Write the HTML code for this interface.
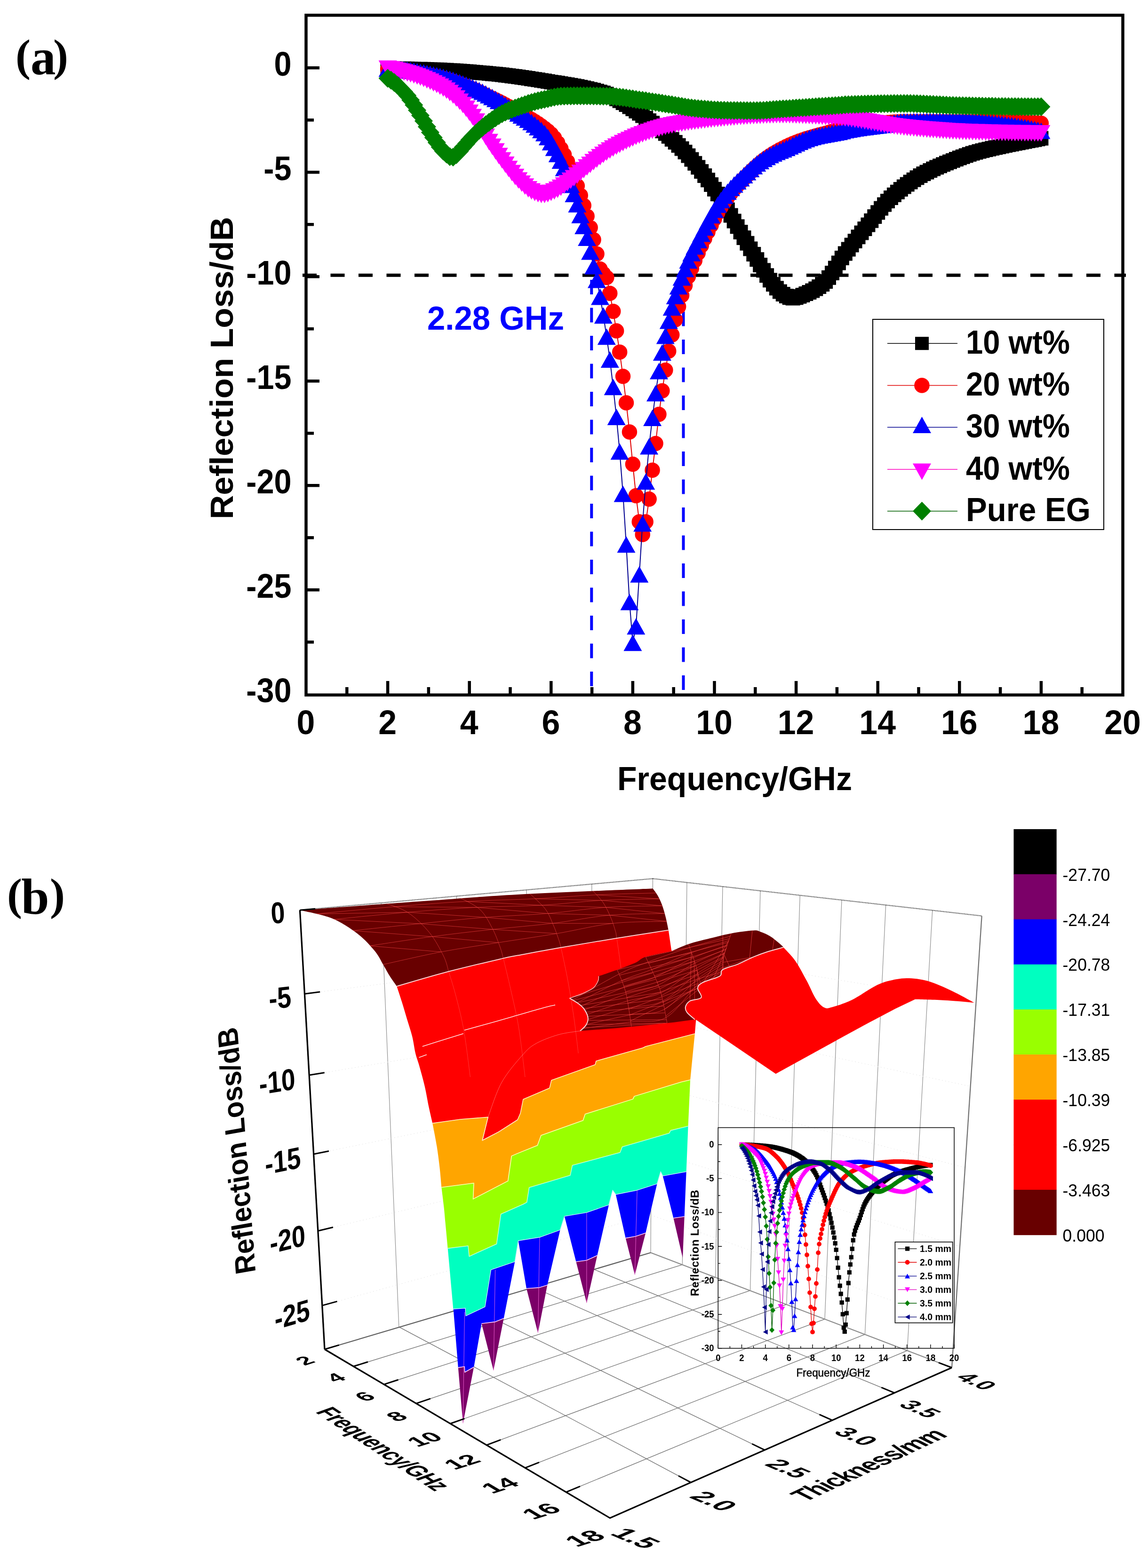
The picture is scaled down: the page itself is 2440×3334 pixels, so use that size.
<!DOCTYPE html>
<html lang="en">
<head>
<meta charset="utf-8">
<title>Reflection loss figure</title>
<style>
html,body{margin:0;padding:0;background:#fff;}
body{width:2440px;height:3334px;overflow:hidden;}
svg{display:block;}
text{font-family:"Liberation Sans",Arial,sans-serif;}
.serif{font-family:"Liberation Serif","Times New Roman",serif;}
</style>
</head>
<body>
<svg width="2440" height="3334" viewBox="0 0 2440 3334">
<rect width="2440" height="3334" fill="#ffffff"/>
<text class="serif" font-weight="bold" y="158"><tspan x="33" y="149.5" font-size="96">(</tspan><tspan x="65" y="158" font-size="107">a</tspan><tspan x="113" y="149.5" font-size="96">)</tspan></text>
<text class="serif" font-weight="bold" y="1943"><tspan x="15" y="1934" font-size="96">(</tspan><tspan x="45" y="1943" font-size="107">b</tspan><tspan x="106" y="1934" font-size="96">)</tspan></text>
<g id="panel-a" font-family="'Liberation Sans', Arial, sans-serif">
<path d="M643 585.3H2393" stroke="#000" stroke-width="7" stroke-dasharray="30 29.5" fill="none"/>
<path d="M1257.3 595V1476" stroke="#0000ff" stroke-width="6" stroke-dasharray="31 28.5" fill="none"/>
<path d="M1452.5 603V1476" stroke="#0000ff" stroke-width="6" stroke-dasharray="31 28.5" fill="none"/>
<path d="M824.1 145.7 L831 145.7 L838 145.8 L844.9 145.9 L851.9 146 L858.8 146.1 L865.8 146.3 L872.7 146.5 L879.7 146.7 L886.6 146.9 L893.5 147.1 L900.5 147.3 L907.4 147.5 L914.4 147.8 L921.3 148 L928.3 148.3 L935.2 148.6 L942.1 148.9 L949.1 149.3 L956 149.7 L963 150.1 L969.9 150.6 L976.9 151 L983.8 151.5 L990.8 152.1 L997.7 152.6 L1004.6 153.2 L1011.6 153.8 L1018.5 154.4 L1025.5 155 L1032.4 155.6 L1039.4 156.3 L1046.3 156.9 L1053.3 157.6 L1060.2 158.3 L1067.1 159.1 L1074.1 159.9 L1081 160.8 L1088 161.7 L1094.9 162.6 L1101.9 163.6 L1108.8 164.6 L1115.7 165.6 L1122.7 166.6 L1129.6 167.7 L1136.6 168.7 L1143.5 169.8 L1150.5 171 L1157.4 172.1 L1164.4 173.2 L1171.3 174.4 L1178.2 175.5 L1185.2 176.6 L1192.1 177.7 L1199.1 178.9 L1206 180 L1213 181.3 L1219.9 182.5 L1226.9 183.8 L1233.8 185.2 L1240.7 186.7 L1247.7 188.2 L1254.6 189.9 L1261.6 191.6 L1268.5 193.4 L1275.5 195.4 L1282.4 197.5 L1289.3 199.9 L1296.3 202.9 L1303.2 206.4 L1310.2 210.2 L1317.1 214.3 L1324.1 218.4 L1331 222.6 L1338 226.9 L1344.9 231.4 L1351.8 236.2 L1358.8 241.1 L1365.7 246.1 L1372.7 251.3 L1379.6 256.5 L1386.6 261.8 L1393.5 267.2 L1400.5 272.7 L1407.4 278.4 L1414.3 284.1 L1421.3 290.1 L1428.2 296.3 L1435.2 302.6 L1442.1 309.2 L1449.1 316.1 L1456 323.3 L1462.9 331 L1469.9 339 L1476.8 347.2 L1483.8 355.7 L1490.7 364.4 L1497.7 373.4 L1504.6 382.8 L1511.6 392.4 L1518.5 402.3 L1525.4 412.6 L1532.4 423.1 L1539.3 434.3 L1546.3 445.9 L1553.2 457.9 L1560.2 469.9 L1567.1 481.8 L1574.1 493.6 L1581 505.4 L1587.9 517.3 L1594.9 529 L1601.8 540.4 L1608.8 551.8 L1615.7 563.4 L1622.7 574.8 L1629.6 585.7 L1636.5 595.7 L1643.5 604.5 L1650.4 612.7 L1657.4 620.1 L1664.3 625.6 L1671.3 629.6 L1678.2 632.8 L1685.2 634 L1692.1 632.8 L1699 630.3 L1706 627.4 L1712.9 624.6 L1719.9 621.5 L1726.8 618 L1733.8 614 L1740.7 609.6 L1747.7 604.5 L1754.6 598.5 L1761.5 590.3 L1768.5 580.5 L1775.4 569.9 L1782.4 559 L1789.3 548.5 L1796.3 539 L1803.2 530 L1810.1 521.1 L1817.1 512.4 L1824 503.7 L1831 495.1 L1837.9 486.6 L1844.9 478.1 L1851.8 469.3 L1858.8 460.5 L1865.7 451.7 L1872.6 443.1 L1879.6 434.9 L1886.5 427.4 L1893.5 420.6 L1900.4 414.3 L1907.4 408.3 L1914.3 402.5 L1921.3 397.1 L1928.2 391.9 L1935.1 386.9 L1942.1 382.2 L1949 377.8 L1956 373.6 L1962.9 369.6 L1969.9 365.9 L1976.8 362.4 L1983.7 359 L1990.7 355.8 L1997.6 352.7 L2004.6 349.7 L2011.5 346.8 L2018.5 344 L2025.4 341.2 L2032.4 338.4 L2039.3 335.7 L2046.2 333.2 L2053.2 330.7 L2060.1 328.3 L2067.1 326.1 L2074 324 L2081 322.1 L2087.9 320.2 L2094.9 318.5 L2101.8 316.9 L2108.7 315.3 L2115.7 313.7 L2122.6 312.2 L2129.6 310.7 L2136.5 309.2 L2143.5 307.8 L2150.4 306.4 L2157.3 305 L2164.3 303.7 L2171.2 302.3 L2178.2 301 L2185.1 299.6 L2192.1 298.3 L2199 296.9 L2206 295.5 L2212.9 294.1" fill="none" stroke="#000000" stroke-width="2"/>
<path d="M808.6 130.2h31v31h-31zM815.5 130.2h31v31h-31zM822.5 130.3h31v31h-31zM829.4 130.4h31v31h-31zM836.4 130.5h31v31h-31zM843.3 130.6h31v31h-31zM850.3 130.8h31v31h-31zM857.2 131h31v31h-31zM864.2 131.2h31v31h-31zM871.1 131.4h31v31h-31zM878 131.6h31v31h-31zM885 131.8h31v31h-31zM891.9 132h31v31h-31zM898.9 132.3h31v31h-31zM905.8 132.5h31v31h-31zM912.8 132.8h31v31h-31zM919.7 133.1h31v31h-31zM926.6 133.4h31v31h-31zM933.6 133.8h31v31h-31zM940.5 134.2h31v31h-31zM947.5 134.6h31v31h-31zM954.4 135.1h31v31h-31zM961.4 135.5h31v31h-31zM968.3 136h31v31h-31zM975.3 136.6h31v31h-31zM982.2 137.1h31v31h-31zM989.1 137.7h31v31h-31zM996.1 138.3h31v31h-31zM1003 138.9h31v31h-31zM1010 139.5h31v31h-31zM1016.9 140.1h31v31h-31zM1023.9 140.8h31v31h-31zM1030.8 141.4h31v31h-31zM1037.8 142.1h31v31h-31zM1044.7 142.8h31v31h-31zM1051.6 143.6h31v31h-31zM1058.6 144.4h31v31h-31zM1065.5 145.3h31v31h-31zM1072.5 146.2h31v31h-31zM1079.4 147.1h31v31h-31zM1086.4 148.1h31v31h-31zM1093.3 149.1h31v31h-31zM1100.2 150.1h31v31h-31zM1107.2 151.1h31v31h-31zM1114.1 152.2h31v31h-31zM1121.1 153.2h31v31h-31zM1128 154.3h31v31h-31zM1135 155.5h31v31h-31zM1141.9 156.6h31v31h-31zM1148.9 157.7h31v31h-31zM1155.8 158.9h31v31h-31zM1162.7 160h31v31h-31zM1169.7 161.1h31v31h-31zM1176.6 162.2h31v31h-31zM1183.6 163.4h31v31h-31zM1190.5 164.5h31v31h-31zM1197.5 165.8h31v31h-31zM1204.4 167h31v31h-31zM1211.4 168.3h31v31h-31zM1218.3 169.7h31v31h-31zM1225.2 171.2h31v31h-31zM1232.2 172.7h31v31h-31zM1239.1 174.4h31v31h-31zM1246.1 176.1h31v31h-31zM1253 177.9h31v31h-31zM1260 179.9h31v31h-31zM1266.9 182h31v31h-31zM1273.8 184.4h31v31h-31zM1280.8 187.4h31v31h-31zM1287.7 190.9h31v31h-31zM1294.7 194.7h31v31h-31zM1301.6 198.8h31v31h-31zM1308.6 202.9h31v31h-31zM1315.5 207.1h31v31h-31zM1322.5 211.4h31v31h-31zM1329.4 215.9h31v31h-31zM1336.3 220.7h31v31h-31zM1343.3 225.6h31v31h-31zM1350.2 230.6h31v31h-31zM1357.2 235.8h31v31h-31zM1364.1 241h31v31h-31zM1371.1 246.3h31v31h-31zM1378 251.7h31v31h-31zM1385 257.2h31v31h-31zM1391.9 262.9h31v31h-31zM1398.8 268.6h31v31h-31zM1405.8 274.6h31v31h-31zM1412.7 280.8h31v31h-31zM1419.7 287.1h31v31h-31zM1426.6 293.7h31v31h-31zM1433.6 300.6h31v31h-31zM1440.5 307.8h31v31h-31zM1447.4 315.5h31v31h-31zM1454.4 323.5h31v31h-31zM1461.3 331.7h31v31h-31zM1468.3 340.2h31v31h-31zM1475.2 348.9h31v31h-31zM1482.2 357.9h31v31h-31zM1489.1 367.3h31v31h-31zM1496.1 376.9h31v31h-31zM1503 386.8h31v31h-31zM1509.9 397.1h31v31h-31zM1516.9 407.6h31v31h-31zM1523.8 418.8h31v31h-31zM1530.8 430.4h31v31h-31zM1537.7 442.4h31v31h-31zM1544.7 454.4h31v31h-31zM1551.6 466.3h31v31h-31zM1558.6 478.1h31v31h-31zM1565.5 489.9h31v31h-31zM1572.4 501.8h31v31h-31zM1579.4 513.5h31v31h-31zM1586.3 524.9h31v31h-31zM1593.3 536.3h31v31h-31zM1600.2 547.9h31v31h-31zM1607.2 559.3h31v31h-31zM1614.1 570.2h31v31h-31zM1621 580.2h31v31h-31zM1628 589h31v31h-31zM1634.9 597.2h31v31h-31zM1641.9 604.6h31v31h-31zM1648.8 610.1h31v31h-31zM1655.8 614.1h31v31h-31zM1662.7 617.3h31v31h-31zM1669.7 618.5h31v31h-31zM1676.6 617.3h31v31h-31zM1683.5 614.8h31v31h-31zM1690.5 611.9h31v31h-31zM1697.4 609.1h31v31h-31zM1704.4 606h31v31h-31zM1711.3 602.5h31v31h-31zM1718.3 598.5h31v31h-31zM1725.2 594.1h31v31h-31zM1732.2 589h31v31h-31zM1739.1 583h31v31h-31zM1746 574.8h31v31h-31zM1753 565h31v31h-31zM1759.9 554.4h31v31h-31zM1766.9 543.5h31v31h-31zM1773.8 533h31v31h-31zM1780.8 523.5h31v31h-31zM1787.7 514.5h31v31h-31zM1794.6 505.6h31v31h-31zM1801.6 496.9h31v31h-31zM1808.5 488.2h31v31h-31zM1815.5 479.6h31v31h-31zM1822.4 471.1h31v31h-31zM1829.4 462.6h31v31h-31zM1836.3 453.8h31v31h-31zM1843.3 445h31v31h-31zM1850.2 436.2h31v31h-31zM1857.1 427.6h31v31h-31zM1864.1 419.4h31v31h-31zM1871 411.9h31v31h-31zM1878 405.1h31v31h-31zM1884.9 398.8h31v31h-31zM1891.9 392.8h31v31h-31zM1898.8 387h31v31h-31zM1905.8 381.6h31v31h-31zM1912.7 376.4h31v31h-31zM1919.6 371.4h31v31h-31zM1926.6 366.7h31v31h-31zM1933.5 362.3h31v31h-31zM1940.5 358.1h31v31h-31zM1947.4 354.1h31v31h-31zM1954.4 350.4h31v31h-31zM1961.3 346.9h31v31h-31zM1968.2 343.5h31v31h-31zM1975.2 340.3h31v31h-31zM1982.1 337.2h31v31h-31zM1989.1 334.2h31v31h-31zM1996 331.3h31v31h-31zM2003 328.5h31v31h-31zM2009.9 325.7h31v31h-31zM2016.9 322.9h31v31h-31zM2023.8 320.2h31v31h-31zM2030.7 317.7h31v31h-31zM2037.7 315.2h31v31h-31zM2044.6 312.8h31v31h-31zM2051.6 310.6h31v31h-31zM2058.5 308.5h31v31h-31zM2065.5 306.6h31v31h-31zM2072.4 304.7h31v31h-31zM2079.4 303h31v31h-31zM2086.3 301.4h31v31h-31zM2093.2 299.8h31v31h-31zM2100.2 298.2h31v31h-31zM2107.1 296.7h31v31h-31zM2114.1 295.2h31v31h-31zM2121 293.7h31v31h-31zM2128 292.3h31v31h-31zM2134.9 290.9h31v31h-31zM2141.8 289.5h31v31h-31zM2148.8 288.2h31v31h-31zM2155.7 286.8h31v31h-31zM2162.7 285.5h31v31h-31zM2169.6 284.1h31v31h-31zM2176.6 282.8h31v31h-31zM2183.5 281.4h31v31h-31zM2190.5 280h31v31h-31zM2197.4 278.6h31v31h-31z" fill="#000000"/>
<path d="M824.1 147 L831 148.4 L838 149.5 L844.9 150.4 L851.9 150.9 L858.8 151.4 L865.8 152.1 L872.7 153 L879.7 154 L886.6 155.2 L893.5 156.4 L900.5 157.6 L907.4 159 L914.4 160.4 L921.3 162 L928.3 163.6 L935.2 165.2 L942.1 167 L949.1 168.9 L956 171 L963 173.3 L969.9 175.8 L976.9 178.3 L983.8 180.9 L990.8 183.5 L997.7 186.2 L1004.6 189 L1011.6 192 L1018.5 195.2 L1025.5 198.6 L1032.4 202.2 L1039.4 205.7 L1046.3 209 L1053.3 212.3 L1060.2 215.6 L1067.1 219.1 L1074.1 222.8 L1081 226.5 L1088 230.3 L1094.9 234.2 L1101.9 238.2 L1108.8 242.2 L1115.7 246 L1122.7 249.9 L1129.6 253.9 L1136.6 258.2 L1143.5 262.8 L1150.5 267.8 L1157.4 273.1 L1164.4 278.5 L1171.3 285 L1178.2 293.2 L1185.2 303.5 L1192.1 316 L1199.1 329.1 L1206 343.4 L1213 359.5 L1219.9 376.8 L1226.9 395.3 L1233.8 415.4 L1240.7 437.1 L1247.7 459.8 L1254.6 483.9 L1261.6 509.7 L1268.5 540 L1275.5 572.1 L1282.4 582.1 L1289.3 590 L1296.3 623.8 L1303.2 662.1 L1310.2 703.4 L1317.1 748.8 L1324.1 800.2 L1331 856.5 L1338 918.4 L1344.9 987 L1351.8 1054 L1358.8 1109.5 L1365.7 1136.4 L1372.7 1109.5 L1379.6 1061.2 L1386.6 999.8 L1393.5 943 L1400.5 881 L1407.4 831 L1414.3 787 L1421.3 746.5 L1428.2 712 L1435.2 680 L1442.1 652 L1449.1 628 L1456 607 L1462.9 588 L1469.9 570.6 L1476.8 554 L1483.8 537.9 L1490.7 522.2 L1497.7 507.2 L1504.6 493 L1511.6 479 L1518.5 465.5 L1525.4 452.6 L1532.4 440.5 L1539.3 429.7 L1546.3 419.9 L1553.2 410.9 L1560.2 402.4 L1567.1 394.5 L1574.1 387 L1581 379.9 L1587.9 372.9 L1594.9 366 L1601.8 359.3 L1608.8 352.9 L1615.7 346.8 L1622.7 341.1 L1629.6 335.7 L1636.5 330.9 L1643.5 326.5 L1650.4 322.4 L1657.4 318.6 L1664.3 314.9 L1671.3 311.5 L1678.2 308.3 L1685.2 305.3 L1692.1 302.5 L1699 299.8 L1706 297.4 L1712.9 295.1 L1719.9 292.9 L1726.8 290.9 L1733.8 288.9 L1740.7 287 L1747.7 285.2 L1754.6 283.4 L1761.5 281.5 L1768.5 279.6 L1775.4 277.7 L1782.4 275.8 L1789.3 274.1 L1796.3 272.7 L1803.2 271.5 L1810.1 270.4 L1817.1 269.3 L1824 268.2 L1831 267.1 L1837.9 266.1 L1844.9 265.1 L1851.8 264.2 L1858.8 263.3 L1865.7 262.5 L1872.6 261.7 L1879.6 261 L1886.5 260.4 L1893.5 259.9 L1900.4 259.5 L1907.4 259.2 L1914.3 259.1 L1921.3 259 L1928.2 259 L1935.1 259 L1942.1 259 L1949 259 L1956 259 L1962.9 259 L1969.9 259 L1976.8 259 L1983.7 259 L1990.7 259 L1997.6 259 L2004.6 259 L2011.5 259 L2018.5 259 L2025.4 259 L2032.4 259 L2039.3 259 L2046.2 259 L2053.2 259 L2060.1 259 L2067.1 259 L2074 259 L2081 259 L2087.9 259 L2094.9 259 L2101.8 259 L2108.7 259 L2115.7 259.1 L2122.6 259.2 L2129.6 259.3 L2136.5 259.4 L2143.5 259.6 L2150.4 259.7 L2157.3 259.9 L2164.3 260 L2171.2 260.2 L2178.2 260.4 L2185.1 260.7 L2192.1 261 L2199 261.3 L2206 261.6 L2212.9 262" fill="none" stroke="#e00000" stroke-width="2"/>
<path d="M807.9 147a16.2 16.2 0 1 0 32.5 0a16.2 16.2 0 1 0 -32.5 0zM814.8 148.4a16.2 16.2 0 1 0 32.5 0a16.2 16.2 0 1 0 -32.5 0zM821.7 149.5a16.2 16.2 0 1 0 32.5 0a16.2 16.2 0 1 0 -32.5 0zM828.7 150.4a16.2 16.2 0 1 0 32.5 0a16.2 16.2 0 1 0 -32.5 0zM835.6 150.9a16.2 16.2 0 1 0 32.5 0a16.2 16.2 0 1 0 -32.5 0zM842.6 151.4a16.2 16.2 0 1 0 32.5 0a16.2 16.2 0 1 0 -32.5 0zM849.5 152.1a16.2 16.2 0 1 0 32.5 0a16.2 16.2 0 1 0 -32.5 0zM856.5 153a16.2 16.2 0 1 0 32.5 0a16.2 16.2 0 1 0 -32.5 0zM863.4 154a16.2 16.2 0 1 0 32.5 0a16.2 16.2 0 1 0 -32.5 0zM870.3 155.2a16.2 16.2 0 1 0 32.5 0a16.2 16.2 0 1 0 -32.5 0zM877.3 156.4a16.2 16.2 0 1 0 32.5 0a16.2 16.2 0 1 0 -32.5 0zM884.2 157.6a16.2 16.2 0 1 0 32.5 0a16.2 16.2 0 1 0 -32.5 0zM891.2 159a16.2 16.2 0 1 0 32.5 0a16.2 16.2 0 1 0 -32.5 0zM898.1 160.4a16.2 16.2 0 1 0 32.5 0a16.2 16.2 0 1 0 -32.5 0zM905.1 162a16.2 16.2 0 1 0 32.5 0a16.2 16.2 0 1 0 -32.5 0zM912 163.6a16.2 16.2 0 1 0 32.5 0a16.2 16.2 0 1 0 -32.5 0zM919 165.2a16.2 16.2 0 1 0 32.5 0a16.2 16.2 0 1 0 -32.5 0zM925.9 167a16.2 16.2 0 1 0 32.5 0a16.2 16.2 0 1 0 -32.5 0zM932.8 168.9a16.2 16.2 0 1 0 32.5 0a16.2 16.2 0 1 0 -32.5 0zM939.8 171a16.2 16.2 0 1 0 32.5 0a16.2 16.2 0 1 0 -32.5 0zM946.7 173.3a16.2 16.2 0 1 0 32.5 0a16.2 16.2 0 1 0 -32.5 0zM953.7 175.8a16.2 16.2 0 1 0 32.5 0a16.2 16.2 0 1 0 -32.5 0zM960.6 178.3a16.2 16.2 0 1 0 32.5 0a16.2 16.2 0 1 0 -32.5 0zM967.6 180.9a16.2 16.2 0 1 0 32.5 0a16.2 16.2 0 1 0 -32.5 0zM974.5 183.5a16.2 16.2 0 1 0 32.5 0a16.2 16.2 0 1 0 -32.5 0zM981.5 186.2a16.2 16.2 0 1 0 32.5 0a16.2 16.2 0 1 0 -32.5 0zM988.4 189a16.2 16.2 0 1 0 32.5 0a16.2 16.2 0 1 0 -32.5 0zM995.3 192a16.2 16.2 0 1 0 32.5 0a16.2 16.2 0 1 0 -32.5 0zM1002.3 195.2a16.2 16.2 0 1 0 32.5 0a16.2 16.2 0 1 0 -32.5 0zM1009.2 198.6a16.2 16.2 0 1 0 32.5 0a16.2 16.2 0 1 0 -32.5 0zM1016.2 202.2a16.2 16.2 0 1 0 32.5 0a16.2 16.2 0 1 0 -32.5 0zM1023.1 205.7a16.2 16.2 0 1 0 32.5 0a16.2 16.2 0 1 0 -32.5 0zM1030.1 209a16.2 16.2 0 1 0 32.5 0a16.2 16.2 0 1 0 -32.5 0zM1037 212.3a16.2 16.2 0 1 0 32.5 0a16.2 16.2 0 1 0 -32.5 0zM1043.9 215.6a16.2 16.2 0 1 0 32.5 0a16.2 16.2 0 1 0 -32.5 0zM1050.9 219.1a16.2 16.2 0 1 0 32.5 0a16.2 16.2 0 1 0 -32.5 0zM1057.8 222.8a16.2 16.2 0 1 0 32.5 0a16.2 16.2 0 1 0 -32.5 0zM1064.8 226.5a16.2 16.2 0 1 0 32.5 0a16.2 16.2 0 1 0 -32.5 0zM1071.7 230.3a16.2 16.2 0 1 0 32.5 0a16.2 16.2 0 1 0 -32.5 0zM1078.7 234.2a16.2 16.2 0 1 0 32.5 0a16.2 16.2 0 1 0 -32.5 0zM1085.6 238.2a16.2 16.2 0 1 0 32.5 0a16.2 16.2 0 1 0 -32.5 0zM1092.6 242.2a16.2 16.2 0 1 0 32.5 0a16.2 16.2 0 1 0 -32.5 0zM1099.5 246a16.2 16.2 0 1 0 32.5 0a16.2 16.2 0 1 0 -32.5 0zM1106.4 249.9a16.2 16.2 0 1 0 32.5 0a16.2 16.2 0 1 0 -32.5 0zM1113.4 253.9a16.2 16.2 0 1 0 32.5 0a16.2 16.2 0 1 0 -32.5 0zM1120.3 258.2a16.2 16.2 0 1 0 32.5 0a16.2 16.2 0 1 0 -32.5 0zM1127.3 262.8a16.2 16.2 0 1 0 32.5 0a16.2 16.2 0 1 0 -32.5 0zM1134.2 267.8a16.2 16.2 0 1 0 32.5 0a16.2 16.2 0 1 0 -32.5 0zM1141.2 273.1a16.2 16.2 0 1 0 32.5 0a16.2 16.2 0 1 0 -32.5 0zM1148.1 278.5a16.2 16.2 0 1 0 32.5 0a16.2 16.2 0 1 0 -32.5 0zM1155 285a16.2 16.2 0 1 0 32.5 0a16.2 16.2 0 1 0 -32.5 0zM1162 293.2a16.2 16.2 0 1 0 32.5 0a16.2 16.2 0 1 0 -32.5 0zM1168.9 303.5a16.2 16.2 0 1 0 32.5 0a16.2 16.2 0 1 0 -32.5 0zM1175.9 316a16.2 16.2 0 1 0 32.5 0a16.2 16.2 0 1 0 -32.5 0zM1182.8 329.1a16.2 16.2 0 1 0 32.5 0a16.2 16.2 0 1 0 -32.5 0zM1189.8 343.4a16.2 16.2 0 1 0 32.5 0a16.2 16.2 0 1 0 -32.5 0zM1196.7 359.5a16.2 16.2 0 1 0 32.5 0a16.2 16.2 0 1 0 -32.5 0zM1203.7 376.8a16.2 16.2 0 1 0 32.5 0a16.2 16.2 0 1 0 -32.5 0zM1210.6 395.3a16.2 16.2 0 1 0 32.5 0a16.2 16.2 0 1 0 -32.5 0zM1217.5 415.4a16.2 16.2 0 1 0 32.5 0a16.2 16.2 0 1 0 -32.5 0zM1224.5 437.1a16.2 16.2 0 1 0 32.5 0a16.2 16.2 0 1 0 -32.5 0zM1231.4 459.8a16.2 16.2 0 1 0 32.5 0a16.2 16.2 0 1 0 -32.5 0zM1238.4 483.9a16.2 16.2 0 1 0 32.5 0a16.2 16.2 0 1 0 -32.5 0zM1245.3 509.7a16.2 16.2 0 1 0 32.5 0a16.2 16.2 0 1 0 -32.5 0zM1252.3 540a16.2 16.2 0 1 0 32.5 0a16.2 16.2 0 1 0 -32.5 0zM1259.2 572.1a16.2 16.2 0 1 0 32.5 0a16.2 16.2 0 1 0 -32.5 0zM1266.2 582.1a16.2 16.2 0 1 0 32.5 0a16.2 16.2 0 1 0 -32.5 0zM1273.1 590a16.2 16.2 0 1 0 32.5 0a16.2 16.2 0 1 0 -32.5 0zM1280 623.8a16.2 16.2 0 1 0 32.5 0a16.2 16.2 0 1 0 -32.5 0zM1287 662.1a16.2 16.2 0 1 0 32.5 0a16.2 16.2 0 1 0 -32.5 0zM1293.9 703.4a16.2 16.2 0 1 0 32.5 0a16.2 16.2 0 1 0 -32.5 0zM1300.9 748.8a16.2 16.2 0 1 0 32.5 0a16.2 16.2 0 1 0 -32.5 0zM1307.8 800.2a16.2 16.2 0 1 0 32.5 0a16.2 16.2 0 1 0 -32.5 0zM1314.8 856.5a16.2 16.2 0 1 0 32.5 0a16.2 16.2 0 1 0 -32.5 0zM1321.7 918.4a16.2 16.2 0 1 0 32.5 0a16.2 16.2 0 1 0 -32.5 0zM1328.7 987a16.2 16.2 0 1 0 32.5 0a16.2 16.2 0 1 0 -32.5 0zM1335.6 1054a16.2 16.2 0 1 0 32.5 0a16.2 16.2 0 1 0 -32.5 0zM1342.5 1109.5a16.2 16.2 0 1 0 32.5 0a16.2 16.2 0 1 0 -32.5 0zM1349.5 1136.4a16.2 16.2 0 1 0 32.5 0a16.2 16.2 0 1 0 -32.5 0zM1356.4 1109.5a16.2 16.2 0 1 0 32.5 0a16.2 16.2 0 1 0 -32.5 0zM1363.4 1061.2a16.2 16.2 0 1 0 32.5 0a16.2 16.2 0 1 0 -32.5 0zM1370.3 999.8a16.2 16.2 0 1 0 32.5 0a16.2 16.2 0 1 0 -32.5 0zM1377.3 943a16.2 16.2 0 1 0 32.5 0a16.2 16.2 0 1 0 -32.5 0zM1384.2 881a16.2 16.2 0 1 0 32.5 0a16.2 16.2 0 1 0 -32.5 0zM1391.1 831a16.2 16.2 0 1 0 32.5 0a16.2 16.2 0 1 0 -32.5 0zM1398.1 787a16.2 16.2 0 1 0 32.5 0a16.2 16.2 0 1 0 -32.5 0zM1405 746.5a16.2 16.2 0 1 0 32.5 0a16.2 16.2 0 1 0 -32.5 0zM1412 712a16.2 16.2 0 1 0 32.5 0a16.2 16.2 0 1 0 -32.5 0zM1418.9 680a16.2 16.2 0 1 0 32.5 0a16.2 16.2 0 1 0 -32.5 0zM1425.9 652a16.2 16.2 0 1 0 32.5 0a16.2 16.2 0 1 0 -32.5 0zM1432.8 628a16.2 16.2 0 1 0 32.5 0a16.2 16.2 0 1 0 -32.5 0zM1439.8 607a16.2 16.2 0 1 0 32.5 0a16.2 16.2 0 1 0 -32.5 0zM1446.7 588a16.2 16.2 0 1 0 32.5 0a16.2 16.2 0 1 0 -32.5 0zM1453.6 570.6a16.2 16.2 0 1 0 32.5 0a16.2 16.2 0 1 0 -32.5 0zM1460.6 554a16.2 16.2 0 1 0 32.5 0a16.2 16.2 0 1 0 -32.5 0zM1467.5 537.9a16.2 16.2 0 1 0 32.5 0a16.2 16.2 0 1 0 -32.5 0zM1474.5 522.2a16.2 16.2 0 1 0 32.5 0a16.2 16.2 0 1 0 -32.5 0zM1481.4 507.2a16.2 16.2 0 1 0 32.5 0a16.2 16.2 0 1 0 -32.5 0zM1488.4 493a16.2 16.2 0 1 0 32.5 0a16.2 16.2 0 1 0 -32.5 0zM1495.3 479a16.2 16.2 0 1 0 32.5 0a16.2 16.2 0 1 0 -32.5 0zM1502.2 465.5a16.2 16.2 0 1 0 32.5 0a16.2 16.2 0 1 0 -32.5 0zM1509.2 452.6a16.2 16.2 0 1 0 32.5 0a16.2 16.2 0 1 0 -32.5 0zM1516.1 440.5a16.2 16.2 0 1 0 32.5 0a16.2 16.2 0 1 0 -32.5 0zM1523.1 429.7a16.2 16.2 0 1 0 32.5 0a16.2 16.2 0 1 0 -32.5 0zM1530 419.9a16.2 16.2 0 1 0 32.5 0a16.2 16.2 0 1 0 -32.5 0zM1537 410.9a16.2 16.2 0 1 0 32.5 0a16.2 16.2 0 1 0 -32.5 0zM1543.9 402.4a16.2 16.2 0 1 0 32.5 0a16.2 16.2 0 1 0 -32.5 0zM1550.9 394.5a16.2 16.2 0 1 0 32.5 0a16.2 16.2 0 1 0 -32.5 0zM1557.8 387a16.2 16.2 0 1 0 32.5 0a16.2 16.2 0 1 0 -32.5 0zM1564.7 379.9a16.2 16.2 0 1 0 32.5 0a16.2 16.2 0 1 0 -32.5 0zM1571.7 372.9a16.2 16.2 0 1 0 32.5 0a16.2 16.2 0 1 0 -32.5 0zM1578.6 366a16.2 16.2 0 1 0 32.5 0a16.2 16.2 0 1 0 -32.5 0zM1585.6 359.3a16.2 16.2 0 1 0 32.5 0a16.2 16.2 0 1 0 -32.5 0zM1592.5 352.9a16.2 16.2 0 1 0 32.5 0a16.2 16.2 0 1 0 -32.5 0zM1599.5 346.8a16.2 16.2 0 1 0 32.5 0a16.2 16.2 0 1 0 -32.5 0zM1606.4 341.1a16.2 16.2 0 1 0 32.5 0a16.2 16.2 0 1 0 -32.5 0zM1613.4 335.7a16.2 16.2 0 1 0 32.5 0a16.2 16.2 0 1 0 -32.5 0zM1620.3 330.9a16.2 16.2 0 1 0 32.5 0a16.2 16.2 0 1 0 -32.5 0zM1627.2 326.5a16.2 16.2 0 1 0 32.5 0a16.2 16.2 0 1 0 -32.5 0zM1634.2 322.4a16.2 16.2 0 1 0 32.5 0a16.2 16.2 0 1 0 -32.5 0zM1641.1 318.6a16.2 16.2 0 1 0 32.5 0a16.2 16.2 0 1 0 -32.5 0zM1648.1 314.9a16.2 16.2 0 1 0 32.5 0a16.2 16.2 0 1 0 -32.5 0zM1655 311.5a16.2 16.2 0 1 0 32.5 0a16.2 16.2 0 1 0 -32.5 0zM1662 308.3a16.2 16.2 0 1 0 32.5 0a16.2 16.2 0 1 0 -32.5 0zM1668.9 305.3a16.2 16.2 0 1 0 32.5 0a16.2 16.2 0 1 0 -32.5 0zM1675.8 302.5a16.2 16.2 0 1 0 32.5 0a16.2 16.2 0 1 0 -32.5 0zM1682.8 299.8a16.2 16.2 0 1 0 32.5 0a16.2 16.2 0 1 0 -32.5 0zM1689.7 297.4a16.2 16.2 0 1 0 32.5 0a16.2 16.2 0 1 0 -32.5 0zM1696.7 295.1a16.2 16.2 0 1 0 32.5 0a16.2 16.2 0 1 0 -32.5 0zM1703.6 292.9a16.2 16.2 0 1 0 32.5 0a16.2 16.2 0 1 0 -32.5 0zM1710.6 290.9a16.2 16.2 0 1 0 32.5 0a16.2 16.2 0 1 0 -32.5 0zM1717.5 288.9a16.2 16.2 0 1 0 32.5 0a16.2 16.2 0 1 0 -32.5 0zM1724.5 287a16.2 16.2 0 1 0 32.5 0a16.2 16.2 0 1 0 -32.5 0zM1731.4 285.2a16.2 16.2 0 1 0 32.5 0a16.2 16.2 0 1 0 -32.5 0zM1738.3 283.4a16.2 16.2 0 1 0 32.5 0a16.2 16.2 0 1 0 -32.5 0zM1745.3 281.5a16.2 16.2 0 1 0 32.5 0a16.2 16.2 0 1 0 -32.5 0zM1752.2 279.6a16.2 16.2 0 1 0 32.5 0a16.2 16.2 0 1 0 -32.5 0zM1759.2 277.7a16.2 16.2 0 1 0 32.5 0a16.2 16.2 0 1 0 -32.5 0zM1766.1 275.8a16.2 16.2 0 1 0 32.5 0a16.2 16.2 0 1 0 -32.5 0zM1773.1 274.1a16.2 16.2 0 1 0 32.5 0a16.2 16.2 0 1 0 -32.5 0zM1780 272.7a16.2 16.2 0 1 0 32.5 0a16.2 16.2 0 1 0 -32.5 0zM1787 271.5a16.2 16.2 0 1 0 32.5 0a16.2 16.2 0 1 0 -32.5 0zM1793.9 270.4a16.2 16.2 0 1 0 32.5 0a16.2 16.2 0 1 0 -32.5 0zM1800.8 269.3a16.2 16.2 0 1 0 32.5 0a16.2 16.2 0 1 0 -32.5 0zM1807.8 268.2a16.2 16.2 0 1 0 32.5 0a16.2 16.2 0 1 0 -32.5 0zM1814.7 267.1a16.2 16.2 0 1 0 32.5 0a16.2 16.2 0 1 0 -32.5 0zM1821.7 266.1a16.2 16.2 0 1 0 32.5 0a16.2 16.2 0 1 0 -32.5 0zM1828.6 265.1a16.2 16.2 0 1 0 32.5 0a16.2 16.2 0 1 0 -32.5 0zM1835.6 264.2a16.2 16.2 0 1 0 32.5 0a16.2 16.2 0 1 0 -32.5 0zM1842.5 263.3a16.2 16.2 0 1 0 32.5 0a16.2 16.2 0 1 0 -32.5 0zM1849.5 262.5a16.2 16.2 0 1 0 32.5 0a16.2 16.2 0 1 0 -32.5 0zM1856.4 261.7a16.2 16.2 0 1 0 32.5 0a16.2 16.2 0 1 0 -32.5 0zM1863.3 261a16.2 16.2 0 1 0 32.5 0a16.2 16.2 0 1 0 -32.5 0zM1870.3 260.4a16.2 16.2 0 1 0 32.5 0a16.2 16.2 0 1 0 -32.5 0zM1877.2 259.9a16.2 16.2 0 1 0 32.5 0a16.2 16.2 0 1 0 -32.5 0zM1884.2 259.5a16.2 16.2 0 1 0 32.5 0a16.2 16.2 0 1 0 -32.5 0zM1891.1 259.2a16.2 16.2 0 1 0 32.5 0a16.2 16.2 0 1 0 -32.5 0zM1898.1 259.1a16.2 16.2 0 1 0 32.5 0a16.2 16.2 0 1 0 -32.5 0zM1905 259a16.2 16.2 0 1 0 32.5 0a16.2 16.2 0 1 0 -32.5 0zM1911.9 259a16.2 16.2 0 1 0 32.5 0a16.2 16.2 0 1 0 -32.5 0zM1918.9 259a16.2 16.2 0 1 0 32.5 0a16.2 16.2 0 1 0 -32.5 0zM1925.8 259a16.2 16.2 0 1 0 32.5 0a16.2 16.2 0 1 0 -32.5 0zM1932.8 259a16.2 16.2 0 1 0 32.5 0a16.2 16.2 0 1 0 -32.5 0zM1939.7 259a16.2 16.2 0 1 0 32.5 0a16.2 16.2 0 1 0 -32.5 0zM1946.7 259a16.2 16.2 0 1 0 32.5 0a16.2 16.2 0 1 0 -32.5 0zM1953.6 259a16.2 16.2 0 1 0 32.5 0a16.2 16.2 0 1 0 -32.5 0zM1960.6 259a16.2 16.2 0 1 0 32.5 0a16.2 16.2 0 1 0 -32.5 0zM1967.5 259a16.2 16.2 0 1 0 32.5 0a16.2 16.2 0 1 0 -32.5 0zM1974.4 259a16.2 16.2 0 1 0 32.5 0a16.2 16.2 0 1 0 -32.5 0zM1981.4 259a16.2 16.2 0 1 0 32.5 0a16.2 16.2 0 1 0 -32.5 0zM1988.3 259a16.2 16.2 0 1 0 32.5 0a16.2 16.2 0 1 0 -32.5 0zM1995.3 259a16.2 16.2 0 1 0 32.5 0a16.2 16.2 0 1 0 -32.5 0zM2002.2 259a16.2 16.2 0 1 0 32.5 0a16.2 16.2 0 1 0 -32.5 0zM2009.2 259a16.2 16.2 0 1 0 32.5 0a16.2 16.2 0 1 0 -32.5 0zM2016.1 259a16.2 16.2 0 1 0 32.5 0a16.2 16.2 0 1 0 -32.5 0zM2023 259a16.2 16.2 0 1 0 32.5 0a16.2 16.2 0 1 0 -32.5 0zM2030 259a16.2 16.2 0 1 0 32.5 0a16.2 16.2 0 1 0 -32.5 0zM2036.9 259a16.2 16.2 0 1 0 32.5 0a16.2 16.2 0 1 0 -32.5 0zM2043.9 259a16.2 16.2 0 1 0 32.5 0a16.2 16.2 0 1 0 -32.5 0zM2050.8 259a16.2 16.2 0 1 0 32.5 0a16.2 16.2 0 1 0 -32.5 0zM2057.8 259a16.2 16.2 0 1 0 32.5 0a16.2 16.2 0 1 0 -32.5 0zM2064.7 259a16.2 16.2 0 1 0 32.5 0a16.2 16.2 0 1 0 -32.5 0zM2071.7 259a16.2 16.2 0 1 0 32.5 0a16.2 16.2 0 1 0 -32.5 0zM2078.6 259a16.2 16.2 0 1 0 32.5 0a16.2 16.2 0 1 0 -32.5 0zM2085.5 259a16.2 16.2 0 1 0 32.5 0a16.2 16.2 0 1 0 -32.5 0zM2092.5 259a16.2 16.2 0 1 0 32.5 0a16.2 16.2 0 1 0 -32.5 0zM2099.4 259.1a16.2 16.2 0 1 0 32.5 0a16.2 16.2 0 1 0 -32.5 0zM2106.4 259.2a16.2 16.2 0 1 0 32.5 0a16.2 16.2 0 1 0 -32.5 0zM2113.3 259.3a16.2 16.2 0 1 0 32.5 0a16.2 16.2 0 1 0 -32.5 0zM2120.3 259.4a16.2 16.2 0 1 0 32.5 0a16.2 16.2 0 1 0 -32.5 0zM2127.2 259.6a16.2 16.2 0 1 0 32.5 0a16.2 16.2 0 1 0 -32.5 0zM2134.2 259.7a16.2 16.2 0 1 0 32.5 0a16.2 16.2 0 1 0 -32.5 0zM2141.1 259.9a16.2 16.2 0 1 0 32.5 0a16.2 16.2 0 1 0 -32.5 0zM2148 260a16.2 16.2 0 1 0 32.5 0a16.2 16.2 0 1 0 -32.5 0zM2155 260.2a16.2 16.2 0 1 0 32.5 0a16.2 16.2 0 1 0 -32.5 0zM2161.9 260.4a16.2 16.2 0 1 0 32.5 0a16.2 16.2 0 1 0 -32.5 0zM2168.9 260.7a16.2 16.2 0 1 0 32.5 0a16.2 16.2 0 1 0 -32.5 0zM2175.8 261a16.2 16.2 0 1 0 32.5 0a16.2 16.2 0 1 0 -32.5 0zM2182.8 261.3a16.2 16.2 0 1 0 32.5 0a16.2 16.2 0 1 0 -32.5 0zM2189.7 261.6a16.2 16.2 0 1 0 32.5 0a16.2 16.2 0 1 0 -32.5 0zM2196.6 262a16.2 16.2 0 1 0 32.5 0a16.2 16.2 0 1 0 -32.5 0z" fill="#ff0000"/>
<path d="M824.1 146 L831 146.1 L838 146.4 L844.9 146.9 L851.9 147.4 L858.8 147.9 L865.8 148.6 L872.7 149.5 L879.7 150.5 L886.6 151.7 L893.5 152.9 L900.5 154.1 L907.4 155.5 L914.4 156.9 L921.3 158.5 L928.3 160.1 L935.2 161.7 L942.1 163.5 L949.1 165.4 L956 167.5 L963 169.8 L969.9 172.3 L976.9 174.8 L983.8 177.4 L990.8 180 L997.7 182.7 L1004.6 185.5 L1011.6 188.5 L1018.5 191.7 L1025.5 195.1 L1032.4 198.7 L1039.4 202.4 L1046.3 206.2 L1053.3 210.2 L1060.2 214.4 L1067.1 218.7 L1074.1 223.1 L1081 227.5 L1088 232.1 L1094.9 236.7 L1101.9 241.2 L1108.8 245.5 L1115.7 249.8 L1122.7 254.4 L1129.6 259.4 L1136.6 264.7 L1143.5 270.4 L1150.5 276.4 L1157.4 283.1 L1164.4 291.6 L1171.3 302.2 L1178.2 314.3 L1185.2 327.6 L1192.1 341.5 L1199.1 357.3 L1206 374.6 L1213 392.9 L1219.9 412.6 L1226.9 434.2 L1233.8 457.3 L1240.7 480.6 L1247.7 505.6 L1254.6 534.9 L1261.6 565.9 L1268.5 595.1 L1275.5 631 L1282.4 670.7 L1289.3 715.8 L1296.3 764.5 L1303.2 822.7 L1310.2 886.5 L1317.1 960 L1324.1 1050 L1331 1157.7 L1338 1280 L1344.9 1366.8 L1351.8 1331.7 L1358.8 1221.3 L1365.7 1112.9 L1372.7 1023.8 L1379.6 949 L1386.6 888.4 L1393.5 835.9 L1400.5 789 L1407.4 749.5 L1414.3 713.9 L1421.3 682 L1428.2 653.8 L1435.2 629.4 L1442.1 608.8 L1449.1 590 L1456 572 L1462.9 553.8 L1469.9 538.2 L1476.8 524 L1483.8 510.5 L1490.7 497.1 L1497.7 483.7 L1504.6 470.4 L1511.6 457.7 L1518.5 445.9 L1525.4 435.3 L1532.4 425.4 L1539.3 416.1 L1546.3 407.5 L1553.2 399.5 L1560.2 392.2 L1567.1 385.5 L1574.1 379 L1581 372.6 L1587.9 366 L1594.9 359.5 L1601.8 353.2 L1608.8 347.4 L1615.7 342.4 L1622.7 337.8 L1629.6 333.7 L1636.5 329.8 L1643.5 326.3 L1650.4 323.1 L1657.4 320.2 L1664.3 317.4 L1671.3 314.5 L1678.2 311.3 L1685.2 308 L1692.1 304.7 L1699 301.6 L1706 298.6 L1712.9 295.7 L1719.9 293.2 L1726.8 291.2 L1733.8 289.5 L1740.7 288 L1747.7 286.7 L1754.6 285.5 L1761.5 284.3 L1768.5 283.1 L1775.4 281.8 L1782.4 280.4 L1789.3 278.7 L1796.3 276.8 L1803.2 275.4 L1810.1 274.2 L1817.1 273.1 L1824 272 L1831 271.1 L1837.9 270.2 L1844.9 269.3 L1851.8 268.4 L1858.8 267.6 L1865.7 266.7 L1872.6 265.8 L1879.6 264.8 L1886.5 263.8 L1893.5 262.4 L1900.4 260.9 L1907.4 259.5 L1914.3 258.5 L1921.3 258 L1928.2 257.9 L1935.1 257.8 L1942.1 257.6 L1949 257.6 L1956 257.5 L1962.9 257.4 L1969.9 257.3 L1976.8 257.3 L1983.7 257.2 L1990.7 257.2 L1997.6 257.1 L2004.6 257.1 L2011.5 257.1 L2018.5 257 L2025.4 257 L2032.4 257 L2039.3 257 L2046.2 257 L2053.2 257.1 L2060.1 257.4 L2067.1 257.7 L2074 258.1 L2081 258.6 L2087.9 259.1 L2094.9 259.8 L2101.8 260.4 L2108.7 261.2 L2115.7 262 L2122.6 262.8 L2129.6 263.6 L2136.5 264.5 L2143.5 265.4 L2150.4 266.3 L2157.3 267.3 L2164.3 268.2 L2171.2 269.2 L2178.2 270.4 L2185.1 271.7 L2192.1 273.2 L2199 274.7 L2206 276.3 L2212.9 277.9" fill="none" stroke="#000090" stroke-width="2"/>
<path d="M824.1 128.5L843.6 163.5L804.6 163.5zM831 128.6L850.5 163.6L811.5 163.6zM838 128.9L857.5 163.9L818.5 163.9zM844.9 129.4L864.4 164.4L825.4 164.4zM851.9 129.9L871.4 164.9L832.4 164.9zM858.8 130.4L878.3 165.4L839.3 165.4zM865.8 131.1L885.3 166.1L846.3 166.1zM872.7 132L892.2 167L853.2 167zM879.7 133L899.2 168L860.2 168zM886.6 134.2L906.1 169.2L867.1 169.2zM893.5 135.4L913 170.4L874 170.4zM900.5 136.6L920 171.6L881 171.6zM907.4 138L926.9 173L887.9 173zM914.4 139.4L933.9 174.4L894.9 174.4zM921.3 141L940.8 176L901.8 176zM928.3 142.6L947.8 177.6L908.8 177.6zM935.2 144.2L954.7 179.2L915.7 179.2zM942.1 146L961.6 181L922.6 181zM949.1 147.9L968.6 182.9L929.6 182.9zM956 150L975.5 185L936.5 185zM963 152.3L982.5 187.3L943.5 187.3zM969.9 154.8L989.4 189.8L950.4 189.8zM976.9 157.3L996.4 192.3L957.4 192.3zM983.8 159.9L1003.3 194.9L964.3 194.9zM990.8 162.5L1010.3 197.5L971.3 197.5zM997.7 165.2L1017.2 200.2L978.2 200.2zM1004.6 168L1024.1 203L985.1 203zM1011.6 171L1031.1 206L992.1 206zM1018.5 174.2L1038 209.2L999 209.2zM1025.5 177.6L1045 212.6L1006 212.6zM1032.4 181.2L1051.9 216.2L1012.9 216.2zM1039.4 184.9L1058.9 219.9L1019.9 219.9zM1046.3 188.7L1065.8 223.7L1026.8 223.7zM1053.3 192.7L1072.8 227.7L1033.8 227.7zM1060.2 196.9L1079.7 231.9L1040.7 231.9zM1067.1 201.2L1086.6 236.2L1047.6 236.2zM1074.1 205.6L1093.6 240.6L1054.6 240.6zM1081 210L1100.5 245L1061.5 245zM1088 214.6L1107.5 249.6L1068.5 249.6zM1094.9 219.2L1114.4 254.2L1075.4 254.2zM1101.9 223.7L1121.4 258.7L1082.4 258.7zM1108.8 228L1128.3 263L1089.3 263zM1115.7 232.3L1135.2 267.3L1096.2 267.3zM1122.7 236.9L1142.2 271.9L1103.2 271.9zM1129.6 241.9L1149.1 276.9L1110.1 276.9zM1136.6 247.2L1156.1 282.2L1117.1 282.2zM1143.5 252.9L1163 287.9L1124 287.9zM1150.5 258.9L1170 293.9L1131 293.9zM1157.4 265.6L1176.9 300.6L1137.9 300.6zM1164.4 274.1L1183.9 309.1L1144.9 309.1zM1171.3 284.7L1190.8 319.7L1151.8 319.7zM1178.2 296.8L1197.7 331.8L1158.7 331.8zM1185.2 310.1L1204.7 345.1L1165.7 345.1zM1192.1 324L1211.6 359L1172.6 359zM1199.1 339.8L1218.6 374.8L1179.6 374.8zM1206 357.1L1225.5 392.1L1186.5 392.1zM1213 375.4L1232.5 410.4L1193.5 410.4zM1219.9 395.1L1239.4 430.1L1200.4 430.1zM1226.9 416.7L1246.4 451.7L1207.4 451.7zM1233.8 439.8L1253.3 474.8L1214.3 474.8zM1240.7 463.1L1260.2 498.1L1221.2 498.1zM1247.7 488.1L1267.2 523.1L1228.2 523.1zM1254.6 517.4L1274.1 552.4L1235.1 552.4zM1261.6 548.4L1281.1 583.4L1242.1 583.4zM1268.5 577.6L1288 612.6L1249 612.6zM1275.5 613.5L1295 648.5L1256 648.5zM1282.4 653.2L1301.9 688.2L1262.9 688.2zM1289.3 698.3L1308.8 733.3L1269.8 733.3zM1296.3 747L1315.8 782L1276.8 782zM1303.2 805.2L1322.7 840.2L1283.7 840.2zM1310.2 869L1329.7 904L1290.7 904zM1317.1 942.5L1336.6 977.5L1297.6 977.5zM1324.1 1032.5L1343.6 1067.5L1304.6 1067.5zM1331 1140.2L1350.5 1175.2L1311.5 1175.2zM1338 1262.5L1357.5 1297.5L1318.5 1297.5zM1344.9 1349.3L1364.4 1384.3L1325.4 1384.3zM1351.8 1314.2L1371.3 1349.2L1332.3 1349.2zM1358.8 1203.8L1378.3 1238.8L1339.3 1238.8zM1365.7 1095.4L1385.2 1130.4L1346.2 1130.4zM1372.7 1006.3L1392.2 1041.3L1353.2 1041.3zM1379.6 931.5L1399.1 966.5L1360.1 966.5zM1386.6 870.9L1406.1 905.9L1367.1 905.9zM1393.5 818.4L1413 853.4L1374 853.4zM1400.5 771.5L1420 806.5L1381 806.5zM1407.4 732L1426.9 767L1387.9 767zM1414.3 696.4L1433.8 731.4L1394.8 731.4zM1421.3 664.5L1440.8 699.5L1401.8 699.5zM1428.2 636.3L1447.7 671.3L1408.7 671.3zM1435.2 611.9L1454.7 646.9L1415.7 646.9zM1442.1 591.3L1461.6 626.3L1422.6 626.3zM1449.1 572.5L1468.6 607.5L1429.6 607.5zM1456 554.5L1475.5 589.5L1436.5 589.5zM1462.9 536.3L1482.4 571.3L1443.4 571.3zM1469.9 520.7L1489.4 555.7L1450.4 555.7zM1476.8 506.5L1496.3 541.5L1457.3 541.5zM1483.8 493L1503.3 528L1464.3 528zM1490.7 479.6L1510.2 514.6L1471.2 514.6zM1497.7 466.2L1517.2 501.2L1478.2 501.2zM1504.6 452.9L1524.1 487.9L1485.1 487.9zM1511.6 440.2L1531.1 475.2L1492.1 475.2zM1518.5 428.4L1538 463.4L1499 463.4zM1525.4 417.8L1544.9 452.8L1505.9 452.8zM1532.4 407.9L1551.9 442.9L1512.9 442.9zM1539.3 398.6L1558.8 433.6L1519.8 433.6zM1546.3 390L1565.8 425L1526.8 425zM1553.2 382L1572.7 417L1533.7 417zM1560.2 374.7L1579.7 409.7L1540.7 409.7zM1567.1 368L1586.6 403L1547.6 403zM1574.1 361.5L1593.6 396.5L1554.6 396.5zM1581 355.1L1600.5 390.1L1561.5 390.1zM1587.9 348.5L1607.4 383.5L1568.4 383.5zM1594.9 342L1614.4 377L1575.4 377zM1601.8 335.7L1621.3 370.7L1582.3 370.7zM1608.8 329.9L1628.3 364.9L1589.3 364.9zM1615.7 324.9L1635.2 359.9L1596.2 359.9zM1622.7 320.3L1642.2 355.3L1603.2 355.3zM1629.6 316.2L1649.1 351.2L1610.1 351.2zM1636.5 312.3L1656 347.3L1617 347.3zM1643.5 308.8L1663 343.8L1624 343.8zM1650.4 305.6L1669.9 340.6L1630.9 340.6zM1657.4 302.7L1676.9 337.7L1637.9 337.7zM1664.3 299.9L1683.8 334.9L1644.8 334.9zM1671.3 297L1690.8 332L1651.8 332zM1678.2 293.8L1697.7 328.8L1658.7 328.8zM1685.2 290.5L1704.7 325.5L1665.7 325.5zM1692.1 287.2L1711.6 322.2L1672.6 322.2zM1699 284.1L1718.5 319.1L1679.5 319.1zM1706 281.1L1725.5 316.1L1686.5 316.1zM1712.9 278.2L1732.4 313.2L1693.4 313.2zM1719.9 275.7L1739.4 310.7L1700.4 310.7zM1726.8 273.7L1746.3 308.7L1707.3 308.7zM1733.8 272L1753.3 307L1714.3 307zM1740.7 270.5L1760.2 305.5L1721.2 305.5zM1747.7 269.2L1767.2 304.2L1728.2 304.2zM1754.6 268L1774.1 303L1735.1 303zM1761.5 266.8L1781 301.8L1742 301.8zM1768.5 265.6L1788 300.6L1749 300.6zM1775.4 264.3L1794.9 299.3L1755.9 299.3zM1782.4 262.9L1801.9 297.9L1762.9 297.9zM1789.3 261.2L1808.8 296.2L1769.8 296.2zM1796.3 259.3L1815.8 294.3L1776.8 294.3zM1803.2 257.9L1822.7 292.9L1783.7 292.9zM1810.1 256.7L1829.6 291.7L1790.6 291.7zM1817.1 255.6L1836.6 290.6L1797.6 290.6zM1824 254.5L1843.5 289.5L1804.5 289.5zM1831 253.6L1850.5 288.6L1811.5 288.6zM1837.9 252.7L1857.4 287.7L1818.4 287.7zM1844.9 251.8L1864.4 286.8L1825.4 286.8zM1851.8 250.9L1871.3 285.9L1832.3 285.9zM1858.8 250.1L1878.3 285.1L1839.3 285.1zM1865.7 249.2L1885.2 284.2L1846.2 284.2zM1872.6 248.3L1892.1 283.3L1853.1 283.3zM1879.6 247.3L1899.1 282.3L1860.1 282.3zM1886.5 246.3L1906 281.3L1867 281.3zM1893.5 244.9L1913 279.9L1874 279.9zM1900.4 243.4L1919.9 278.4L1880.9 278.4zM1907.4 242L1926.9 277L1887.9 277zM1914.3 241L1933.8 276L1894.8 276zM1921.3 240.5L1940.8 275.5L1901.8 275.5zM1928.2 240.4L1947.7 275.4L1908.7 275.4zM1935.1 240.3L1954.6 275.3L1915.6 275.3zM1942.1 240.1L1961.6 275.1L1922.6 275.1zM1949 240.1L1968.5 275.1L1929.5 275.1zM1956 240L1975.5 275L1936.5 275zM1962.9 239.9L1982.4 274.9L1943.4 274.9zM1969.9 239.8L1989.4 274.8L1950.4 274.8zM1976.8 239.8L1996.3 274.8L1957.3 274.8zM1983.7 239.7L2003.2 274.7L1964.2 274.7zM1990.7 239.7L2010.2 274.7L1971.2 274.7zM1997.6 239.6L2017.1 274.6L1978.1 274.6zM2004.6 239.6L2024.1 274.6L1985.1 274.6zM2011.5 239.6L2031 274.6L1992 274.6zM2018.5 239.5L2038 274.5L1999 274.5zM2025.4 239.5L2044.9 274.5L2005.9 274.5zM2032.4 239.5L2051.9 274.5L2012.9 274.5zM2039.3 239.5L2058.8 274.5L2019.8 274.5zM2046.2 239.5L2065.7 274.5L2026.7 274.5zM2053.2 239.6L2072.7 274.6L2033.7 274.6zM2060.1 239.9L2079.6 274.9L2040.6 274.9zM2067.1 240.2L2086.6 275.2L2047.6 275.2zM2074 240.6L2093.5 275.6L2054.5 275.6zM2081 241.1L2100.5 276.1L2061.5 276.1zM2087.9 241.6L2107.4 276.6L2068.4 276.6zM2094.9 242.3L2114.4 277.3L2075.4 277.3zM2101.8 242.9L2121.3 277.9L2082.3 277.9zM2108.7 243.7L2128.2 278.7L2089.2 278.7zM2115.7 244.5L2135.2 279.5L2096.2 279.5zM2122.6 245.3L2142.1 280.3L2103.1 280.3zM2129.6 246.1L2149.1 281.1L2110.1 281.1zM2136.5 247L2156 282L2117 282zM2143.5 247.9L2163 282.9L2124 282.9zM2150.4 248.8L2169.9 283.8L2130.9 283.8zM2157.3 249.8L2176.8 284.8L2137.8 284.8zM2164.3 250.7L2183.8 285.7L2144.8 285.7zM2171.2 251.7L2190.7 286.7L2151.7 286.7zM2178.2 252.9L2197.7 287.9L2158.7 287.9zM2185.1 254.2L2204.6 289.2L2165.6 289.2zM2192.1 255.7L2211.6 290.7L2172.6 290.7zM2199 257.2L2218.5 292.2L2179.5 292.2zM2206 258.8L2225.5 293.8L2186.5 293.8zM2212.9 260.4L2232.4 295.4L2193.4 295.4z" fill="#0000ff"/>
<path d="M824.1 146 L831 147.2 L838 148.7 L844.9 150.4 L851.9 152.2 L858.8 154 L865.8 156 L872.7 158 L879.7 160.2 L886.6 162.5 L893.5 165 L900.5 167.7 L907.4 170.7 L914.4 173.8 L921.3 177.2 L928.3 180.6 L935.2 184.3 L942.1 188.3 L949.1 192.7 L956 197.7 L963 203.3 L969.9 209.5 L976.9 216.2 L983.8 223.3 L990.8 231.2 L997.7 239.8 L1004.6 248.9 L1011.6 258.4 L1018.5 268.6 L1025.5 279.6 L1032.4 290.9 L1039.4 301.9 L1046.3 312.1 L1053.3 322 L1060.2 331.7 L1067.1 341.1 L1074.1 350.2 L1081 359.2 L1088 368 L1094.9 376.3 L1101.9 383.7 L1108.8 390.4 L1115.7 396.8 L1122.7 402.6 L1129.6 407.1 L1136.6 410.2 L1143.5 412.8 L1150.5 414.5 L1157.4 414.6 L1164.4 412.8 L1171.3 410.1 L1178.2 407 L1185.2 403.6 L1192.1 399.2 L1199.1 394.4 L1206 389.4 L1213 384.3 L1219.9 378.9 L1226.9 373.2 L1233.8 367.5 L1240.7 361.8 L1247.7 356.1 L1254.6 350.4 L1261.6 344.7 L1268.5 339.4 L1275.5 334.2 L1282.4 329.2 L1289.3 324.4 L1296.3 319.9 L1303.2 315.8 L1310.2 311.8 L1317.1 308 L1324.1 304.3 L1331 300.8 L1338 297.4 L1344.9 294.2 L1351.8 291.1 L1358.8 288.3 L1365.7 285.6 L1372.7 282.9 L1379.6 280.4 L1386.6 277.9 L1393.5 275.6 L1400.5 273.4 L1407.4 271.4 L1414.3 269.6 L1421.3 267.9 L1428.2 266.5 L1435.2 265.1 L1442.1 263.9 L1449.1 262.7 L1456 261.6 L1462.9 260.6 L1469.9 259.6 L1476.8 258.6 L1483.8 257.7 L1490.7 256.8 L1497.7 256 L1504.6 255.1 L1511.6 254.3 L1518.5 253.6 L1525.4 252.9 L1532.4 252.2 L1539.3 251.5 L1546.3 250.9 L1553.2 250.3 L1560.2 249.7 L1567.1 249.1 L1574.1 248.6 L1581 248.1 L1587.9 247.6 L1594.9 247.2 L1601.8 246.8 L1608.8 246.5 L1615.7 246.2 L1622.7 245.8 L1629.6 245.5 L1636.5 245.2 L1643.5 245 L1650.4 244.8 L1657.4 244.7 L1664.3 244.7 L1671.3 244.8 L1678.2 244.9 L1685.2 245.1 L1692.1 245.4 L1699 245.7 L1706 246 L1712.9 246.3 L1719.9 246.6 L1726.8 246.9 L1733.8 247.3 L1740.7 247.6 L1747.7 248 L1754.6 248.4 L1761.5 248.8 L1768.5 249.3 L1775.4 249.8 L1782.4 250.4 L1789.3 251 L1796.3 251.7 L1803.2 252.5 L1810.1 253.5 L1817.1 254.5 L1824 255.6 L1831 256.7 L1837.9 257.9 L1844.9 259.1 L1851.8 260.4 L1858.8 261.6 L1865.7 262.8 L1872.6 264.1 L1879.6 265.2 L1886.5 266.4 L1893.5 267.5 L1900.4 268.5 L1907.4 269.4 L1914.3 270.3 L1921.3 271 L1928.2 271.7 L1935.1 272.4 L1942.1 273 L1949 273.7 L1956 274.3 L1962.9 274.9 L1969.9 275.5 L1976.8 276.1 L1983.7 276.6 L1990.7 277.1 L1997.6 277.6 L2004.6 278.1 L2011.5 278.5 L2018.5 278.9 L2025.4 279.3 L2032.4 279.6 L2039.3 279.9 L2046.2 280.2 L2053.2 280.4 L2060.1 280.6 L2067.1 280.9 L2074 281.1 L2081 281.3 L2087.9 281.5 L2094.9 281.7 L2101.8 281.8 L2108.7 282 L2115.7 282.2 L2122.6 282.3 L2129.6 282.5 L2136.5 282.6 L2143.5 282.7 L2150.4 282.8 L2157.3 282.9 L2164.3 283 L2171.2 283.1 L2178.2 283.2 L2185.1 283.3 L2192.1 283.3 L2199 283.4 L2206 283.5 L2212.9 283.5" fill="none" stroke="#ff00c0" stroke-width="2"/>
<path d="M824.1 163.5L843.6 128.5L804.6 128.5zM831 164.7L850.5 129.7L811.5 129.7zM838 166.2L857.5 131.2L818.5 131.2zM844.9 167.9L864.4 132.9L825.4 132.9zM851.9 169.7L871.4 134.7L832.4 134.7zM858.8 171.5L878.3 136.5L839.3 136.5zM865.8 173.5L885.3 138.5L846.3 138.5zM872.7 175.5L892.2 140.5L853.2 140.5zM879.7 177.7L899.2 142.7L860.2 142.7zM886.6 180L906.1 145L867.1 145zM893.5 182.5L913 147.5L874 147.5zM900.5 185.2L920 150.2L881 150.2zM907.4 188.2L926.9 153.2L887.9 153.2zM914.4 191.3L933.9 156.3L894.9 156.3zM921.3 194.7L940.8 159.7L901.8 159.7zM928.3 198.1L947.8 163.1L908.8 163.1zM935.2 201.8L954.7 166.8L915.7 166.8zM942.1 205.8L961.6 170.8L922.6 170.8zM949.1 210.2L968.6 175.2L929.6 175.2zM956 215.2L975.5 180.2L936.5 180.2zM963 220.8L982.5 185.8L943.5 185.8zM969.9 227L989.4 192L950.4 192zM976.9 233.7L996.4 198.7L957.4 198.7zM983.8 240.8L1003.3 205.8L964.3 205.8zM990.8 248.7L1010.3 213.7L971.3 213.7zM997.7 257.3L1017.2 222.3L978.2 222.3zM1004.6 266.4L1024.1 231.4L985.1 231.4zM1011.6 275.9L1031.1 240.9L992.1 240.9zM1018.5 286.1L1038 251.1L999 251.1zM1025.5 297.1L1045 262.1L1006 262.1zM1032.4 308.4L1051.9 273.4L1012.9 273.4zM1039.4 319.4L1058.9 284.4L1019.9 284.4zM1046.3 329.6L1065.8 294.6L1026.8 294.6zM1053.3 339.5L1072.8 304.5L1033.8 304.5zM1060.2 349.2L1079.7 314.2L1040.7 314.2zM1067.1 358.6L1086.6 323.6L1047.6 323.6zM1074.1 367.7L1093.6 332.7L1054.6 332.7zM1081 376.7L1100.5 341.7L1061.5 341.7zM1088 385.5L1107.5 350.5L1068.5 350.5zM1094.9 393.8L1114.4 358.8L1075.4 358.8zM1101.9 401.2L1121.4 366.2L1082.4 366.2zM1108.8 407.9L1128.3 372.9L1089.3 372.9zM1115.7 414.3L1135.2 379.3L1096.2 379.3zM1122.7 420.1L1142.2 385.1L1103.2 385.1zM1129.6 424.6L1149.1 389.6L1110.1 389.6zM1136.6 427.7L1156.1 392.7L1117.1 392.7zM1143.5 430.3L1163 395.3L1124 395.3zM1150.5 432L1170 397L1131 397zM1157.4 432.1L1176.9 397.1L1137.9 397.1zM1164.4 430.3L1183.9 395.3L1144.9 395.3zM1171.3 427.6L1190.8 392.6L1151.8 392.6zM1178.2 424.5L1197.7 389.5L1158.7 389.5zM1185.2 421.1L1204.7 386.1L1165.7 386.1zM1192.1 416.7L1211.6 381.7L1172.6 381.7zM1199.1 411.9L1218.6 376.9L1179.6 376.9zM1206 406.9L1225.5 371.9L1186.5 371.9zM1213 401.8L1232.5 366.8L1193.5 366.8zM1219.9 396.4L1239.4 361.4L1200.4 361.4zM1226.9 390.7L1246.4 355.7L1207.4 355.7zM1233.8 385L1253.3 350L1214.3 350zM1240.7 379.3L1260.2 344.3L1221.2 344.3zM1247.7 373.6L1267.2 338.6L1228.2 338.6zM1254.6 367.9L1274.1 332.9L1235.1 332.9zM1261.6 362.2L1281.1 327.2L1242.1 327.2zM1268.5 356.9L1288 321.9L1249 321.9zM1275.5 351.7L1295 316.7L1256 316.7zM1282.4 346.7L1301.9 311.7L1262.9 311.7zM1289.3 341.9L1308.8 306.9L1269.8 306.9zM1296.3 337.4L1315.8 302.4L1276.8 302.4zM1303.2 333.3L1322.7 298.3L1283.7 298.3zM1310.2 329.3L1329.7 294.3L1290.7 294.3zM1317.1 325.5L1336.6 290.5L1297.6 290.5zM1324.1 321.8L1343.6 286.8L1304.6 286.8zM1331 318.3L1350.5 283.3L1311.5 283.3zM1338 314.9L1357.5 279.9L1318.5 279.9zM1344.9 311.7L1364.4 276.7L1325.4 276.7zM1351.8 308.6L1371.3 273.6L1332.3 273.6zM1358.8 305.8L1378.3 270.8L1339.3 270.8zM1365.7 303.1L1385.2 268.1L1346.2 268.1zM1372.7 300.4L1392.2 265.4L1353.2 265.4zM1379.6 297.9L1399.1 262.9L1360.1 262.9zM1386.6 295.4L1406.1 260.4L1367.1 260.4zM1393.5 293.1L1413 258.1L1374 258.1zM1400.5 290.9L1420 255.9L1381 255.9zM1407.4 288.9L1426.9 253.9L1387.9 253.9zM1414.3 287.1L1433.8 252.1L1394.8 252.1zM1421.3 285.4L1440.8 250.4L1401.8 250.4zM1428.2 284L1447.7 249L1408.7 249zM1435.2 282.6L1454.7 247.6L1415.7 247.6zM1442.1 281.4L1461.6 246.4L1422.6 246.4zM1449.1 280.2L1468.6 245.2L1429.6 245.2zM1456 279.1L1475.5 244.1L1436.5 244.1zM1462.9 278.1L1482.4 243.1L1443.4 243.1zM1469.9 277.1L1489.4 242.1L1450.4 242.1zM1476.8 276.1L1496.3 241.1L1457.3 241.1zM1483.8 275.2L1503.3 240.2L1464.3 240.2zM1490.7 274.3L1510.2 239.3L1471.2 239.3zM1497.7 273.5L1517.2 238.5L1478.2 238.5zM1504.6 272.6L1524.1 237.6L1485.1 237.6zM1511.6 271.8L1531.1 236.8L1492.1 236.8zM1518.5 271.1L1538 236.1L1499 236.1zM1525.4 270.4L1544.9 235.4L1505.9 235.4zM1532.4 269.7L1551.9 234.7L1512.9 234.7zM1539.3 269L1558.8 234L1519.8 234zM1546.3 268.4L1565.8 233.4L1526.8 233.4zM1553.2 267.8L1572.7 232.8L1533.7 232.8zM1560.2 267.2L1579.7 232.2L1540.7 232.2zM1567.1 266.6L1586.6 231.6L1547.6 231.6zM1574.1 266.1L1593.6 231.1L1554.6 231.1zM1581 265.6L1600.5 230.6L1561.5 230.6zM1587.9 265.1L1607.4 230.1L1568.4 230.1zM1594.9 264.7L1614.4 229.7L1575.4 229.7zM1601.8 264.3L1621.3 229.3L1582.3 229.3zM1608.8 264L1628.3 229L1589.3 229zM1615.7 263.7L1635.2 228.7L1596.2 228.7zM1622.7 263.3L1642.2 228.3L1603.2 228.3zM1629.6 263L1649.1 228L1610.1 228zM1636.5 262.7L1656 227.7L1617 227.7zM1643.5 262.5L1663 227.5L1624 227.5zM1650.4 262.3L1669.9 227.3L1630.9 227.3zM1657.4 262.2L1676.9 227.2L1637.9 227.2zM1664.3 262.2L1683.8 227.2L1644.8 227.2zM1671.3 262.3L1690.8 227.3L1651.8 227.3zM1678.2 262.4L1697.7 227.4L1658.7 227.4zM1685.2 262.6L1704.7 227.6L1665.7 227.6zM1692.1 262.9L1711.6 227.9L1672.6 227.9zM1699 263.2L1718.5 228.2L1679.5 228.2zM1706 263.5L1725.5 228.5L1686.5 228.5zM1712.9 263.8L1732.4 228.8L1693.4 228.8zM1719.9 264.1L1739.4 229.1L1700.4 229.1zM1726.8 264.4L1746.3 229.4L1707.3 229.4zM1733.8 264.8L1753.3 229.8L1714.3 229.8zM1740.7 265.1L1760.2 230.1L1721.2 230.1zM1747.7 265.5L1767.2 230.5L1728.2 230.5zM1754.6 265.9L1774.1 230.9L1735.1 230.9zM1761.5 266.3L1781 231.3L1742 231.3zM1768.5 266.8L1788 231.8L1749 231.8zM1775.4 267.3L1794.9 232.3L1755.9 232.3zM1782.4 267.9L1801.9 232.9L1762.9 232.9zM1789.3 268.5L1808.8 233.5L1769.8 233.5zM1796.3 269.2L1815.8 234.2L1776.8 234.2zM1803.2 270L1822.7 235L1783.7 235zM1810.1 271L1829.6 236L1790.6 236zM1817.1 272L1836.6 237L1797.6 237zM1824 273.1L1843.5 238.1L1804.5 238.1zM1831 274.2L1850.5 239.2L1811.5 239.2zM1837.9 275.4L1857.4 240.4L1818.4 240.4zM1844.9 276.6L1864.4 241.6L1825.4 241.6zM1851.8 277.9L1871.3 242.9L1832.3 242.9zM1858.8 279.1L1878.3 244.1L1839.3 244.1zM1865.7 280.3L1885.2 245.3L1846.2 245.3zM1872.6 281.6L1892.1 246.6L1853.1 246.6zM1879.6 282.7L1899.1 247.7L1860.1 247.7zM1886.5 283.9L1906 248.9L1867 248.9zM1893.5 285L1913 250L1874 250zM1900.4 286L1919.9 251L1880.9 251zM1907.4 286.9L1926.9 251.9L1887.9 251.9zM1914.3 287.8L1933.8 252.8L1894.8 252.8zM1921.3 288.5L1940.8 253.5L1901.8 253.5zM1928.2 289.2L1947.7 254.2L1908.7 254.2zM1935.1 289.9L1954.6 254.9L1915.6 254.9zM1942.1 290.5L1961.6 255.5L1922.6 255.5zM1949 291.2L1968.5 256.2L1929.5 256.2zM1956 291.8L1975.5 256.8L1936.5 256.8zM1962.9 292.4L1982.4 257.4L1943.4 257.4zM1969.9 293L1989.4 258L1950.4 258zM1976.8 293.6L1996.3 258.6L1957.3 258.6zM1983.7 294.1L2003.2 259.1L1964.2 259.1zM1990.7 294.6L2010.2 259.6L1971.2 259.6zM1997.6 295.1L2017.1 260.1L1978.1 260.1zM2004.6 295.6L2024.1 260.6L1985.1 260.6zM2011.5 296L2031 261L1992 261zM2018.5 296.4L2038 261.4L1999 261.4zM2025.4 296.8L2044.9 261.8L2005.9 261.8zM2032.4 297.1L2051.9 262.1L2012.9 262.1zM2039.3 297.4L2058.8 262.4L2019.8 262.4zM2046.2 297.7L2065.7 262.7L2026.7 262.7zM2053.2 297.9L2072.7 262.9L2033.7 262.9zM2060.1 298.1L2079.6 263.1L2040.6 263.1zM2067.1 298.4L2086.6 263.4L2047.6 263.4zM2074 298.6L2093.5 263.6L2054.5 263.6zM2081 298.8L2100.5 263.8L2061.5 263.8zM2087.9 299L2107.4 264L2068.4 264zM2094.9 299.2L2114.4 264.2L2075.4 264.2zM2101.8 299.3L2121.3 264.3L2082.3 264.3zM2108.7 299.5L2128.2 264.5L2089.2 264.5zM2115.7 299.7L2135.2 264.7L2096.2 264.7zM2122.6 299.8L2142.1 264.8L2103.1 264.8zM2129.6 300L2149.1 265L2110.1 265zM2136.5 300.1L2156 265.1L2117 265.1zM2143.5 300.2L2163 265.2L2124 265.2zM2150.4 300.3L2169.9 265.3L2130.9 265.3zM2157.3 300.4L2176.8 265.4L2137.8 265.4zM2164.3 300.5L2183.8 265.5L2144.8 265.5zM2171.2 300.6L2190.7 265.6L2151.7 265.6zM2178.2 300.7L2197.7 265.7L2158.7 265.7zM2185.1 300.8L2204.6 265.8L2165.6 265.8zM2192.1 300.8L2211.6 265.8L2172.6 265.8zM2199 300.9L2218.5 265.9L2179.5 265.9zM2206 301L2225.5 266L2186.5 266zM2212.9 301L2232.4 266L2193.4 266z" fill="#ff00ff"/>
<path d="M824.1 166.5 L831 170.5 L838 175.6 L844.9 181.5 L851.9 188.1 L858.8 195.2 L865.8 203.2 L872.7 212.7 L879.7 223.3 L886.6 234.4 L893.5 245.4 L900.5 257.2 L907.4 269.4 L914.4 281.4 L921.3 292.5 L928.3 303 L935.2 312.8 L942.1 321.2 L949.1 327.6 L956 332.9 L963 334 L969.9 329.1 L976.9 321.7 L983.8 313.5 L990.8 305.7 L997.7 297.8 L1004.6 290.3 L1011.6 283.3 L1018.5 276.9 L1025.5 270.9 L1032.4 265.2 L1039.4 259.9 L1046.3 255 L1053.3 250.2 L1060.2 245.8 L1067.1 241.7 L1074.1 238.2 L1081 235.1 L1088 232.4 L1094.9 229.8 L1101.9 227.3 L1108.8 224.8 L1115.7 222.4 L1122.7 220.1 L1129.6 217.9 L1136.6 216 L1143.5 214.3 L1150.5 212.7 L1157.4 211.2 L1164.4 209.7 L1171.3 208.1 L1178.2 206.6 L1185.2 205.2 L1192.1 204.5 L1199.1 204.2 L1206 204 L1213 203.9 L1219.9 203.8 L1226.9 203.8 L1233.8 203.8 L1240.7 203.8 L1247.7 203.8 L1254.6 203.8 L1261.6 203.9 L1268.5 204 L1275.5 204.2 L1282.4 204.4 L1289.3 204.6 L1296.3 204.8 L1303.2 205.2 L1310.2 205.7 L1317.1 206.5 L1324.1 207.3 L1331 208.3 L1338 209.3 L1344.9 210.3 L1351.8 211.4 L1358.8 212.4 L1365.7 213.3 L1372.7 214.3 L1379.6 215.4 L1386.6 216.4 L1393.5 217.5 L1400.5 218.6 L1407.4 219.6 L1414.3 220.7 L1421.3 221.7 L1428.2 222.8 L1435.2 224 L1442.1 225.1 L1449.1 226.3 L1456 227.4 L1462.9 228.4 L1469.9 229.4 L1476.8 230.2 L1483.8 230.9 L1490.7 231.5 L1497.7 232.1 L1504.6 232.7 L1511.6 233.2 L1518.5 233.7 L1525.4 234.1 L1532.4 234.4 L1539.3 234.6 L1546.3 234.8 L1553.2 234.9 L1560.2 235 L1567.1 235.1 L1574.1 235.1 L1581 235.2 L1587.9 235.3 L1594.9 235.3 L1601.8 235.3 L1608.8 235.2 L1615.7 235 L1622.7 234.7 L1629.6 234.2 L1636.5 233.7 L1643.5 233.1 L1650.4 232.6 L1657.4 232.1 L1664.3 231.6 L1671.3 231.2 L1678.2 230.7 L1685.2 230.3 L1692.1 229.8 L1699 229.3 L1706 228.9 L1712.9 228.4 L1719.9 228 L1726.8 227.5 L1733.8 227.1 L1740.7 226.6 L1747.7 226.2 L1754.6 225.7 L1761.5 225.3 L1768.5 224.9 L1775.4 224.4 L1782.4 223.9 L1789.3 223.4 L1796.3 222.8 L1803.2 222.5 L1810.1 222.2 L1817.1 222 L1824 221.7 L1831 221.5 L1837.9 221.3 L1844.9 221.1 L1851.8 220.9 L1858.8 220.8 L1865.7 220.6 L1872.6 220.5 L1879.6 220.3 L1886.5 220.2 L1893.5 220.2 L1900.4 220.1 L1907.4 220 L1914.3 220 L1921.3 220 L1928.2 220 L1935.1 220.1 L1942.1 220.3 L1949 220.5 L1956 220.8 L1962.9 221.1 L1969.9 221.4 L1976.8 221.7 L1983.7 222.1 L1990.7 222.5 L1997.6 222.8 L2004.6 223.2 L2011.5 223.5 L2018.5 223.9 L2025.4 224.2 L2032.4 224.4 L2039.3 224.6 L2046.2 224.8 L2053.2 225 L2060.1 225.1 L2067.1 225.3 L2074 225.4 L2081 225.6 L2087.9 225.7 L2094.9 225.9 L2101.8 226 L2108.7 226.1 L2115.7 226.3 L2122.6 226.4 L2129.6 226.5 L2136.5 226.6 L2143.5 226.6 L2150.4 226.7 L2157.3 226.8 L2164.3 226.8 L2171.2 226.8 L2178.2 226.9 L2185.1 226.9 L2192.1 227 L2199 227 L2206 227 L2212.9 227" fill="none" stroke="#006000" stroke-width="2"/>
<path d="M824.1 146.5L843.6 166.5L824.1 186.5L804.6 166.5zM831 150.5L850.5 170.5L831 190.5L811.5 170.5zM838 155.6L857.5 175.6L838 195.6L818.5 175.6zM844.9 161.5L864.4 181.5L844.9 201.5L825.4 181.5zM851.9 168.1L871.4 188.1L851.9 208.1L832.4 188.1zM858.8 175.2L878.3 195.2L858.8 215.2L839.3 195.2zM865.8 183.2L885.3 203.2L865.8 223.2L846.3 203.2zM872.7 192.7L892.2 212.7L872.7 232.7L853.2 212.7zM879.7 203.3L899.2 223.3L879.7 243.3L860.2 223.3zM886.6 214.4L906.1 234.4L886.6 254.4L867.1 234.4zM893.5 225.4L913 245.4L893.5 265.4L874 245.4zM900.5 237.2L920 257.2L900.5 277.2L881 257.2zM907.4 249.4L926.9 269.4L907.4 289.4L887.9 269.4zM914.4 261.4L933.9 281.4L914.4 301.4L894.9 281.4zM921.3 272.5L940.8 292.5L921.3 312.5L901.8 292.5zM928.3 283L947.8 303L928.3 323L908.8 303zM935.2 292.8L954.7 312.8L935.2 332.8L915.7 312.8zM942.1 301.2L961.6 321.2L942.1 341.2L922.6 321.2zM949.1 307.6L968.6 327.6L949.1 347.6L929.6 327.6zM956 312.9L975.5 332.9L956 352.9L936.5 332.9zM963 314L982.5 334L963 354L943.5 334zM969.9 309.1L989.4 329.1L969.9 349.1L950.4 329.1zM976.9 301.7L996.4 321.7L976.9 341.7L957.4 321.7zM983.8 293.5L1003.3 313.5L983.8 333.5L964.3 313.5zM990.8 285.7L1010.3 305.7L990.8 325.7L971.3 305.7zM997.7 277.8L1017.2 297.8L997.7 317.8L978.2 297.8zM1004.6 270.3L1024.1 290.3L1004.6 310.3L985.1 290.3zM1011.6 263.3L1031.1 283.3L1011.6 303.3L992.1 283.3zM1018.5 256.9L1038 276.9L1018.5 296.9L999 276.9zM1025.5 250.9L1045 270.9L1025.5 290.9L1006 270.9zM1032.4 245.2L1051.9 265.2L1032.4 285.2L1012.9 265.2zM1039.4 239.9L1058.9 259.9L1039.4 279.9L1019.9 259.9zM1046.3 235L1065.8 255L1046.3 275L1026.8 255zM1053.3 230.2L1072.8 250.2L1053.3 270.2L1033.8 250.2zM1060.2 225.8L1079.7 245.8L1060.2 265.8L1040.7 245.8zM1067.1 221.7L1086.6 241.7L1067.1 261.7L1047.6 241.7zM1074.1 218.2L1093.6 238.2L1074.1 258.2L1054.6 238.2zM1081 215.1L1100.5 235.1L1081 255.1L1061.5 235.1zM1088 212.4L1107.5 232.4L1088 252.4L1068.5 232.4zM1094.9 209.8L1114.4 229.8L1094.9 249.8L1075.4 229.8zM1101.9 207.3L1121.4 227.3L1101.9 247.3L1082.4 227.3zM1108.8 204.8L1128.3 224.8L1108.8 244.8L1089.3 224.8zM1115.7 202.4L1135.2 222.4L1115.7 242.4L1096.2 222.4zM1122.7 200.1L1142.2 220.1L1122.7 240.1L1103.2 220.1zM1129.6 197.9L1149.1 217.9L1129.6 237.9L1110.1 217.9zM1136.6 196L1156.1 216L1136.6 236L1117.1 216zM1143.5 194.3L1163 214.3L1143.5 234.3L1124 214.3zM1150.5 192.7L1170 212.7L1150.5 232.7L1131 212.7zM1157.4 191.2L1176.9 211.2L1157.4 231.2L1137.9 211.2zM1164.4 189.7L1183.9 209.7L1164.4 229.7L1144.9 209.7zM1171.3 188.1L1190.8 208.1L1171.3 228.1L1151.8 208.1zM1178.2 186.6L1197.7 206.6L1178.2 226.6L1158.7 206.6zM1185.2 185.2L1204.7 205.2L1185.2 225.2L1165.7 205.2zM1192.1 184.5L1211.6 204.5L1192.1 224.5L1172.6 204.5zM1199.1 184.2L1218.6 204.2L1199.1 224.2L1179.6 204.2zM1206 184L1225.5 204L1206 224L1186.5 204zM1213 183.9L1232.5 203.9L1213 223.9L1193.5 203.9zM1219.9 183.8L1239.4 203.8L1219.9 223.8L1200.4 203.8zM1226.9 183.8L1246.4 203.8L1226.9 223.8L1207.4 203.8zM1233.8 183.8L1253.3 203.8L1233.8 223.8L1214.3 203.8zM1240.7 183.8L1260.2 203.8L1240.7 223.8L1221.2 203.8zM1247.7 183.8L1267.2 203.8L1247.7 223.8L1228.2 203.8zM1254.6 183.8L1274.1 203.8L1254.6 223.8L1235.1 203.8zM1261.6 183.9L1281.1 203.9L1261.6 223.9L1242.1 203.9zM1268.5 184L1288 204L1268.5 224L1249 204zM1275.5 184.2L1295 204.2L1275.5 224.2L1256 204.2zM1282.4 184.4L1301.9 204.4L1282.4 224.4L1262.9 204.4zM1289.3 184.6L1308.8 204.6L1289.3 224.6L1269.8 204.6zM1296.3 184.8L1315.8 204.8L1296.3 224.8L1276.8 204.8zM1303.2 185.2L1322.7 205.2L1303.2 225.2L1283.7 205.2zM1310.2 185.7L1329.7 205.7L1310.2 225.7L1290.7 205.7zM1317.1 186.5L1336.6 206.5L1317.1 226.5L1297.6 206.5zM1324.1 187.3L1343.6 207.3L1324.1 227.3L1304.6 207.3zM1331 188.3L1350.5 208.3L1331 228.3L1311.5 208.3zM1338 189.3L1357.5 209.3L1338 229.3L1318.5 209.3zM1344.9 190.3L1364.4 210.3L1344.9 230.3L1325.4 210.3zM1351.8 191.4L1371.3 211.4L1351.8 231.4L1332.3 211.4zM1358.8 192.4L1378.3 212.4L1358.8 232.4L1339.3 212.4zM1365.7 193.3L1385.2 213.3L1365.7 233.3L1346.2 213.3zM1372.7 194.3L1392.2 214.3L1372.7 234.3L1353.2 214.3zM1379.6 195.4L1399.1 215.4L1379.6 235.4L1360.1 215.4zM1386.6 196.4L1406.1 216.4L1386.6 236.4L1367.1 216.4zM1393.5 197.5L1413 217.5L1393.5 237.5L1374 217.5zM1400.5 198.6L1420 218.6L1400.5 238.6L1381 218.6zM1407.4 199.6L1426.9 219.6L1407.4 239.6L1387.9 219.6zM1414.3 200.7L1433.8 220.7L1414.3 240.7L1394.8 220.7zM1421.3 201.7L1440.8 221.7L1421.3 241.7L1401.8 221.7zM1428.2 202.8L1447.7 222.8L1428.2 242.8L1408.7 222.8zM1435.2 204L1454.7 224L1435.2 244L1415.7 224zM1442.1 205.1L1461.6 225.1L1442.1 245.1L1422.6 225.1zM1449.1 206.3L1468.6 226.3L1449.1 246.3L1429.6 226.3zM1456 207.4L1475.5 227.4L1456 247.4L1436.5 227.4zM1462.9 208.4L1482.4 228.4L1462.9 248.4L1443.4 228.4zM1469.9 209.4L1489.4 229.4L1469.9 249.4L1450.4 229.4zM1476.8 210.2L1496.3 230.2L1476.8 250.2L1457.3 230.2zM1483.8 210.9L1503.3 230.9L1483.8 250.9L1464.3 230.9zM1490.7 211.5L1510.2 231.5L1490.7 251.5L1471.2 231.5zM1497.7 212.1L1517.2 232.1L1497.7 252.1L1478.2 232.1zM1504.6 212.7L1524.1 232.7L1504.6 252.7L1485.1 232.7zM1511.6 213.2L1531.1 233.2L1511.6 253.2L1492.1 233.2zM1518.5 213.7L1538 233.7L1518.5 253.7L1499 233.7zM1525.4 214.1L1544.9 234.1L1525.4 254.1L1505.9 234.1zM1532.4 214.4L1551.9 234.4L1532.4 254.4L1512.9 234.4zM1539.3 214.6L1558.8 234.6L1539.3 254.6L1519.8 234.6zM1546.3 214.8L1565.8 234.8L1546.3 254.8L1526.8 234.8zM1553.2 214.9L1572.7 234.9L1553.2 254.9L1533.7 234.9zM1560.2 215L1579.7 235L1560.2 255L1540.7 235zM1567.1 215.1L1586.6 235.1L1567.1 255.1L1547.6 235.1zM1574.1 215.1L1593.6 235.1L1574.1 255.1L1554.6 235.1zM1581 215.2L1600.5 235.2L1581 255.2L1561.5 235.2zM1587.9 215.3L1607.4 235.3L1587.9 255.3L1568.4 235.3zM1594.9 215.3L1614.4 235.3L1594.9 255.3L1575.4 235.3zM1601.8 215.3L1621.3 235.3L1601.8 255.3L1582.3 235.3zM1608.8 215.2L1628.3 235.2L1608.8 255.2L1589.3 235.2zM1615.7 215L1635.2 235L1615.7 255L1596.2 235zM1622.7 214.7L1642.2 234.7L1622.7 254.7L1603.2 234.7zM1629.6 214.2L1649.1 234.2L1629.6 254.2L1610.1 234.2zM1636.5 213.7L1656 233.7L1636.5 253.7L1617 233.7zM1643.5 213.1L1663 233.1L1643.5 253.1L1624 233.1zM1650.4 212.6L1669.9 232.6L1650.4 252.6L1630.9 232.6zM1657.4 212.1L1676.9 232.1L1657.4 252.1L1637.9 232.1zM1664.3 211.6L1683.8 231.6L1664.3 251.6L1644.8 231.6zM1671.3 211.2L1690.8 231.2L1671.3 251.2L1651.8 231.2zM1678.2 210.7L1697.7 230.7L1678.2 250.7L1658.7 230.7zM1685.2 210.3L1704.7 230.3L1685.2 250.3L1665.7 230.3zM1692.1 209.8L1711.6 229.8L1692.1 249.8L1672.6 229.8zM1699 209.3L1718.5 229.3L1699 249.3L1679.5 229.3zM1706 208.9L1725.5 228.9L1706 248.9L1686.5 228.9zM1712.9 208.4L1732.4 228.4L1712.9 248.4L1693.4 228.4zM1719.9 208L1739.4 228L1719.9 248L1700.4 228zM1726.8 207.5L1746.3 227.5L1726.8 247.5L1707.3 227.5zM1733.8 207.1L1753.3 227.1L1733.8 247.1L1714.3 227.1zM1740.7 206.6L1760.2 226.6L1740.7 246.6L1721.2 226.6zM1747.7 206.2L1767.2 226.2L1747.7 246.2L1728.2 226.2zM1754.6 205.7L1774.1 225.7L1754.6 245.7L1735.1 225.7zM1761.5 205.3L1781 225.3L1761.5 245.3L1742 225.3zM1768.5 204.9L1788 224.9L1768.5 244.9L1749 224.9zM1775.4 204.4L1794.9 224.4L1775.4 244.4L1755.9 224.4zM1782.4 203.9L1801.9 223.9L1782.4 243.9L1762.9 223.9zM1789.3 203.4L1808.8 223.4L1789.3 243.4L1769.8 223.4zM1796.3 202.8L1815.8 222.8L1796.3 242.8L1776.8 222.8zM1803.2 202.5L1822.7 222.5L1803.2 242.5L1783.7 222.5zM1810.1 202.2L1829.6 222.2L1810.1 242.2L1790.6 222.2zM1817.1 202L1836.6 222L1817.1 242L1797.6 222zM1824 201.7L1843.5 221.7L1824 241.7L1804.5 221.7zM1831 201.5L1850.5 221.5L1831 241.5L1811.5 221.5zM1837.9 201.3L1857.4 221.3L1837.9 241.3L1818.4 221.3zM1844.9 201.1L1864.4 221.1L1844.9 241.1L1825.4 221.1zM1851.8 200.9L1871.3 220.9L1851.8 240.9L1832.3 220.9zM1858.8 200.8L1878.3 220.8L1858.8 240.8L1839.3 220.8zM1865.7 200.6L1885.2 220.6L1865.7 240.6L1846.2 220.6zM1872.6 200.5L1892.1 220.5L1872.6 240.5L1853.1 220.5zM1879.6 200.3L1899.1 220.3L1879.6 240.3L1860.1 220.3zM1886.5 200.2L1906 220.2L1886.5 240.2L1867 220.2zM1893.5 200.2L1913 220.2L1893.5 240.2L1874 220.2zM1900.4 200.1L1919.9 220.1L1900.4 240.1L1880.9 220.1zM1907.4 200L1926.9 220L1907.4 240L1887.9 220zM1914.3 200L1933.8 220L1914.3 240L1894.8 220zM1921.3 200L1940.8 220L1921.3 240L1901.8 220zM1928.2 200L1947.7 220L1928.2 240L1908.7 220zM1935.1 200.1L1954.6 220.1L1935.1 240.1L1915.6 220.1zM1942.1 200.3L1961.6 220.3L1942.1 240.3L1922.6 220.3zM1949 200.5L1968.5 220.5L1949 240.5L1929.5 220.5zM1956 200.8L1975.5 220.8L1956 240.8L1936.5 220.8zM1962.9 201.1L1982.4 221.1L1962.9 241.1L1943.4 221.1zM1969.9 201.4L1989.4 221.4L1969.9 241.4L1950.4 221.4zM1976.8 201.7L1996.3 221.7L1976.8 241.7L1957.3 221.7zM1983.7 202.1L2003.2 222.1L1983.7 242.1L1964.2 222.1zM1990.7 202.5L2010.2 222.5L1990.7 242.5L1971.2 222.5zM1997.6 202.8L2017.1 222.8L1997.6 242.8L1978.1 222.8zM2004.6 203.2L2024.1 223.2L2004.6 243.2L1985.1 223.2zM2011.5 203.5L2031 223.5L2011.5 243.5L1992 223.5zM2018.5 203.9L2038 223.9L2018.5 243.9L1999 223.9zM2025.4 204.2L2044.9 224.2L2025.4 244.2L2005.9 224.2zM2032.4 204.4L2051.9 224.4L2032.4 244.4L2012.9 224.4zM2039.3 204.6L2058.8 224.6L2039.3 244.6L2019.8 224.6zM2046.2 204.8L2065.7 224.8L2046.2 244.8L2026.7 224.8zM2053.2 205L2072.7 225L2053.2 245L2033.7 225zM2060.1 205.1L2079.6 225.1L2060.1 245.1L2040.6 225.1zM2067.1 205.3L2086.6 225.3L2067.1 245.3L2047.6 225.3zM2074 205.4L2093.5 225.4L2074 245.4L2054.5 225.4zM2081 205.6L2100.5 225.6L2081 245.6L2061.5 225.6zM2087.9 205.7L2107.4 225.7L2087.9 245.7L2068.4 225.7zM2094.9 205.9L2114.4 225.9L2094.9 245.9L2075.4 225.9zM2101.8 206L2121.3 226L2101.8 246L2082.3 226zM2108.7 206.1L2128.2 226.1L2108.7 246.1L2089.2 226.1zM2115.7 206.3L2135.2 226.3L2115.7 246.3L2096.2 226.3zM2122.6 206.4L2142.1 226.4L2122.6 246.4L2103.1 226.4zM2129.6 206.5L2149.1 226.5L2129.6 246.5L2110.1 226.5zM2136.5 206.6L2156 226.6L2136.5 246.6L2117 226.6zM2143.5 206.6L2163 226.6L2143.5 246.6L2124 226.6zM2150.4 206.7L2169.9 226.7L2150.4 246.7L2130.9 226.7zM2157.3 206.8L2176.8 226.8L2157.3 246.8L2137.8 226.8zM2164.3 206.8L2183.8 226.8L2164.3 246.8L2144.8 226.8zM2171.2 206.8L2190.7 226.8L2171.2 246.8L2151.7 226.8zM2178.2 206.9L2197.7 226.9L2178.2 246.9L2158.7 226.9zM2185.1 206.9L2204.6 226.9L2185.1 246.9L2165.6 226.9zM2192.1 207L2211.6 227L2192.1 247L2172.6 227zM2199 207L2218.5 227L2199 247L2179.5 227zM2206 207L2225.5 227L2206 247L2186.5 227zM2212.9 207L2232.4 227L2212.9 247L2193.4 227z" fill="#008000"/>
<rect x="650.5" y="32.4" width="1736" height="1445.3" fill="none" stroke="#000" stroke-width="6.5"/>
<path d="M653 144.3h26M653 255.3h14M653 366.3h26M653 477.3h14M653 588.3h26M653 699.3h14M653 810.3h26M653 921.3h14M653 1032.3h26M653 1143.3h14M653 1254.3h26M653 1365.3h14M737.3 1475v-14M824.1 1475v-27M910.9 1475v-14M997.7 1475v-27M1084.5 1475v-14M1171.3 1475v-27M1258.1 1475v-14M1344.9 1475v-27M1431.7 1475v-14M1518.5 1475v-27M1605.3 1475v-14M1692.1 1475v-27M1778.9 1475v-14M1865.7 1475v-27M1952.5 1475v-14M2039.3 1475v-27M2126.1 1475v-14M2212.9 1475v-27M2299.7 1475v-14" stroke="#000" stroke-width="6.5" fill="none"/>
<text transform="translate(619.5 160.8) scale(0.925 1)" font-size="72" font-weight="bold" text-anchor="end">0</text>
<text transform="translate(619.5 382.8) scale(0.925 1)" font-size="72" font-weight="bold" text-anchor="end">-5</text>
<text transform="translate(619.5 604.8) scale(0.925 1)" font-size="72" font-weight="bold" text-anchor="end">-10</text>
<text transform="translate(619.5 826.8) scale(0.925 1)" font-size="72" font-weight="bold" text-anchor="end">-15</text>
<text transform="translate(619.5 1048.8) scale(0.925 1)" font-size="72" font-weight="bold" text-anchor="end">-20</text>
<text transform="translate(619.5 1270.8) scale(0.925 1)" font-size="72" font-weight="bold" text-anchor="end">-25</text>
<text transform="translate(619.5 1492.8) scale(0.925 1)" font-size="72" font-weight="bold" text-anchor="end">-30</text>
<text transform="translate(650 1560.5) scale(0.97 1)" font-size="72" font-weight="bold" text-anchor="middle">0</text>
<text transform="translate(823.6 1560.5) scale(0.97 1)" font-size="72" font-weight="bold" text-anchor="middle">2</text>
<text transform="translate(997.2 1560.5) scale(0.97 1)" font-size="72" font-weight="bold" text-anchor="middle">4</text>
<text transform="translate(1170.8 1560.5) scale(0.97 1)" font-size="72" font-weight="bold" text-anchor="middle">6</text>
<text transform="translate(1344.4 1560.5) scale(0.97 1)" font-size="72" font-weight="bold" text-anchor="middle">8</text>
<text transform="translate(1518 1560.5) scale(0.97 1)" font-size="72" font-weight="bold" text-anchor="middle">10</text>
<text transform="translate(1691.6 1560.5) scale(0.97 1)" font-size="72" font-weight="bold" text-anchor="middle">12</text>
<text transform="translate(1865.2 1560.5) scale(0.97 1)" font-size="72" font-weight="bold" text-anchor="middle">14</text>
<text transform="translate(2038.8 1560.5) scale(0.97 1)" font-size="72" font-weight="bold" text-anchor="middle">16</text>
<text transform="translate(2212.4 1560.5) scale(0.97 1)" font-size="72" font-weight="bold" text-anchor="middle">18</text>
<text transform="translate(2386 1560.5) scale(0.97 1)" font-size="72" font-weight="bold" text-anchor="middle">20</text>
<text x="1561.5" y="1679.5" font-size="71" font-weight="bold" text-anchor="middle" fill="#000" textLength="499" lengthAdjust="spacingAndGlyphs">Frequency/GHz</text>
<text transform="translate(494.5 782.5) rotate(-90)" font-size="69" font-weight="bold" text-anchor="middle" textLength="643" lengthAdjust="spacingAndGlyphs">Reflection Loss/dB</text>
<text x="908" y="700.5" font-size="70" font-weight="bold" text-anchor="start" fill="#0000ff" textLength="291" lengthAdjust="spacingAndGlyphs">2.28 GHz</text>
<rect x="1855" y="679" width="491" height="447" fill="#fff" stroke="#000" stroke-width="2"/>
<path d="M1886 730.2H2035" stroke="#000000" stroke-width="1.6" fill="none"/>
<path d="M1945 716.2h29v28h-29z" fill="#000000"/>
<text x="2053" y="751.7" font-size="70" font-weight="bold" text-anchor="start" fill="#000" textLength="221" lengthAdjust="spacingAndGlyphs">10 wt%</text>
<path d="M1886 819.5H2035" stroke="#e00000" stroke-width="1.6" fill="none"/>
<path d="M1943.2 819.5a16.2 16.2 0 1 0 32.5 0a16.2 16.2 0 1 0 -32.5 0z" fill="#ff0000"/>
<text x="2053" y="841" font-size="70" font-weight="bold" text-anchor="start" fill="#000" textLength="221" lengthAdjust="spacingAndGlyphs">20 wt%</text>
<path d="M1886 908.5H2035" stroke="#000090" stroke-width="1.6" fill="none"/>
<path d="M1959.5 886L1979 921L1940 921z" fill="#0000ff"/>
<text x="2053" y="930" font-size="70" font-weight="bold" text-anchor="start" fill="#000" textLength="221" lengthAdjust="spacingAndGlyphs">30 wt%</text>
<path d="M1886 998H2035" stroke="#ff00c0" stroke-width="1.6" fill="none"/>
<path d="M1959.5 1020.5L1979 985.5L1940 985.5z" fill="#ff00ff"/>
<text x="2053" y="1019.5" font-size="70" font-weight="bold" text-anchor="start" fill="#000" textLength="221" lengthAdjust="spacingAndGlyphs">40 wt%</text>
<path d="M1886 1086.8H2035" stroke="#006000" stroke-width="1.6" fill="none"/>
<path d="M1959.5 1066.8L1979 1086.8L1959.5 1106.8L1940 1086.8z" fill="#008000"/>
<text x="2053" y="1108.3" font-size="70" font-weight="bold" text-anchor="start" fill="#000" textLength="265" lengthAdjust="spacingAndGlyphs">Pure EG</text>
</g>
<g id="panel-b" font-family="'Liberation Sans', Arial, sans-serif">
<g id="box" fill="none">
<path d="M810 1919.8L847.9 2822.2M970.1 1905.5L995.2 2778.5M1119 1892.2L1132.9 2737.7M1257.8 1879.8L1261.9 2699.4M1387.5 1868.2L1383 2663.5M1460 1876.4L1450.3 2689.2M1536 1885L1520.7 2716.1M1616 1894.1L1594.5 2744.3M1700.3 1903.7L1671.8 2773.8M1789 1913.7L1753 2804.9M1882.7 1924.4L1838.4 2837.5M1981.8 1935.6L1928.3 2871.8" stroke="#8c8c8c" stroke-width="1.15"/>
<path d="M751.3 2905.3L1450.2 2689.2M816.1 2943.6L1520.5 2716M884.6 2984.1L1594.2 2744.2M957.1 3027L1671.6 2773.7M1034.2 3072.6L1752.8 2804.8M1116.1 3121.1L1838.2 2837.4M1203.3 3172.7L1928.2 2871.8M848.8 2821.9L1468.5 3152.1M996.5 2778.1L1625.3 3083.1M1134.1 2737.3L1769 3019.8M1262.6 2699.2L1901.1 2961.6" stroke="#6e6e6e" stroke-width="1.25"/>
<path d="M647.4 2113.2L1386.7 2018.3M1386.6 2018.7L2074.5 2131.6M657.2 2286.1L1385.8 2164.7M1385.8 2165.3L2062.7 2309.9M666.6 2454L1385 2307.6M1385 2308.2L2051.2 2482.7M675.8 2617.2L1384.2 2447.1M1384.2 2447.6L2040.1 2650.3M684.8 2775.9L1383.5 2583.3M1383.5 2583.5L2029.3 2812.8" stroke="#e9e9e9" stroke-width="1.2" stroke-dasharray="2 5"/>
<path d="M690 2869L1383 2663.5" stroke="#5e5e5e" stroke-width="2.2"/>
<path d="M1383 2663.5L2023 2908" stroke="#8a8a8a" stroke-width="2"/>
<path d="M2086.7 1947.5L2023 2908" stroke="#707070" stroke-width="2.2"/>
<path d="M637.4 1935.2L1387.5 1868.2M1387.5 1868.2L2086.7 1947.5" stroke="#2a2a2a" stroke-width="2.2" stroke-dasharray="1.6 1.6"/>
</g>
<defs><clipPath id="clipTop"><path d="M638.1 1935.2C681.8 1932 823 1921.5 900 1916C977 1910.5 1018.8 1906.5 1100 1902C1181.2 1897.5 1339.6 1891.4 1387.5 1889.3C1389.3 1891.8 1394.8 1898.7 1398.1 1904.5C1401.4 1910.3 1404.4 1916.6 1407.2 1924.2C1410 1931.8 1412.5 1941 1414.8 1949.9C1417.1 1958.8 1419.8 1973.1 1420.8 1977.7C1402.1 1980.6 1347.1 1989.1 1308.8 1995.3C1270.5 2001.5 1225.6 2009 1190.8 2015C1156 2021 1120.4 2027.8 1100 2031.6C1079.6 2035.4 1093.7 2032 1068.5 2037.9C1043.3 2043.8 986.1 2057.1 948.6 2067C911.1 2076.9 860.8 2092.1 843.3 2097.1C840.9 2093.6 833.6 2083.8 828.8 2076.1C823.9 2068.4 819.7 2059.8 814.2 2050.7C808.8 2041.6 805.2 2032.5 796.1 2021.6C787 2010.7 774.9 1996.8 759.8 1985.3C744.7 1973.8 725.6 1960.9 705.3 1952.6C685 1944.2 649.3 1938.1 638.1 1935.2z"/></clipPath><clipPath id="clipBump"><path d="M1210.5 2122.4C1214.8 2120.9 1227.9 2116.8 1236.2 2113.3C1244.5 2109.8 1254.6 2105.7 1260.4 2101.2C1266.2 2096.7 1269 2090.4 1271 2086.1C1273 2081.8 1272.2 2077.3 1272.5 2075.5C1279.1 2073.2 1298.8 2066.7 1311.9 2061.9C1325 2057.1 1341.1 2051.2 1351.2 2046.7C1361.3 2042.2 1359.8 2038.6 1372.4 2034.6C1385 2030.6 1417.8 2024.5 1426.9 2022.5C1433 2020 1449.6 2011.9 1463.2 2007.4C1476.8 2002.9 1493.5 1999.1 1508.6 1995.3C1523.7 1991.5 1538.8 1987.5 1554 1984.7C1569.2 1981.9 1589.8 1979.3 1600 1978.6C1610.2 1977.9 1608.5 1978.4 1615.1 1980.7C1621.6 1983 1631 1986.8 1639.3 1992.3C1647.6 1997.8 1660.8 2009.9 1665.1 2013.4C1659.3 2015.9 1641.1 2020.5 1630.3 2024C1619.5 2027.5 1610.2 2031 1600 2035.3C1589.8 2039.6 1579.8 2045.4 1569.1 2049.8C1558.4 2054.2 1542.3 2057.6 1535.8 2061.9C1529.2 2066.2 1536.8 2071 1529.8 2075.5C1522.8 2080 1501.3 2084.8 1493.5 2089.1C1485.7 2093.4 1483.4 2095.9 1482.9 2101.2C1482.4 2106.5 1493.2 2116.3 1490.4 2120.9C1487.6 2125.5 1471.8 2125.2 1466.2 2128.5C1460.7 2131.8 1458.1 2136.6 1457.1 2140.6C1456.1 2144.6 1456.9 2148.2 1460.2 2152.7C1463.5 2157.2 1474 2165.3 1476.8 2167.8L1432.9 2173.8L1372.4 2179.9L1311.9 2186L1233.2 2192C1235.2 2190 1242.5 2184.4 1245.3 2179.9C1248.1 2175.4 1250.3 2170.4 1249.8 2164.8C1249.3 2159.2 1245.6 2151.7 1242.3 2146.6C1239 2141.5 1235.4 2138.5 1230.1 2134.5C1224.8 2130.5 1213.8 2124.4 1210.5 2122.4z"/></clipPath></defs>
<g id="surface" stroke-linejoin="round">
<path d="M638.1 1935.2C681.8 1932 823 1921.5 900 1916C977 1910.5 1018.8 1906.5 1100 1902C1181.2 1897.5 1339.6 1891.4 1387.5 1889.3C1389.3 1891.8 1394.8 1898.7 1398.1 1904.5C1401.4 1910.3 1404.4 1916.6 1407.2 1924.2C1410 1931.8 1412.5 1941 1414.8 1949.9C1417.1 1958.8 1419.8 1973.1 1420.8 1977.7C1402.1 1980.6 1347.1 1989.1 1308.8 1995.3C1270.5 2001.5 1225.6 2009 1190.8 2015C1156 2021 1120.4 2027.8 1100 2031.6C1079.6 2035.4 1093.7 2032 1068.5 2037.9C1043.3 2043.8 986.1 2057.1 948.6 2067C911.1 2076.9 860.8 2092.1 843.3 2097.1C840.9 2093.6 833.6 2083.8 828.8 2076.1C823.9 2068.4 819.7 2059.8 814.2 2050.7C808.8 2041.6 805.2 2032.5 796.1 2021.6C787 2010.7 774.9 1996.8 759.8 1985.3C744.7 1973.8 725.6 1960.9 705.3 1952.6C685 1944.2 649.3 1938.1 638.1 1935.2z" fill="#680000"/>
<path d="M843.3 2097.1C860.8 2092.1 911.1 2076.9 948.6 2067C986.1 2057.1 1043.3 2043.8 1068.5 2037.9C1093.7 2032 1079.6 2035.4 1100 2031.6C1120.4 2027.8 1156 2021 1190.8 2015C1225.6 2009 1270.5 2001.5 1308.8 1995.3C1347.1 1989.1 1402.1 1980.6 1420.8 1977.7L1426.9 2019.5L1479.3 2168.2L1476.8 2198L1372.4 2225L1366.3 2228L1267.1 2255.9L1265 2263.7L1172 2297L1168.1 2313.4L1112.1 2337.6L1106 2360L1100 2366L1037.3 2375.4L978.3 2380L919.3 2388.4C918 2382.8 914.5 2368.2 911.7 2355.1C908.9 2342 906.2 2324.8 902.7 2309.7C899.2 2294.6 893.9 2276 890.6 2264.3C887.3 2252.6 885.4 2249.7 883 2239.5C880.6 2229.3 879 2215.3 876 2203.2C873 2191.1 868.7 2179 865.1 2166.9C861.5 2154.8 857.8 2142.2 854.2 2130.6C850.6 2119 845.1 2102.7 843.3 2097.1z" fill="#ff0000"/>
<path d="M919.3 2388.4L978.3 2380L1037.3 2375.4L1100 2366L1106 2360L1112.1 2337.6L1168.1 2313.4L1172 2297L1265 2263.7L1267.1 2255.9L1366.3 2228L1372.4 2225L1476.8 2198L1467.1 2296.1L1448 2300.7L1348.2 2331L1345.2 2337L1243.8 2368.8L1239.2 2382.4L1150 2414.2L1142.4 2435.4L1100 2452.5L1087.3 2458L1079.7 2511L1005.6 2549.5L1007.1 2515.6L938.4 2524.6C937.7 2517.6 936.1 2496.9 934.4 2482.3C932.7 2467.7 930.9 2452.6 928.4 2436.9C925.9 2421.2 920.8 2396.5 919.3 2388.4z" fill="#ffa500"/>
<path d="M938.4 2524.6L1007.1 2515.6L1005.6 2549.5L1079.7 2511L1087.3 2458L1100 2452.5L1142.4 2435.4L1150 2414.2L1239.2 2382.4L1243.8 2368.8L1345.2 2337L1348.2 2331L1448 2300.7L1467.1 2296.1L1462.6 2394.5L1425.4 2403.6L1422.3 2409.6L1322.5 2438.4L1317.9 2450.5L1216.5 2477.7L1212 2498.9L1124.7 2525L1119.7 2556.4L1112 2560.5L1064.6 2581.5L1055.5 2645L997.2 2671.4L995 2649L951.7 2654.4C950.9 2645.3 948 2614.6 946.6 2600C945.2 2585.4 944.9 2579.6 943.5 2567C942.1 2554.4 939.2 2531.7 938.4 2524.6z" fill="#99ff00"/>
<path d="M951.7 2654.4L995 2649L997.2 2671.4L1055.5 2645L1064.6 2581.5L1112 2560.5L1119.7 2556.4L1124.7 2525L1212 2498.9L1216.5 2477.7L1317.9 2450.5L1322.5 2438.4L1422.3 2409.6L1425.4 2403.6L1462.6 2394.5L1458.7 2491.3L1408.7 2500.4L1404.2 2491.3L1396.6 2517.1L1354.2 2530.7L1308.8 2539.8L1302.2 2530.7L1294.1 2561.8L1246.9 2578.1L1199.7 2586.1L1190.6 2615.2L1147 2630.8L1101.6 2638L1094.3 2682.7L1043.5 2699.8L1030.8 2778.6L990.1 2797.9L989 2781.5L963.6 2783.3C961.6 2761.8 953.7 2675.9 951.7 2654.4z" fill="#00ffc0"/>
<polygon points="963.6,2783.3 989,2781.5 990.1,2797.9 1030.8,2778.6 1043.5,2699.8 1094.3,2682.7 1070.7,2803.3 1052.6,2810.6 1023.5,2814.2 1007.2,2906.8 987.9,2917.7 987.2,2905.7 973.8,2907.9" fill="#0000ff"/>
<polygon points="1101.6,2638 1147,2630.8 1190.6,2615.2 1163.3,2732.5 1145.2,2737.9 1119,2739.7" fill="#0000ff"/>
<polygon points="1199.7,2586.1 1246.9,2578.1 1294.1,2561.8 1269.4,2669.6 1246.9,2679.8 1224.4,2682.7" fill="#0000ff"/>
<polygon points="1308.8,2539.8 1354.2,2530.7 1396.6,2517.1 1372.2,2621.7 1350.4,2629 1329.7,2632.6" fill="#0000ff"/>
<polygon points="1408.7,2500.4 1458.7,2491.3 1454.7,2586.7 1431.4,2590" fill="#0000ff"/>
<polygon points="973.8,2907.9 987.2,2905.7 987.9,2917.7 1007.2,2906.8 984,3026.4" fill="#7b0068"/>
<polygon points="1023.5,2814.2 1052.6,2810.6 1070.7,2803.3 1048.9,2914.1" fill="#7b0068"/>
<polygon points="1119,2739.7 1145.2,2737.9 1163.3,2732.5 1143.4,2834.2" fill="#7b0068"/>
<polygon points="1224.4,2682.7 1246.9,2679.8 1269.4,2669.6 1246.9,2770.6" fill="#7b0068"/>
<polygon points="1329.7,2632.6 1350.4,2629 1372.2,2621.7 1349.3,2710.7" fill="#7b0068"/>
<polygon points="1431.4,2590 1454.7,2586.7 1451,2674.4" fill="#7b0068"/>
<g clip-path="url(#clipTop)">
<path d="M813 1918.6C821.9 1922.1 849.7 1929.1 866.3 1939.9C882.9 1950.6 900.1 1967.6 912.9 1983.2C925.7 1998.7 936.2 2019.8 942.9 2033.1C949.5 2046.4 951.2 2058.1 952.9 2063.1" fill="none" stroke="#ff4a4a" stroke-width="0.85" opacity="0.7"/>
<path d="M972.8 1906.6C980.6 1911 1007.2 1922.1 1019.4 1933.2C1031.7 1944.3 1038.9 1959.9 1046.1 1973.2C1053.3 1986.5 1058.8 2002.6 1062.7 2013.1C1066.6 2023.7 1068.3 2032.5 1069.4 2036.4" fill="none" stroke="#ff4a4a" stroke-width="0.85" opacity="0.7"/>
<path d="M1126 1899.9C1131.5 1905.5 1151 1922.1 1159.3 1933.2C1167.6 1944.3 1171.5 1956.5 1175.9 1966.5C1180.4 1976.5 1183.4 1985.9 1185.9 1993.1C1188.5 2000.4 1190.4 2007 1191.2 2009.8" fill="none" stroke="#ff4a4a" stroke-width="0.85" opacity="0.7"/>
<path d="M1259.2 1893.3C1263 1897.7 1275.8 1909.9 1282.5 1919.9C1289.1 1929.9 1294.7 1942.7 1299.1 1953.2C1303.6 1963.7 1307.4 1978.2 1309.1 1983.2" fill="none" stroke="#ff4a4a" stroke-width="0.85" opacity="0.7"/>
<path d="M669.9 1943.4C697.6 1940.8 783.1 1932.4 836.5 1928C890 1923.5 940.4 1919.5 990.5 1916.7C1040.6 1913.8 1090.9 1913.3 1137 1911C1183.2 1908.6 1224.6 1904.7 1267.4 1902.7C1310.2 1900.6 1372.9 1899.4 1394.1 1898.7" fill="none" stroke="#ff4a4a" stroke-width="0.85" opacity="0.7"/>
<path d="M709.1 1954.9C735.2 1952.3 815.3 1944 865.9 1939.7C916.4 1935.4 965 1931.7 1012.5 1929.3C1060 1926.8 1106.7 1927.3 1150.9 1924.8C1195 1922.3 1236 1916.7 1277.7 1914.4C1319.4 1912.2 1380.6 1911.6 1401.1 1911.1" fill="none" stroke="#ff4a4a" stroke-width="0.85" opacity="0.7"/>
<path d="M748.9 1978.8C772.8 1976.3 845.2 1968.7 892.2 1964C939.2 1959.2 985.7 1954.1 1031 1950.5C1076.2 1946.9 1121.2 1945.9 1163.9 1942.4C1206.5 1938.8 1246.5 1932 1287.1 1929.3C1327.8 1926.5 1387.6 1926.5 1407.7 1925.9" fill="none" stroke="#ff4a4a" stroke-width="0.85" opacity="0.7"/>
<path d="M785.6 2011.1C807.7 2007.9 874.3 1997.3 917.9 1991.5C961.5 1985.7 1004.6 1980.8 1047.3 1976.1C1090.1 1971.4 1133 1968.3 1174.3 1963.3C1215.7 1958.3 1255.8 1949.5 1295.5 1946C1335.2 1942.5 1393.1 1943 1412.6 1942.4" fill="none" stroke="#ff4a4a" stroke-width="0.85" opacity="0.7"/>
<path d="M814.3 2050.8C834.8 2046.4 896.6 2031.8 937.4 2024C978.2 2016.3 1018.1 2010.7 1059 2004.3C1099.9 1997.8 1142.3 1991.9 1182.9 1985.1C1223.5 1978.3 1263.5 1967.7 1302.5 1963.4C1341.5 1959 1397.7 1959.8 1416.8 1959" fill="none" stroke="#ff4a4a" stroke-width="0.85" opacity="0.7"/>
<path d="M669.9 1943.4L865.9 1939.7" fill="none" stroke="#ff4a4a" stroke-width="0.85" opacity="0.7"/>
<path d="M836.5 1928L1012.5 1929.3" fill="none" stroke="#ff4a4a" stroke-width="0.85" opacity="0.7"/>
<path d="M990.5 1916.7L1150.9 1924.8" fill="none" stroke="#ff4a4a" stroke-width="0.85" opacity="0.7"/>
<path d="M1137 1911L1277.7 1914.4" fill="none" stroke="#ff4a4a" stroke-width="0.85" opacity="0.7"/>
<path d="M1267.4 1902.7L1401.1 1911.1" fill="none" stroke="#ff4a4a" stroke-width="0.85" opacity="0.7"/>
<path d="M709.1 1954.9L892.2 1964" fill="none" stroke="#ff4a4a" stroke-width="0.85" opacity="0.7"/>
<path d="M865.9 1939.7L1031 1950.5" fill="none" stroke="#ff4a4a" stroke-width="0.85" opacity="0.7"/>
<path d="M1012.5 1929.3L1163.9 1942.4" fill="none" stroke="#ff4a4a" stroke-width="0.85" opacity="0.7"/>
<path d="M1150.9 1924.8L1287.1 1929.3" fill="none" stroke="#ff4a4a" stroke-width="0.85" opacity="0.7"/>
<path d="M1277.7 1914.4L1407.7 1925.9" fill="none" stroke="#ff4a4a" stroke-width="0.85" opacity="0.7"/>
<path d="M748.9 1978.8L917.9 1991.5" fill="none" stroke="#ff4a4a" stroke-width="0.85" opacity="0.7"/>
<path d="M892.2 1964L1047.3 1976.1" fill="none" stroke="#ff4a4a" stroke-width="0.85" opacity="0.7"/>
<path d="M1031 1950.5L1174.3 1963.3" fill="none" stroke="#ff4a4a" stroke-width="0.85" opacity="0.7"/>
<path d="M1163.9 1942.4L1295.5 1946" fill="none" stroke="#ff4a4a" stroke-width="0.85" opacity="0.7"/>
<path d="M1287.1 1929.3L1412.6 1942.4" fill="none" stroke="#ff4a4a" stroke-width="0.85" opacity="0.7"/>
<path d="M785.6 2011.1L937.4 2024" fill="none" stroke="#ff4a4a" stroke-width="0.85" opacity="0.7"/>
<path d="M917.9 1991.5L1059 2004.3" fill="none" stroke="#ff4a4a" stroke-width="0.85" opacity="0.7"/>
<path d="M1047.3 1976.1L1182.9 1985.1" fill="none" stroke="#ff4a4a" stroke-width="0.85" opacity="0.7"/>
<path d="M1174.3 1963.3L1302.5 1963.4" fill="none" stroke="#ff4a4a" stroke-width="0.85" opacity="0.7"/>
<path d="M1295.5 1946L1416.8 1959" fill="none" stroke="#ff4a4a" stroke-width="0.85" opacity="0.7"/>
</g>
<path d="M952.9 2063.1C955.6 2072.5 964 2098 969.5 2119.7C975.1 2141.3 981.2 2164.5 986.2 2192.9C991.1 2221.3 997.3 2273.9 999.5 2290.1" fill="none" stroke="#ff5a5a" stroke-width="1.0" opacity="0.6"/>
<path d="M1069.4 2036.4C1072.2 2048.1 1080.5 2081.4 1086 2106.3C1091.6 2131.3 1097.7 2155.6 1102.7 2186.3C1107.7 2216.9 1113.8 2272.8 1116 2290.1" fill="none" stroke="#ff5a5a" stroke-width="1.0" opacity="0.6"/>
<path d="M1191.2 2009.8C1193.7 2021.4 1201.2 2054.7 1205.9 2079.7C1210.6 2104.7 1215.3 2133 1219.2 2159.6C1223.1 2186.3 1227.5 2226.2 1229.2 2239.5" fill="none" stroke="#ff5a5a" stroke-width="1.0" opacity="0.6"/>
<path d="M1309.1 1983.2C1310.8 1994.8 1316.3 2030.3 1319.1 2053.1C1321.9 2075.8 1324.6 2108.6 1325.7 2119.7" fill="none" stroke="#ff5a5a" stroke-width="1.0" opacity="0.6"/>
<polygon points="1037.3,2375.4 1025.2,2424.8 1060,2406.6 1100,2381 1106,2367.3 1112,2337.6 1100,2330 1037,2340" fill="#ff0000"/>
<path d="M1476.8 2167.8C1474 2165.3 1463.5 2157.2 1460.2 2152.7C1456.9 2148.2 1456.1 2144.6 1457.1 2140.6C1458.1 2136.6 1460.7 2131.8 1466.2 2128.5C1471.8 2125.2 1487.6 2125.5 1490.4 2120.9C1493.2 2116.3 1482.4 2106.5 1482.9 2101.2C1483.4 2095.9 1485.7 2093.4 1493.5 2089.1C1501.3 2084.8 1522.8 2080 1529.8 2075.5C1536.8 2071 1529.2 2066.2 1535.8 2061.9C1542.3 2057.6 1558.4 2054.2 1569.1 2049.8C1579.8 2045.4 1589.8 2039.6 1600 2035.3C1610.2 2031 1619.5 2027.5 1630.3 2024C1641.1 2020.5 1659.3 2015.9 1665.1 2014.3C1669.4 2019.2 1682.5 2031.7 1690.8 2043.7C1699.1 2055.7 1707.9 2073 1715 2086.1C1722.1 2099.2 1727.2 2113.1 1733.2 2122.4C1739.2 2131.7 1745.2 2139 1751.3 2142.1C1757.3 2145.2 1759.4 2144 1769.5 2141.2C1779.6 2138.4 1797.3 2132.6 1811.9 2125.4C1826.5 2118.2 1844.7 2104.8 1857.3 2098.2C1869.9 2091.6 1875.9 2089.1 1887.5 2086.1C1899.1 2083.1 1912.8 2080 1926.9 2080C1941 2080 1956.2 2081.5 1972.3 2086.1C1988.4 2090.7 2007.3 2099.6 2023.7 2107.3C2040.1 2115 2062.8 2128 2070.6 2132.1C2060.3 2131.2 2029.5 2128.1 2008.6 2126.9C1987.7 2125.7 1955.6 2125.2 1945 2124.8L1902.7 2145.1L1842.1 2177L1781.6 2210L1648.8 2283.2L1479.3 2168.2z" fill="#ff0000"/>
<path d="M1210.5 2122.4C1214.8 2120.9 1227.9 2116.8 1236.2 2113.3C1244.5 2109.8 1254.6 2105.7 1260.4 2101.2C1266.2 2096.7 1269 2090.4 1271 2086.1C1273 2081.8 1272.2 2077.3 1272.5 2075.5C1279.1 2073.2 1298.8 2066.7 1311.9 2061.9C1325 2057.1 1341.1 2051.2 1351.2 2046.7C1361.3 2042.2 1359.8 2038.6 1372.4 2034.6C1385 2030.6 1417.8 2024.5 1426.9 2022.5C1433 2020 1449.6 2011.9 1463.2 2007.4C1476.8 2002.9 1493.5 1999.1 1508.6 1995.3C1523.7 1991.5 1538.8 1987.5 1554 1984.7C1569.2 1981.9 1589.8 1979.3 1600 1978.6C1610.2 1977.9 1608.5 1978.4 1615.1 1980.7C1621.6 1983 1631 1986.8 1639.3 1992.3C1647.6 1997.8 1660.8 2009.9 1665.1 2013.4C1659.3 2015.9 1641.1 2020.5 1630.3 2024C1619.5 2027.5 1610.2 2031 1600 2035.3C1589.8 2039.6 1579.8 2045.4 1569.1 2049.8C1558.4 2054.2 1542.3 2057.6 1535.8 2061.9C1529.2 2066.2 1536.8 2071 1529.8 2075.5C1522.8 2080 1501.3 2084.8 1493.5 2089.1C1485.7 2093.4 1483.4 2095.9 1482.9 2101.2C1482.4 2106.5 1493.2 2116.3 1490.4 2120.9C1487.6 2125.5 1471.8 2125.2 1466.2 2128.5C1460.7 2131.8 1458.1 2136.6 1457.1 2140.6C1456.1 2144.6 1456.9 2148.2 1460.2 2152.7C1463.5 2157.2 1474 2165.3 1476.8 2167.8L1432.9 2173.8L1372.4 2179.9L1311.9 2186L1233.2 2192C1235.2 2190 1242.5 2184.4 1245.3 2179.9C1248.1 2175.4 1250.3 2170.4 1249.8 2164.8C1249.3 2159.2 1245.6 2151.7 1242.3 2146.6C1239 2141.5 1235.4 2138.5 1230.1 2134.5C1224.8 2130.5 1213.8 2124.4 1210.5 2122.4z" fill="#680000"/>
<g clip-path="url(#clipBump)">
<path d="M1311.9 2061.9C1314.9 2069.9 1325 2090.1 1330 2110.3C1335.1 2130.5 1340.1 2170.8 1342.1 2182.9" fill="none" stroke="#ff4848" stroke-width="0.9" opacity="0.75"/>
<path d="M1372.4 2034.6C1377.4 2046.2 1395.1 2080.8 1402.7 2104.2C1410.2 2127.7 1415.3 2163.5 1417.8 2175.4" fill="none" stroke="#ff4848" stroke-width="0.9" opacity="0.75"/>
<path d="M1463.2 2007.4C1466.2 2016.5 1478.1 2046.2 1481.4 2061.9C1484.6 2077.5 1482.6 2094.7 1482.9 2101.2" fill="none" stroke="#ff4848" stroke-width="0.9" opacity="0.75"/>
<path d="M1554 1984.7C1551.5 1992.5 1541.9 2018.7 1538.9 2031.6C1535.8 2044.5 1536.3 2056.8 1535.8 2061.9" fill="none" stroke="#ff4848" stroke-width="0.9" opacity="0.75"/>
<path d="M1216.8 2126.3C1233.2 2117.1 1288.7 2084.7 1315.4 2071.3C1342.1 2057.8 1352.1 2054.9 1377.1 2045.5C1402.2 2036.1 1436.5 2023.9 1465.6 2014.7C1494.8 2005.6 1537.6 1994.8 1552 1990.8" fill="none" stroke="#ff4848" stroke-width="0.9" opacity="0.75"/>
<path d="M1226.3 2132.1C1242 2124.3 1294.3 2097.1 1320.7 2085.3C1347 2073.6 1359.5 2071.8 1384.2 2061.9C1409 2052 1441.8 2036.1 1469.3 2025.8C1496.8 2015.4 1535.8 2004.2 1549.1 1999.9" fill="none" stroke="#ff4848" stroke-width="0.9" opacity="0.75"/>
<path d="M1234.8 2139.2C1250 2132.6 1299.9 2109.6 1325.9 2099.4C1352 2089.3 1366.9 2088.7 1391.4 2078.2C1415.9 2067.8 1447.2 2048.3 1473 2036.8C1498.8 2025.2 1534 2013.6 1546.2 2009" fill="none" stroke="#ff4848" stroke-width="0.9" opacity="0.75"/>
<path d="M1242.5 2147.2C1257.2 2141.6 1304.6 2122.4 1330.6 2113.7C1356.6 2104.9 1374.1 2105.6 1398.5 2094.6C1422.8 2083.6 1452.5 2060.5 1476.7 2047.8C1500.8 2035 1532.1 2023 1543.2 2018.1" fill="none" stroke="#ff4848" stroke-width="0.9" opacity="0.75"/>
<path d="M1246.8 2157.4C1261.2 2152.6 1306.8 2136.2 1333.1 2128.5C1359.3 2120.8 1379.6 2123 1404.2 2111.4C1428.7 2099.8 1457.7 2072.9 1480.3 2058.8C1503 2044.8 1530.3 2032.4 1540.3 2027.2" fill="none" stroke="#ff4848" stroke-width="0.9" opacity="0.75"/>
<path d="M1248.9 2167.8C1263.3 2163.8 1309 2149.9 1335.5 2143.4C1362 2136.9 1383.5 2141 1407.9 2128.8C1432.3 2116.7 1459.9 2085.7 1481.7 2070.3C1503.4 2054.9 1528.9 2042.1 1538.4 2036.5" fill="none" stroke="#ff4848" stroke-width="0.9" opacity="0.75"/>
<path d="M1245.7 2178.5C1261.1 2175.1 1310.4 2163.6 1338 2158.2C1365.7 2152.8 1387.6 2159 1411.6 2146.3C1435.6 2133.6 1461.2 2098.6 1482.1 2081.9C1503.1 2065.2 1528.2 2052 1537.4 2046" fill="none" stroke="#ff4848" stroke-width="0.9" opacity="0.75"/>
<path d="M1238.4 2186.8C1255.5 2184.5 1311 2176.9 1340.5 2173C1370 2169.2 1391.6 2177 1415.3 2163.7C1439 2150.5 1462.4 2111.5 1482.6 2093.5C1502.8 2075.4 1527.5 2061.8 1536.5 2055.5" fill="none" stroke="#ff4848" stroke-width="0.9" opacity="0.75"/>
<path d="M1536.2 1988.9L1536.8 2061.5" fill="none" stroke="#ff4848" stroke-width="0.9" opacity="0.75"/>
<path d="M1599 1978.7L1593.1 2038.5" fill="none" stroke="#ff4848" stroke-width="0.9" opacity="0.75"/>
<path d="M1645.4 1997.3L1641.7 2020.8" fill="none" stroke="#ff4848" stroke-width="0.9" opacity="0.75"/>
<path d="M1549.1 1999.9L1484.8 2106.1" fill="none" stroke="#ff4848" stroke-width="0.9" opacity="0.75"/>
<path d="M1469.3 2025.8L1465.5 2157.6" fill="none" stroke="#ff4848" stroke-width="0.9" opacity="0.75"/>
<path d="M1544.2 2015L1516.3 2080.6" fill="none" stroke="#ff4848" stroke-width="0.9" opacity="0.75"/>
<path d="M1475.4 2044.1L1476.5 2125.3" fill="none" stroke="#ff4848" stroke-width="0.9" opacity="0.75"/>
<path d="M1539.3 2030.2L1551.1 2056.3" fill="none" stroke="#ff4848" stroke-width="0.9" opacity="0.75"/>
<path d="M1481.4 2062.5L1489.5 2093.7" fill="none" stroke="#ff4848" stroke-width="0.9" opacity="0.75"/>
<path d="M1537.4 2046L1601.4 2034.8" fill="none" stroke="#ff4848" stroke-width="0.9" opacity="0.75"/>
<path d="M1482.1 2081.9L1533.8 2066.5" fill="none" stroke="#ff4848" stroke-width="0.9" opacity="0.75"/>
<path d="M1536.2 2057.9L1635.8 2022.5" fill="none" stroke="#ff4848" stroke-width="0.9" opacity="0.75"/>
<path d="M1482.7 2096.4L1565.4 2051.1" fill="none" stroke="#ff4848" stroke-width="0.9" opacity="0.75"/>
<path d="M1210.5 2122.4L1387.2 2068.7" fill="none" stroke="#ff4848" stroke-width="0.9" opacity="0.75"/>
<path d="M1311.9 2061.9L1469.3 2025.8" fill="none" stroke="#ff4848" stroke-width="0.9" opacity="0.75"/>
<path d="M1372.4 2034.6L1550.3 1996.1" fill="none" stroke="#ff4848" stroke-width="0.9" opacity="0.75"/>
<path d="M1218.4 2127.3L1393.1 2082.3" fill="none" stroke="#ff4848" stroke-width="0.9" opacity="0.75"/>
<path d="M1316.3 2073.6L1472.4 2034.9" fill="none" stroke="#ff4848" stroke-width="0.9" opacity="0.75"/>
<path d="M1378.3 2048.3L1547.9 2003.7" fill="none" stroke="#ff4848" stroke-width="0.9" opacity="0.75"/>
<path d="M1226.3 2132.1L1399.1 2096" fill="none" stroke="#ff4848" stroke-width="0.9" opacity="0.75"/>
<path d="M1320.7 2085.3L1475.4 2044.1" fill="none" stroke="#ff4848" stroke-width="0.9" opacity="0.75"/>
<path d="M1384.2 2061.9L1545.4 2011.2" fill="none" stroke="#ff4848" stroke-width="0.9" opacity="0.75"/>
<path d="M1233.5 2137.9L1403.9 2109.9" fill="none" stroke="#ff4848" stroke-width="0.9" opacity="0.75"/>
<path d="M1325.1 2097.1L1478.5 2053.3" fill="none" stroke="#ff4848" stroke-width="0.9" opacity="0.75"/>
<path d="M1390.2 2075.5L1543 2018.8" fill="none" stroke="#ff4848" stroke-width="0.9" opacity="0.75"/>
<path d="M1240.1 2144.4L1407 2124.5" fill="none" stroke="#ff4848" stroke-width="0.9" opacity="0.75"/>
<path d="M1329.5 2108.8L1481.4 2062.5" fill="none" stroke="#ff4848" stroke-width="0.9" opacity="0.75"/>
<path d="M1396.1 2089.1L1540.5 2026.4" fill="none" stroke="#ff4848" stroke-width="0.9" opacity="0.75"/>
<path d="M1244.7 2152.3L1410.1 2139" fill="none" stroke="#ff4848" stroke-width="0.9" opacity="0.75"/>
<path d="M1331.8 2121.1L1481.8 2072.2" fill="none" stroke="#ff4848" stroke-width="0.9" opacity="0.75"/>
<path d="M1402 2102.8L1538.6 2034.1" fill="none" stroke="#ff4848" stroke-width="0.9" opacity="0.75"/>
<path d="M1248.2 2160.9L1413.2 2153.6" fill="none" stroke="#ff4848" stroke-width="0.9" opacity="0.75"/>
<path d="M1333.9 2133.5L1482.1 2081.9" fill="none" stroke="#ff4848" stroke-width="0.9" opacity="0.75"/>
<path d="M1405.4 2117.2L1537.8 2042" fill="none" stroke="#ff4848" stroke-width="0.9" opacity="0.75"/>
<path d="M1248.4 2169.6L1416.3 2168.1" fill="none" stroke="#ff4848" stroke-width="0.9" opacity="0.75"/>
<path d="M1335.9 2145.8L1482.5 2091.5" fill="none" stroke="#ff4848" stroke-width="0.9" opacity="0.75"/>
<path d="M1408.5 2131.8L1537 2050" fill="none" stroke="#ff4848" stroke-width="0.9" opacity="0.75"/>
<path d="M1245.7 2178.5L1417.8 2175.4" fill="none" stroke="#ff4848" stroke-width="0.9" opacity="0.75"/>
<path d="M1338 2158.2L1482.9 2101.2" fill="none" stroke="#ff4848" stroke-width="0.9" opacity="0.75"/>
<path d="M1411.6 2146.3L1536.2 2057.9" fill="none" stroke="#ff4848" stroke-width="0.9" opacity="0.75"/>
<path d="M1239.8 2185.4L1417.8 2175.4" fill="none" stroke="#ff4848" stroke-width="0.9" opacity="0.75"/>
<path d="M1340.1 2170.6L1482.9 2101.2" fill="none" stroke="#ff4848" stroke-width="0.9" opacity="0.75"/>
<path d="M1414.7 2160.8L1535.8 2061.9" fill="none" stroke="#ff4848" stroke-width="0.9" opacity="0.75"/>
</g>
<path d="M843.3 2097.1C860.8 2092.1 911.1 2076.9 948.6 2067C986.1 2057.1 1043.3 2043.8 1068.5 2037.9C1093.7 2032 1079.6 2035.4 1100 2031.6C1120.4 2027.8 1156 2021 1190.8 2015C1225.6 2009 1270.5 2001.5 1308.8 1995.3C1347.1 1989.1 1402.1 1980.6 1420.8 1977.7" fill="none" stroke="#ffd0d0" stroke-width="2"/>
<path d="M919.3 2388.4L978.3 2380L1037.3 2375.4L1025.2 2424.8L1060 2406.6L1100 2381L1106 2367.3L1112 2337.6L1168.1 2313.4L1172 2297L1265 2263.7L1267.1 2255.9L1366.3 2228L1372.4 2225L1476.8 2198" fill="none" stroke="#fff0c0" stroke-width="1.6"/>
<path d="M897.8 2225C905 2222.7 926.8 2215.7 941.4 2211.2C955.9 2206.7 977.7 2200 984.9 2197.8" fill="none" stroke="#ffe0e0" stroke-width="1.6"/>
<path d="M986.8 2190.5C995.5 2188.1 1022.2 2180.8 1039.4 2176C1056.7 2171.1 1070.2 2167.2 1090.3 2161.4C1110.4 2155.7 1145.1 2145.5 1160 2141.5C1175 2137.4 1176.7 2137.7 1180 2136.9" fill="none" stroke="#ffe0e0" stroke-width="1.6"/>
<path d="M890.5 2248.6L906.9 2242.4" fill="none" stroke="#ffe0e0" stroke-width="1.6"/>
<path d="M1037.3 2375.4C1042.1 2363.2 1053.9 2323.9 1066 2302C1078.1 2280.1 1097.8 2257.8 1110 2244C1122.2 2230.2 1126.2 2226.3 1139 2219C1151.8 2211.7 1171.3 2204.5 1187 2200C1202.7 2195.5 1225.5 2193.3 1233.2 2192" fill="none" stroke="#ffb0b0" stroke-width="1.0" opacity="0.55"/>
<path d="M938.4 2524.6L1007.1 2515.6L1005.6 2549.5L1079.7 2511L1087.3 2458L1100 2452.5L1142.4 2435.4L1150 2414.2L1239.2 2382.4L1243.8 2368.8L1345.2 2337L1348.2 2331L1448 2300.7L1467.1 2296.1" fill="none" stroke="#f8ffa0" stroke-width="1.8"/>
<path d="M951.7 2654.4L995 2649L997.2 2671.4L1055.5 2645L1064.6 2581.5L1112 2560.5L1119.7 2556.4L1124.7 2525L1212 2498.9L1216.5 2477.7L1317.9 2450.5L1322.5 2438.4L1422.3 2409.6L1425.4 2403.6L1462.6 2394.5" fill="none" stroke="#c0ffd0" stroke-width="1.6"/>
<path d="M963.6 2783.3L989 2781.5L990.1 2797.9L1030.8 2778.6L1043.5 2699.8L1094.3 2682.7L1101.6 2638L1147 2630.8L1190.6 2615.2L1199.7 2586.1L1246.9 2578.1L1294.1 2561.8L1302.2 2530.7L1308.8 2539.8L1354.2 2530.7L1396.6 2517.1L1404.2 2491.3L1408.7 2500.4L1458.7 2491.3" fill="none" stroke="#c0f0ff" stroke-width="1.4"/>
<path d="M1665.1 2014.3C1659.3 2015.9 1641.1 2020.5 1630.3 2024C1619.5 2027.5 1610.2 2031 1600 2035.3C1589.8 2039.6 1579.8 2045.4 1569.1 2049.8C1558.4 2054.2 1542.3 2057.6 1535.8 2061.9C1529.2 2066.2 1536.8 2071 1529.8 2075.5C1522.8 2080 1501.3 2084.8 1493.5 2089.1C1485.7 2093.4 1483.4 2095.9 1482.9 2101.2C1482.4 2106.5 1493.2 2116.3 1490.4 2120.9C1487.6 2125.5 1471.8 2125.2 1466.2 2128.5C1460.7 2131.8 1458.1 2136.6 1457.1 2140.6C1456.1 2144.6 1456.9 2148.2 1460.2 2152.7C1463.5 2157.2 1474 2165.3 1476.8 2167.8" fill="none" stroke="#ffd8d8" stroke-width="2"/>
<path d="M1233.2 2192C1235.2 2190 1242.5 2184.4 1245.3 2179.9C1248.1 2175.4 1250.3 2170.4 1249.8 2164.8C1249.3 2159.2 1245.6 2151.7 1242.3 2146.6C1239 2141.5 1235.4 2138.5 1230.1 2134.5C1224.8 2130.5 1213.8 2124.4 1210.5 2122.4" fill="none" stroke="#ffd8d8" stroke-width="2"/>
<path d="M1210.5 2122.4C1214.8 2120.9 1227.9 2116.8 1236.2 2113.3C1244.5 2109.8 1254.6 2105.7 1260.4 2101.2C1266.2 2096.7 1269 2090.4 1271 2086.1C1273 2081.8 1272.2 2077.3 1272.5 2075.5" fill="none" stroke="#ffb0b0" stroke-width="1.5"/>
<polyline points="1037.3,2375.4 1025.2,2424.8 1060,2406.6 1100,2381" fill="none" stroke="#ffe0c0" stroke-width="1.4"/>
<polyline points="973.8,2907.9 987.2,2905.7 987.9,2917.7 1007.2,2906.8" fill="none" stroke="#ffd0ff" stroke-width="1.6"/>
<polyline points="1023.5,2814.2 1052.6,2810.6 1070.7,2803.3" fill="none" stroke="#ffd0ff" stroke-width="1.6"/>
<polyline points="1119,2739.7 1145.2,2737.9 1163.3,2732.5" fill="none" stroke="#ffd0ff" stroke-width="1.6"/>
<polyline points="1224.4,2682.7 1246.9,2679.8 1269.4,2669.6" fill="none" stroke="#ffd0ff" stroke-width="1.6"/>
<polyline points="1329.7,2632.6 1350.4,2629 1372.2,2621.7" fill="none" stroke="#ffd0ff" stroke-width="1.6"/>
<polyline points="1431.4,2590 1454.7,2586.7" fill="none" stroke="#ffd0ff" stroke-width="1.6"/>
<polyline points="987.5,2790 984,3026.4" fill="none" stroke="#ff70e0" stroke-width="1.0" opacity="0.8"/>
<polyline points="1052.6,2700 1048.9,2914.1" fill="none" stroke="#ff70e0" stroke-width="1.0" opacity="0.8"/>
<polyline points="1147,2630.8 1143.4,2834.2" fill="none" stroke="#ff70e0" stroke-width="1.0" opacity="0.8"/>
<polyline points="1246.9,2578.1 1246.9,2770.6" fill="none" stroke="#ff70e0" stroke-width="1.0" opacity="0.8"/>
<polyline points="1354.2,2530.7 1349.3,2710.7" fill="none" stroke="#ff70e0" stroke-width="1.0" opacity="0.8"/>
</g>
<g id="axes3d" fill="none" stroke="#000" stroke-linecap="butt">
<path d="M637.4 1935.2L690 2869" stroke-width="3.3"/>
<path d="M690 2869L1296.5 3227.8L2023 2908" stroke-width="3.2" stroke-linejoin="miter"/>
<path d="M647.4 2113.2L680.2 2109M657.2 2286.1L689.7 2280.7M666.6 2454L699 2447.5M675.8 2617.2L707.9 2609.5M684.8 2775.9L716.6 2767.1M637.4 1935.2L670.3 1932.3M690 2869L720.7 2859.9M751.3 2905.3L781.9 2895.8M816.1 2943.6L846.5 2933.7M884.6 2984.1L914.9 2973.9M957.1 3027L987.3 3016.3M1034.2 3072.6L1064.2 3061.4M1116.1 3121.1L1145.9 3109.4M1203.3 3172.7L1232.9 3160.4M1468.5 3152.1L1442 3138M1625.3 3083.1L1598.3 3070M1769 3019.8L1741.6 3007.6M1901.1 2961.6L1873.4 2950.2M2023 2908L1995 2897.3" stroke-width="3"/>
</g>
<g id="labels3d" fill="#000">
<text transform="matrix(0.8388 -0.0440 0.0523 0.9986 591.7 1962.9)" font-size="64" font-weight="bold" text-anchor="middle">0</text>
<text transform="matrix(0.8354 -0.0878 0.0523 0.9986 596.2 2143.6)" font-size="64" font-weight="bold" text-anchor="middle">-5</text>
<text transform="matrix(0.8297 -0.1314 0.0523 0.9986 590.2 2321.6)" font-size="64" font-weight="bold" text-anchor="middle">-10</text>
<text transform="matrix(0.8231 -0.1675 0.0523 0.9986 602.2 2490.4)" font-size="64" font-weight="bold" text-anchor="middle">-15</text>
<text transform="matrix(0.8150 -0.2032 0.0523 0.9986 612.2 2656.9)" font-size="64" font-weight="bold" text-anchor="middle">-20</text>
<text transform="matrix(0.8075 -0.2315 0.0523 0.9986 622.2 2816.9)" font-size="64" font-weight="bold" text-anchor="middle">-25</text>
<text transform="matrix(-0.0679 -0.9025 0.9454 -0.1667 523.7 2443.2)" font-size="64" font-weight="bold" text-anchor="middle">Reflection Loss/dB</text>
<text transform="matrix(0.7096 -0.2237 0.5280 0.3173 659.9 2900.0)" font-size="64" font-weight="bold" text-anchor="middle">2</text>
<text transform="matrix(0.7273 -0.2293 0.5412 0.3252 725.6 2936.5)" font-size="64" font-weight="bold" text-anchor="middle">4</text>
<text transform="matrix(0.7539 -0.2377 0.5610 0.3371 787.9 2976.7)" font-size="64" font-weight="bold" text-anchor="middle">6</text>
<text transform="matrix(0.7805 -0.2461 0.5808 0.3490 856.1 3019.3)" font-size="64" font-weight="bold" text-anchor="middle">8</text>
<text transform="matrix(0.8071 -0.2545 0.6006 0.3609 915.8 3068.1)" font-size="64" font-weight="bold" text-anchor="middle">10</text>
<text transform="matrix(0.8337 -0.2629 0.6204 0.3728 995.7 3116.5)" font-size="64" font-weight="bold" text-anchor="middle">12</text>
<text transform="matrix(0.8603 -0.2713 0.6402 0.3847 1076.7 3166.8)" font-size="64" font-weight="bold" text-anchor="middle">14</text>
<text transform="matrix(0.8870 -0.2797 0.6600 0.3966 1164.7 3221.7)" font-size="64" font-weight="bold" text-anchor="middle">16</text>
<text transform="matrix(0.9136 -0.2880 0.6798 0.4085 1258.0 3279.8)" font-size="64" font-weight="bold" text-anchor="middle">18</text>
<text transform="matrix(0.5712 0.3781 -0.8175 0.2976 796.3 3086.8)" font-size="64" font-weight="bold" text-anchor="middle" letter-spacing="-1.8">Frequency/GHz</text>
<text transform="matrix(0.8649 0.3671 -0.8152 0.3460 1333.0 3278.3)" font-size="64" font-weight="bold" text-anchor="middle">1.5</text>
<text transform="matrix(0.8329 0.3535 -0.7850 0.3332 1499.8 3199.0)" font-size="64" font-weight="bold" text-anchor="middle">2.0</text>
<text transform="matrix(0.8008 0.3399 -0.7548 0.3204 1658.5 3129.5)" font-size="64" font-weight="bold" text-anchor="middle">2.5</text>
<text transform="matrix(0.7688 0.3263 -0.7246 0.3076 1803.6 3061.1)" font-size="64" font-weight="bold" text-anchor="middle">3.0</text>
<text transform="matrix(0.7368 0.3127 -0.6944 0.2948 1940.5 3002.1)" font-size="64" font-weight="bold" text-anchor="middle">3.5</text>
<text transform="matrix(0.7127 0.3025 -0.6718 0.2852 2060.8 2943.5)" font-size="64" font-weight="bold" text-anchor="middle">4.0</text>
<text transform="matrix(0.7262 -0.3356 0.7930 0.4041 1863.2 3123.8)" font-size="64" font-weight="bold" text-anchor="middle" letter-spacing="-2.2">Thickness/mm</text>
</g>
<g id="inset">
<path d="M1576.5 2433.7 L1578.5 2433.7 L1580.5 2433.7 L1582.5 2433.8 L1584.5 2433.8 L1586.5 2433.9 L1588.5 2433.9 L1590.5 2434 L1592.5 2434.1 L1594.5 2434.2 L1596.6 2434.3 L1598.6 2434.4 L1600.6 2434.5 L1602.6 2434.6 L1604.6 2434.8 L1606.6 2434.9 L1608.6 2435.1 L1610.6 2435.2 L1612.6 2435.4 L1614.6 2435.5 L1616.6 2435.7 L1618.6 2435.9 L1620.6 2436 L1622.6 2436.2 L1624.7 2436.4 L1626.7 2436.6 L1628.7 2436.8 L1630.7 2437 L1632.7 2437.3 L1634.7 2437.5 L1636.7 2437.9 L1638.7 2438.2 L1640.7 2438.5 L1642.7 2438.9 L1644.7 2439.3 L1646.7 2439.7 L1648.7 2440.2 L1650.7 2440.6 L1652.8 2441.1 L1654.8 2441.6 L1656.8 2442.1 L1658.8 2442.7 L1660.8 2443.2 L1662.8 2443.8 L1664.8 2444.4 L1666.8 2445 L1668.8 2445.6 L1670.8 2446.2 L1672.8 2446.8 L1674.8 2447.5 L1676.8 2448.1 L1678.8 2448.8 L1680.9 2449.6 L1682.9 2450.4 L1684.9 2451.2 L1686.9 2452.1 L1688.9 2453.1 L1690.9 2454.1 L1692.9 2455.1 L1694.9 2456.3 L1696.9 2457.4 L1698.9 2458.7 L1700.9 2460 L1702.9 2461.3 L1704.9 2462.7 L1706.9 2464.2 L1709 2465.8 L1711 2467.6 L1713 2469.4 L1715 2471.3 L1717 2473.3 L1719 2475.5 L1721 2477.8 L1723 2480.2 L1725 2482.8 L1727 2485.5 L1729 2488.3 L1731 2491.3 L1733 2494.6 L1735 2498.5 L1737.1 2503.1 L1739.1 2508.2 L1741.1 2513.6 L1743.1 2519.2 L1745.1 2524.9 L1747.1 2530.4 L1749.1 2535.9 L1751.1 2541.4 L1753.1 2547.1 L1755.1 2553.1 L1757.1 2559.4 L1759.1 2566.2 L1761.1 2573.7 L1763.1 2581.9 L1765.2 2590.7 L1767.2 2600.2 L1769.2 2610.2 L1771.2 2620.6 L1773.2 2631.5 L1775.2 2643.7 L1777.2 2657.5 L1779.2 2675 L1781.2 2695.5 L1783.2 2715.8 L1785.2 2733.8 L1787.2 2751.1 L1789.2 2769.5 L1791.3 2794.4 L1793.3 2823 L1795.3 2831.5 L1797.3 2816.5 L1799.3 2792.1 L1801.3 2763.1 L1803.3 2728.2 L1805.3 2705.4 L1807.3 2688.7 L1809.3 2673.2 L1811.3 2655.3 L1813.3 2637.1 L1815.3 2624.9 L1817.3 2616.9 L1819.4 2610.4 L1821.4 2605 L1823.4 2600 L1825.4 2595.1 L1827.4 2589.7 L1829.4 2583.5 L1831.4 2577.2 L1833.4 2571.1 L1835.4 2565.5 L1837.4 2560.8 L1839.4 2556.9 L1841.4 2553.3 L1843.4 2550 L1845.4 2547 L1847.5 2544.2 L1849.5 2541.5 L1851.5 2538.9 L1853.5 2536.4 L1855.5 2534 L1857.5 2531.7 L1859.5 2529.4 L1861.5 2527.3 L1863.5 2525.2 L1865.5 2523.2 L1867.5 2521.2 L1869.5 2519.4 L1871.5 2517.6 L1873.5 2515.8 L1875.6 2514.2 L1877.6 2512.5 L1879.6 2510.9 L1881.6 2509.3 L1883.6 2507.8 L1885.6 2506.3 L1887.6 2504.8 L1889.6 2503.4 L1891.6 2502 L1893.6 2500.7 L1895.6 2499.5 L1897.6 2498.3 L1899.6 2497.3 L1901.6 2496.3 L1903.7 2495.3 L1905.7 2494.5 L1907.7 2493.7 L1909.7 2492.9 L1911.7 2492.1 L1913.7 2491.4 L1915.7 2490.8 L1917.7 2490.1 L1919.7 2489.5 L1921.7 2488.9 L1923.7 2488.3 L1925.7 2487.7 L1927.7 2487.1 L1929.7 2486.6 L1931.8 2486 L1933.8 2485.5 L1935.8 2484.9 L1937.8 2484.4 L1939.8 2483.9 L1941.8 2483.4 L1943.8 2482.9 L1945.8 2482.4 L1947.8 2481.9 L1949.8 2481.5 L1951.8 2481.1 L1953.8 2480.7 L1955.8 2480.3 L1957.8 2479.9 L1959.9 2479.6 L1961.9 2479.2 L1963.9 2478.9 L1965.9 2478.6 L1967.9 2478.3 L1969.9 2478 L1971.9 2477.7 L1973.9 2477.5 L1975.9 2477.2 L1977.9 2477" fill="none" stroke="#000000" stroke-width="1.3"/>
<path d="M1571.9 2429.1h9.2v9.2h-9.2zM1573.9 2429.1h9.2v9.2h-9.2zM1575.9 2429.1h9.2v9.2h-9.2zM1577.9 2429.2h9.2v9.2h-9.2zM1579.9 2429.2h9.2v9.2h-9.2zM1581.9 2429.3h9.2v9.2h-9.2zM1583.9 2429.3h9.2v9.2h-9.2zM1585.9 2429.4h9.2v9.2h-9.2zM1587.9 2429.5h9.2v9.2h-9.2zM1589.9 2429.6h9.2v9.2h-9.2zM1592 2429.7h9.2v9.2h-9.2zM1594 2429.8h9.2v9.2h-9.2zM1596 2429.9h9.2v9.2h-9.2zM1598 2430h9.2v9.2h-9.2zM1600 2430.2h9.2v9.2h-9.2zM1602 2430.3h9.2v9.2h-9.2zM1604 2430.5h9.2v9.2h-9.2zM1606 2430.6h9.2v9.2h-9.2zM1608 2430.8h9.2v9.2h-9.2zM1610 2430.9h9.2v9.2h-9.2zM1612 2431.1h9.2v9.2h-9.2zM1614 2431.3h9.2v9.2h-9.2zM1616 2431.4h9.2v9.2h-9.2zM1618 2431.6h9.2v9.2h-9.2zM1620.1 2431.8h9.2v9.2h-9.2zM1622.1 2432h9.2v9.2h-9.2zM1624.1 2432.2h9.2v9.2h-9.2zM1626.1 2432.4h9.2v9.2h-9.2zM1628.1 2432.7h9.2v9.2h-9.2zM1630.1 2432.9h9.2v9.2h-9.2zM1632.1 2433.3h9.2v9.2h-9.2zM1634.1 2433.6h9.2v9.2h-9.2zM1636.1 2433.9h9.2v9.2h-9.2zM1638.1 2434.3h9.2v9.2h-9.2zM1640.1 2434.7h9.2v9.2h-9.2zM1642.1 2435.1h9.2v9.2h-9.2zM1644.1 2435.6h9.2v9.2h-9.2zM1646.1 2436h9.2v9.2h-9.2zM1648.2 2436.5h9.2v9.2h-9.2zM1650.2 2437h9.2v9.2h-9.2zM1652.2 2437.5h9.2v9.2h-9.2zM1654.2 2438.1h9.2v9.2h-9.2zM1656.2 2438.6h9.2v9.2h-9.2zM1658.2 2439.2h9.2v9.2h-9.2zM1660.2 2439.8h9.2v9.2h-9.2zM1662.2 2440.4h9.2v9.2h-9.2zM1664.2 2441h9.2v9.2h-9.2zM1666.2 2441.6h9.2v9.2h-9.2zM1668.2 2442.2h9.2v9.2h-9.2zM1670.2 2442.9h9.2v9.2h-9.2zM1672.2 2443.5h9.2v9.2h-9.2zM1674.2 2444.2h9.2v9.2h-9.2zM1676.3 2445h9.2v9.2h-9.2zM1678.3 2445.8h9.2v9.2h-9.2zM1680.3 2446.6h9.2v9.2h-9.2zM1682.3 2447.5h9.2v9.2h-9.2zM1684.3 2448.5h9.2v9.2h-9.2zM1686.3 2449.5h9.2v9.2h-9.2zM1688.3 2450.5h9.2v9.2h-9.2zM1690.3 2451.7h9.2v9.2h-9.2zM1692.3 2452.8h9.2v9.2h-9.2zM1694.3 2454.1h9.2v9.2h-9.2zM1696.3 2455.4h9.2v9.2h-9.2zM1698.3 2456.7h9.2v9.2h-9.2zM1700.3 2458.1h9.2v9.2h-9.2zM1702.3 2459.6h9.2v9.2h-9.2zM1704.4 2461.2h9.2v9.2h-9.2zM1706.4 2463h9.2v9.2h-9.2zM1708.4 2464.8h9.2v9.2h-9.2zM1710.4 2466.7h9.2v9.2h-9.2zM1712.4 2468.7h9.2v9.2h-9.2zM1714.4 2470.9h9.2v9.2h-9.2zM1716.4 2473.2h9.2v9.2h-9.2zM1718.4 2475.6h9.2v9.2h-9.2zM1720.4 2478.2h9.2v9.2h-9.2zM1722.4 2480.9h9.2v9.2h-9.2zM1724.4 2483.7h9.2v9.2h-9.2zM1726.4 2486.7h9.2v9.2h-9.2zM1728.4 2490h9.2v9.2h-9.2zM1730.4 2493.9h9.2v9.2h-9.2zM1732.5 2498.5h9.2v9.2h-9.2zM1734.5 2503.6h9.2v9.2h-9.2zM1736.5 2509h9.2v9.2h-9.2zM1738.5 2514.6h9.2v9.2h-9.2zM1740.5 2520.3h9.2v9.2h-9.2zM1742.5 2525.8h9.2v9.2h-9.2zM1744.5 2531.3h9.2v9.2h-9.2zM1746.5 2536.8h9.2v9.2h-9.2zM1748.5 2542.5h9.2v9.2h-9.2zM1750.5 2548.5h9.2v9.2h-9.2zM1752.5 2554.8h9.2v9.2h-9.2zM1754.5 2561.6h9.2v9.2h-9.2zM1756.5 2569.1h9.2v9.2h-9.2zM1758.5 2577.3h9.2v9.2h-9.2zM1760.6 2586.1h9.2v9.2h-9.2zM1762.6 2595.6h9.2v9.2h-9.2zM1764.6 2605.6h9.2v9.2h-9.2zM1766.6 2616h9.2v9.2h-9.2zM1768.6 2626.9h9.2v9.2h-9.2zM1770.6 2639.1h9.2v9.2h-9.2zM1772.6 2652.9h9.2v9.2h-9.2zM1774.6 2670.4h9.2v9.2h-9.2zM1776.6 2690.9h9.2v9.2h-9.2zM1778.6 2711.2h9.2v9.2h-9.2zM1780.6 2729.2h9.2v9.2h-9.2zM1782.6 2746.5h9.2v9.2h-9.2zM1784.6 2764.9h9.2v9.2h-9.2zM1786.7 2789.8h9.2v9.2h-9.2zM1788.7 2818.4h9.2v9.2h-9.2zM1790.7 2826.9h9.2v9.2h-9.2zM1792.7 2811.9h9.2v9.2h-9.2zM1794.7 2787.5h9.2v9.2h-9.2zM1796.7 2758.5h9.2v9.2h-9.2zM1798.7 2723.6h9.2v9.2h-9.2zM1800.7 2700.8h9.2v9.2h-9.2zM1802.7 2684.1h9.2v9.2h-9.2zM1804.7 2668.6h9.2v9.2h-9.2zM1806.7 2650.7h9.2v9.2h-9.2zM1808.7 2632.5h9.2v9.2h-9.2zM1810.7 2620.3h9.2v9.2h-9.2zM1812.7 2612.3h9.2v9.2h-9.2zM1814.8 2605.8h9.2v9.2h-9.2zM1816.8 2600.4h9.2v9.2h-9.2zM1818.8 2595.4h9.2v9.2h-9.2zM1820.8 2590.5h9.2v9.2h-9.2zM1822.8 2585.1h9.2v9.2h-9.2zM1824.8 2578.9h9.2v9.2h-9.2zM1826.8 2572.6h9.2v9.2h-9.2zM1828.8 2566.5h9.2v9.2h-9.2zM1830.8 2560.9h9.2v9.2h-9.2zM1832.8 2556.2h9.2v9.2h-9.2zM1834.8 2552.3h9.2v9.2h-9.2zM1836.8 2548.7h9.2v9.2h-9.2zM1838.8 2545.4h9.2v9.2h-9.2zM1840.8 2542.4h9.2v9.2h-9.2zM1842.9 2539.6h9.2v9.2h-9.2zM1844.9 2536.9h9.2v9.2h-9.2zM1846.9 2534.3h9.2v9.2h-9.2zM1848.9 2531.8h9.2v9.2h-9.2zM1850.9 2529.4h9.2v9.2h-9.2zM1852.9 2527.1h9.2v9.2h-9.2zM1854.9 2524.8h9.2v9.2h-9.2zM1856.9 2522.7h9.2v9.2h-9.2zM1858.9 2520.6h9.2v9.2h-9.2zM1860.9 2518.6h9.2v9.2h-9.2zM1862.9 2516.6h9.2v9.2h-9.2zM1864.9 2514.8h9.2v9.2h-9.2zM1866.9 2513h9.2v9.2h-9.2zM1868.9 2511.2h9.2v9.2h-9.2zM1871 2509.6h9.2v9.2h-9.2zM1873 2507.9h9.2v9.2h-9.2zM1875 2506.3h9.2v9.2h-9.2zM1877 2504.7h9.2v9.2h-9.2zM1879 2503.2h9.2v9.2h-9.2zM1881 2501.7h9.2v9.2h-9.2zM1883 2500.2h9.2v9.2h-9.2zM1885 2498.8h9.2v9.2h-9.2zM1887 2497.4h9.2v9.2h-9.2zM1889 2496.1h9.2v9.2h-9.2zM1891 2494.9h9.2v9.2h-9.2zM1893 2493.7h9.2v9.2h-9.2zM1895 2492.7h9.2v9.2h-9.2zM1897 2491.7h9.2v9.2h-9.2zM1899.1 2490.7h9.2v9.2h-9.2zM1901.1 2489.9h9.2v9.2h-9.2zM1903.1 2489.1h9.2v9.2h-9.2zM1905.1 2488.3h9.2v9.2h-9.2zM1907.1 2487.5h9.2v9.2h-9.2zM1909.1 2486.8h9.2v9.2h-9.2zM1911.1 2486.2h9.2v9.2h-9.2zM1913.1 2485.5h9.2v9.2h-9.2zM1915.1 2484.9h9.2v9.2h-9.2zM1917.1 2484.3h9.2v9.2h-9.2zM1919.1 2483.7h9.2v9.2h-9.2zM1921.1 2483.1h9.2v9.2h-9.2zM1923.1 2482.5h9.2v9.2h-9.2zM1925.1 2482h9.2v9.2h-9.2zM1927.2 2481.4h9.2v9.2h-9.2zM1929.2 2480.9h9.2v9.2h-9.2zM1931.2 2480.3h9.2v9.2h-9.2zM1933.2 2479.8h9.2v9.2h-9.2zM1935.2 2479.3h9.2v9.2h-9.2zM1937.2 2478.8h9.2v9.2h-9.2zM1939.2 2478.3h9.2v9.2h-9.2zM1941.2 2477.8h9.2v9.2h-9.2zM1943.2 2477.3h9.2v9.2h-9.2zM1945.2 2476.9h9.2v9.2h-9.2zM1947.2 2476.5h9.2v9.2h-9.2zM1949.2 2476.1h9.2v9.2h-9.2zM1951.2 2475.7h9.2v9.2h-9.2zM1953.2 2475.3h9.2v9.2h-9.2zM1955.3 2475h9.2v9.2h-9.2zM1957.3 2474.6h9.2v9.2h-9.2zM1959.3 2474.3h9.2v9.2h-9.2zM1961.3 2474h9.2v9.2h-9.2zM1963.3 2473.7h9.2v9.2h-9.2zM1965.3 2473.4h9.2v9.2h-9.2zM1967.3 2473.1h9.2v9.2h-9.2zM1969.3 2472.9h9.2v9.2h-9.2zM1971.3 2472.6h9.2v9.2h-9.2zM1973.3 2472.4h9.2v9.2h-9.2z" fill="#000000"/>
<path d="M1576.5 2433.7 L1578.5 2433.8 L1580.5 2434 L1582.5 2434.2 L1584.5 2434.4 L1586.5 2434.6 L1588.5 2434.8 L1590.5 2435.1 L1592.5 2435.3 L1594.5 2435.6 L1596.6 2435.9 L1598.6 2436.1 L1600.6 2436.4 L1602.6 2436.7 L1604.6 2437.1 L1606.6 2437.4 L1608.6 2437.7 L1610.6 2438.1 L1612.6 2438.4 L1614.6 2438.8 L1616.6 2439.3 L1618.6 2439.7 L1620.6 2440.2 L1622.6 2440.8 L1624.7 2441.4 L1626.7 2442 L1628.7 2442.7 L1630.7 2443.6 L1632.7 2444.7 L1634.7 2446 L1636.7 2447.4 L1638.7 2448.9 L1640.7 2450.5 L1642.7 2452.2 L1644.7 2454 L1646.7 2455.9 L1648.7 2457.8 L1650.7 2459.7 L1652.8 2461.8 L1654.8 2464 L1656.8 2466.4 L1658.8 2468.9 L1660.8 2471.6 L1662.8 2474.3 L1664.8 2477.3 L1666.8 2480.3 L1668.8 2483.5 L1670.8 2486.9 L1672.8 2490.4 L1674.8 2494.3 L1676.8 2498.7 L1678.8 2503.3 L1680.9 2508.2 L1682.9 2513.2 L1684.9 2518.2 L1686.9 2523.2 L1688.9 2528.1 L1690.9 2532.9 L1692.9 2537.8 L1694.9 2542.9 L1696.9 2548.5 L1698.9 2554.8 L1700.9 2561.7 L1702.9 2569.4 L1704.9 2578.6 L1706.9 2589.7 L1709 2605.5 L1711 2625.5 L1713 2646.2 L1715 2668.2 L1717 2692.2 L1719 2719.4 L1721 2748.6 L1723 2779.1 L1725 2814.6 L1727 2832.2 L1729 2813.2 L1731 2782.8 L1733 2756.7 L1735 2729 L1737.1 2699.4 L1739.1 2663.7 L1741.1 2645.2 L1743.1 2633.3 L1745.1 2623.7 L1747.1 2613.8 L1749.1 2604.3 L1751.1 2595.6 L1753.1 2587.7 L1755.1 2580.8 L1757.1 2574.6 L1759.1 2568.9 L1761.1 2563.6 L1763.1 2558.6 L1765.2 2553.8 L1767.2 2549.2 L1769.2 2544.6 L1771.2 2540.1 L1773.2 2535.6 L1775.2 2531.3 L1777.2 2527.2 L1779.2 2523.4 L1781.2 2519.8 L1783.2 2516.7 L1785.2 2513.9 L1787.2 2511.4 L1789.2 2509 L1791.3 2506.7 L1793.3 2504.5 L1795.3 2502.5 L1797.3 2500.6 L1799.3 2498.8 L1801.3 2497.1 L1803.3 2495.6 L1805.3 2494.2 L1807.3 2492.9 L1809.3 2491.7 L1811.3 2490.6 L1813.3 2489.5 L1815.3 2488.5 L1817.3 2487.5 L1819.4 2486.6 L1821.4 2485.7 L1823.4 2484.8 L1825.4 2484 L1827.4 2483.3 L1829.4 2482.5 L1831.4 2481.8 L1833.4 2481.2 L1835.4 2480.5 L1837.4 2479.9 L1839.4 2479.3 L1841.4 2478.7 L1843.4 2478.1 L1845.4 2477.6 L1847.5 2477 L1849.5 2476.4 L1851.5 2475.9 L1853.5 2475.4 L1855.5 2474.9 L1857.5 2474.4 L1859.5 2474 L1861.5 2473.6 L1863.5 2473.2 L1865.5 2472.9 L1867.5 2472.6 L1869.5 2472.3 L1871.5 2472.1 L1873.5 2471.9 L1875.6 2471.7 L1877.6 2471.5 L1879.6 2471.3 L1881.6 2471.2 L1883.6 2471 L1885.6 2470.9 L1887.6 2470.7 L1889.6 2470.6 L1891.6 2470.4 L1893.6 2470.3 L1895.6 2470.2 L1897.6 2470.1 L1899.6 2470 L1901.6 2469.9 L1903.7 2469.9 L1905.7 2469.8 L1907.7 2469.8 L1909.7 2469.8 L1911.7 2469.8 L1913.7 2469.8 L1915.7 2469.9 L1917.7 2469.9 L1919.7 2470 L1921.7 2470.1 L1923.7 2470.2 L1925.7 2470.3 L1927.7 2470.4 L1929.7 2470.5 L1931.8 2470.6 L1933.8 2470.8 L1935.8 2470.9 L1937.8 2471.1 L1939.8 2471.3 L1941.8 2471.4 L1943.8 2471.6 L1945.8 2471.8 L1947.8 2472 L1949.8 2472.2 L1951.8 2472.4 L1953.8 2472.7 L1955.8 2473.1 L1957.8 2473.4 L1959.9 2473.8 L1961.9 2474.3 L1963.9 2474.7 L1965.9 2475.2 L1967.9 2475.7 L1969.9 2476.2 L1971.9 2476.8 L1973.9 2477.3 L1975.9 2477.9 L1977.9 2478.5" fill="none" stroke="#e00000" stroke-width="1.3"/>
<path d="M1571.6 2433.7a4.9 4.9 0 1 0 9.8 0a4.9 4.9 0 1 0 -9.8 0zM1573.6 2433.8a4.9 4.9 0 1 0 9.8 0a4.9 4.9 0 1 0 -9.8 0zM1575.6 2434a4.9 4.9 0 1 0 9.8 0a4.9 4.9 0 1 0 -9.8 0zM1577.6 2434.2a4.9 4.9 0 1 0 9.8 0a4.9 4.9 0 1 0 -9.8 0zM1579.6 2434.4a4.9 4.9 0 1 0 9.8 0a4.9 4.9 0 1 0 -9.8 0zM1581.6 2434.6a4.9 4.9 0 1 0 9.8 0a4.9 4.9 0 1 0 -9.8 0zM1583.6 2434.8a4.9 4.9 0 1 0 9.8 0a4.9 4.9 0 1 0 -9.8 0zM1585.6 2435.1a4.9 4.9 0 1 0 9.8 0a4.9 4.9 0 1 0 -9.8 0zM1587.6 2435.3a4.9 4.9 0 1 0 9.8 0a4.9 4.9 0 1 0 -9.8 0zM1589.6 2435.6a4.9 4.9 0 1 0 9.8 0a4.9 4.9 0 1 0 -9.8 0zM1591.7 2435.9a4.9 4.9 0 1 0 9.8 0a4.9 4.9 0 1 0 -9.8 0zM1593.7 2436.1a4.9 4.9 0 1 0 9.8 0a4.9 4.9 0 1 0 -9.8 0zM1595.7 2436.4a4.9 4.9 0 1 0 9.8 0a4.9 4.9 0 1 0 -9.8 0zM1597.7 2436.7a4.9 4.9 0 1 0 9.8 0a4.9 4.9 0 1 0 -9.8 0zM1599.7 2437.1a4.9 4.9 0 1 0 9.8 0a4.9 4.9 0 1 0 -9.8 0zM1601.7 2437.4a4.9 4.9 0 1 0 9.8 0a4.9 4.9 0 1 0 -9.8 0zM1603.7 2437.7a4.9 4.9 0 1 0 9.8 0a4.9 4.9 0 1 0 -9.8 0zM1605.7 2438.1a4.9 4.9 0 1 0 9.8 0a4.9 4.9 0 1 0 -9.8 0zM1607.7 2438.4a4.9 4.9 0 1 0 9.8 0a4.9 4.9 0 1 0 -9.8 0zM1609.7 2438.8a4.9 4.9 0 1 0 9.8 0a4.9 4.9 0 1 0 -9.8 0zM1611.7 2439.3a4.9 4.9 0 1 0 9.8 0a4.9 4.9 0 1 0 -9.8 0zM1613.7 2439.7a4.9 4.9 0 1 0 9.8 0a4.9 4.9 0 1 0 -9.8 0zM1615.7 2440.2a4.9 4.9 0 1 0 9.8 0a4.9 4.9 0 1 0 -9.8 0zM1617.7 2440.8a4.9 4.9 0 1 0 9.8 0a4.9 4.9 0 1 0 -9.8 0zM1619.8 2441.4a4.9 4.9 0 1 0 9.8 0a4.9 4.9 0 1 0 -9.8 0zM1621.8 2442a4.9 4.9 0 1 0 9.8 0a4.9 4.9 0 1 0 -9.8 0zM1623.8 2442.7a4.9 4.9 0 1 0 9.8 0a4.9 4.9 0 1 0 -9.8 0zM1625.8 2443.6a4.9 4.9 0 1 0 9.8 0a4.9 4.9 0 1 0 -9.8 0zM1627.8 2444.7a4.9 4.9 0 1 0 9.8 0a4.9 4.9 0 1 0 -9.8 0zM1629.8 2446a4.9 4.9 0 1 0 9.8 0a4.9 4.9 0 1 0 -9.8 0zM1631.8 2447.4a4.9 4.9 0 1 0 9.8 0a4.9 4.9 0 1 0 -9.8 0zM1633.8 2448.9a4.9 4.9 0 1 0 9.8 0a4.9 4.9 0 1 0 -9.8 0zM1635.8 2450.5a4.9 4.9 0 1 0 9.8 0a4.9 4.9 0 1 0 -9.8 0zM1637.8 2452.2a4.9 4.9 0 1 0 9.8 0a4.9 4.9 0 1 0 -9.8 0zM1639.8 2454a4.9 4.9 0 1 0 9.8 0a4.9 4.9 0 1 0 -9.8 0zM1641.8 2455.9a4.9 4.9 0 1 0 9.8 0a4.9 4.9 0 1 0 -9.8 0zM1643.8 2457.8a4.9 4.9 0 1 0 9.8 0a4.9 4.9 0 1 0 -9.8 0zM1645.8 2459.7a4.9 4.9 0 1 0 9.8 0a4.9 4.9 0 1 0 -9.8 0zM1647.9 2461.8a4.9 4.9 0 1 0 9.8 0a4.9 4.9 0 1 0 -9.8 0zM1649.9 2464a4.9 4.9 0 1 0 9.8 0a4.9 4.9 0 1 0 -9.8 0zM1651.9 2466.4a4.9 4.9 0 1 0 9.8 0a4.9 4.9 0 1 0 -9.8 0zM1653.9 2468.9a4.9 4.9 0 1 0 9.8 0a4.9 4.9 0 1 0 -9.8 0zM1655.9 2471.6a4.9 4.9 0 1 0 9.8 0a4.9 4.9 0 1 0 -9.8 0zM1657.9 2474.3a4.9 4.9 0 1 0 9.8 0a4.9 4.9 0 1 0 -9.8 0zM1659.9 2477.3a4.9 4.9 0 1 0 9.8 0a4.9 4.9 0 1 0 -9.8 0zM1661.9 2480.3a4.9 4.9 0 1 0 9.8 0a4.9 4.9 0 1 0 -9.8 0zM1663.9 2483.5a4.9 4.9 0 1 0 9.8 0a4.9 4.9 0 1 0 -9.8 0zM1665.9 2486.9a4.9 4.9 0 1 0 9.8 0a4.9 4.9 0 1 0 -9.8 0zM1667.9 2490.4a4.9 4.9 0 1 0 9.8 0a4.9 4.9 0 1 0 -9.8 0zM1669.9 2494.3a4.9 4.9 0 1 0 9.8 0a4.9 4.9 0 1 0 -9.8 0zM1671.9 2498.7a4.9 4.9 0 1 0 9.8 0a4.9 4.9 0 1 0 -9.8 0zM1673.9 2503.3a4.9 4.9 0 1 0 9.8 0a4.9 4.9 0 1 0 -9.8 0zM1676 2508.2a4.9 4.9 0 1 0 9.8 0a4.9 4.9 0 1 0 -9.8 0zM1678 2513.2a4.9 4.9 0 1 0 9.8 0a4.9 4.9 0 1 0 -9.8 0zM1680 2518.2a4.9 4.9 0 1 0 9.8 0a4.9 4.9 0 1 0 -9.8 0zM1682 2523.2a4.9 4.9 0 1 0 9.8 0a4.9 4.9 0 1 0 -9.8 0zM1684 2528.1a4.9 4.9 0 1 0 9.8 0a4.9 4.9 0 1 0 -9.8 0zM1686 2532.9a4.9 4.9 0 1 0 9.8 0a4.9 4.9 0 1 0 -9.8 0zM1688 2537.8a4.9 4.9 0 1 0 9.8 0a4.9 4.9 0 1 0 -9.8 0zM1690 2542.9a4.9 4.9 0 1 0 9.8 0a4.9 4.9 0 1 0 -9.8 0zM1692 2548.5a4.9 4.9 0 1 0 9.8 0a4.9 4.9 0 1 0 -9.8 0zM1694 2554.8a4.9 4.9 0 1 0 9.8 0a4.9 4.9 0 1 0 -9.8 0zM1696 2561.7a4.9 4.9 0 1 0 9.8 0a4.9 4.9 0 1 0 -9.8 0zM1698 2569.4a4.9 4.9 0 1 0 9.8 0a4.9 4.9 0 1 0 -9.8 0zM1700 2578.6a4.9 4.9 0 1 0 9.8 0a4.9 4.9 0 1 0 -9.8 0zM1702 2589.7a4.9 4.9 0 1 0 9.8 0a4.9 4.9 0 1 0 -9.8 0zM1704.1 2605.5a4.9 4.9 0 1 0 9.8 0a4.9 4.9 0 1 0 -9.8 0zM1706.1 2625.5a4.9 4.9 0 1 0 9.8 0a4.9 4.9 0 1 0 -9.8 0zM1708.1 2646.2a4.9 4.9 0 1 0 9.8 0a4.9 4.9 0 1 0 -9.8 0zM1710.1 2668.2a4.9 4.9 0 1 0 9.8 0a4.9 4.9 0 1 0 -9.8 0zM1712.1 2692.2a4.9 4.9 0 1 0 9.8 0a4.9 4.9 0 1 0 -9.8 0zM1714.1 2719.4a4.9 4.9 0 1 0 9.8 0a4.9 4.9 0 1 0 -9.8 0zM1716.1 2748.6a4.9 4.9 0 1 0 9.8 0a4.9 4.9 0 1 0 -9.8 0zM1718.1 2779.1a4.9 4.9 0 1 0 9.8 0a4.9 4.9 0 1 0 -9.8 0zM1720.1 2814.6a4.9 4.9 0 1 0 9.8 0a4.9 4.9 0 1 0 -9.8 0zM1722.1 2832.2a4.9 4.9 0 1 0 9.8 0a4.9 4.9 0 1 0 -9.8 0zM1724.1 2813.2a4.9 4.9 0 1 0 9.8 0a4.9 4.9 0 1 0 -9.8 0zM1726.1 2782.8a4.9 4.9 0 1 0 9.8 0a4.9 4.9 0 1 0 -9.8 0zM1728.1 2756.7a4.9 4.9 0 1 0 9.8 0a4.9 4.9 0 1 0 -9.8 0zM1730.1 2729a4.9 4.9 0 1 0 9.8 0a4.9 4.9 0 1 0 -9.8 0zM1732.2 2699.4a4.9 4.9 0 1 0 9.8 0a4.9 4.9 0 1 0 -9.8 0zM1734.2 2663.7a4.9 4.9 0 1 0 9.8 0a4.9 4.9 0 1 0 -9.8 0zM1736.2 2645.2a4.9 4.9 0 1 0 9.8 0a4.9 4.9 0 1 0 -9.8 0zM1738.2 2633.3a4.9 4.9 0 1 0 9.8 0a4.9 4.9 0 1 0 -9.8 0zM1740.2 2623.7a4.9 4.9 0 1 0 9.8 0a4.9 4.9 0 1 0 -9.8 0zM1742.2 2613.8a4.9 4.9 0 1 0 9.8 0a4.9 4.9 0 1 0 -9.8 0zM1744.2 2604.3a4.9 4.9 0 1 0 9.8 0a4.9 4.9 0 1 0 -9.8 0zM1746.2 2595.6a4.9 4.9 0 1 0 9.8 0a4.9 4.9 0 1 0 -9.8 0zM1748.2 2587.7a4.9 4.9 0 1 0 9.8 0a4.9 4.9 0 1 0 -9.8 0zM1750.2 2580.8a4.9 4.9 0 1 0 9.8 0a4.9 4.9 0 1 0 -9.8 0zM1752.2 2574.6a4.9 4.9 0 1 0 9.8 0a4.9 4.9 0 1 0 -9.8 0zM1754.2 2568.9a4.9 4.9 0 1 0 9.8 0a4.9 4.9 0 1 0 -9.8 0zM1756.2 2563.6a4.9 4.9 0 1 0 9.8 0a4.9 4.9 0 1 0 -9.8 0zM1758.2 2558.6a4.9 4.9 0 1 0 9.8 0a4.9 4.9 0 1 0 -9.8 0zM1760.3 2553.8a4.9 4.9 0 1 0 9.8 0a4.9 4.9 0 1 0 -9.8 0zM1762.3 2549.2a4.9 4.9 0 1 0 9.8 0a4.9 4.9 0 1 0 -9.8 0zM1764.3 2544.6a4.9 4.9 0 1 0 9.8 0a4.9 4.9 0 1 0 -9.8 0zM1766.3 2540.1a4.9 4.9 0 1 0 9.8 0a4.9 4.9 0 1 0 -9.8 0zM1768.3 2535.6a4.9 4.9 0 1 0 9.8 0a4.9 4.9 0 1 0 -9.8 0zM1770.3 2531.3a4.9 4.9 0 1 0 9.8 0a4.9 4.9 0 1 0 -9.8 0zM1772.3 2527.2a4.9 4.9 0 1 0 9.8 0a4.9 4.9 0 1 0 -9.8 0zM1774.3 2523.4a4.9 4.9 0 1 0 9.8 0a4.9 4.9 0 1 0 -9.8 0zM1776.3 2519.8a4.9 4.9 0 1 0 9.8 0a4.9 4.9 0 1 0 -9.8 0zM1778.3 2516.7a4.9 4.9 0 1 0 9.8 0a4.9 4.9 0 1 0 -9.8 0zM1780.3 2513.9a4.9 4.9 0 1 0 9.8 0a4.9 4.9 0 1 0 -9.8 0zM1782.3 2511.4a4.9 4.9 0 1 0 9.8 0a4.9 4.9 0 1 0 -9.8 0zM1784.3 2509a4.9 4.9 0 1 0 9.8 0a4.9 4.9 0 1 0 -9.8 0zM1786.4 2506.7a4.9 4.9 0 1 0 9.8 0a4.9 4.9 0 1 0 -9.8 0zM1788.4 2504.5a4.9 4.9 0 1 0 9.8 0a4.9 4.9 0 1 0 -9.8 0zM1790.4 2502.5a4.9 4.9 0 1 0 9.8 0a4.9 4.9 0 1 0 -9.8 0zM1792.4 2500.6a4.9 4.9 0 1 0 9.8 0a4.9 4.9 0 1 0 -9.8 0zM1794.4 2498.8a4.9 4.9 0 1 0 9.8 0a4.9 4.9 0 1 0 -9.8 0zM1796.4 2497.1a4.9 4.9 0 1 0 9.8 0a4.9 4.9 0 1 0 -9.8 0zM1798.4 2495.6a4.9 4.9 0 1 0 9.8 0a4.9 4.9 0 1 0 -9.8 0zM1800.4 2494.2a4.9 4.9 0 1 0 9.8 0a4.9 4.9 0 1 0 -9.8 0zM1802.4 2492.9a4.9 4.9 0 1 0 9.8 0a4.9 4.9 0 1 0 -9.8 0zM1804.4 2491.7a4.9 4.9 0 1 0 9.8 0a4.9 4.9 0 1 0 -9.8 0zM1806.4 2490.6a4.9 4.9 0 1 0 9.8 0a4.9 4.9 0 1 0 -9.8 0zM1808.4 2489.5a4.9 4.9 0 1 0 9.8 0a4.9 4.9 0 1 0 -9.8 0zM1810.4 2488.5a4.9 4.9 0 1 0 9.8 0a4.9 4.9 0 1 0 -9.8 0zM1812.4 2487.5a4.9 4.9 0 1 0 9.8 0a4.9 4.9 0 1 0 -9.8 0zM1814.5 2486.6a4.9 4.9 0 1 0 9.8 0a4.9 4.9 0 1 0 -9.8 0zM1816.5 2485.7a4.9 4.9 0 1 0 9.8 0a4.9 4.9 0 1 0 -9.8 0zM1818.5 2484.8a4.9 4.9 0 1 0 9.8 0a4.9 4.9 0 1 0 -9.8 0zM1820.5 2484a4.9 4.9 0 1 0 9.8 0a4.9 4.9 0 1 0 -9.8 0zM1822.5 2483.3a4.9 4.9 0 1 0 9.8 0a4.9 4.9 0 1 0 -9.8 0zM1824.5 2482.5a4.9 4.9 0 1 0 9.8 0a4.9 4.9 0 1 0 -9.8 0zM1826.5 2481.8a4.9 4.9 0 1 0 9.8 0a4.9 4.9 0 1 0 -9.8 0zM1828.5 2481.2a4.9 4.9 0 1 0 9.8 0a4.9 4.9 0 1 0 -9.8 0zM1830.5 2480.5a4.9 4.9 0 1 0 9.8 0a4.9 4.9 0 1 0 -9.8 0zM1832.5 2479.9a4.9 4.9 0 1 0 9.8 0a4.9 4.9 0 1 0 -9.8 0zM1834.5 2479.3a4.9 4.9 0 1 0 9.8 0a4.9 4.9 0 1 0 -9.8 0zM1836.5 2478.7a4.9 4.9 0 1 0 9.8 0a4.9 4.9 0 1 0 -9.8 0zM1838.5 2478.1a4.9 4.9 0 1 0 9.8 0a4.9 4.9 0 1 0 -9.8 0zM1840.5 2477.6a4.9 4.9 0 1 0 9.8 0a4.9 4.9 0 1 0 -9.8 0zM1842.6 2477a4.9 4.9 0 1 0 9.8 0a4.9 4.9 0 1 0 -9.8 0zM1844.6 2476.4a4.9 4.9 0 1 0 9.8 0a4.9 4.9 0 1 0 -9.8 0zM1846.6 2475.9a4.9 4.9 0 1 0 9.8 0a4.9 4.9 0 1 0 -9.8 0zM1848.6 2475.4a4.9 4.9 0 1 0 9.8 0a4.9 4.9 0 1 0 -9.8 0zM1850.6 2474.9a4.9 4.9 0 1 0 9.8 0a4.9 4.9 0 1 0 -9.8 0zM1852.6 2474.4a4.9 4.9 0 1 0 9.8 0a4.9 4.9 0 1 0 -9.8 0zM1854.6 2474a4.9 4.9 0 1 0 9.8 0a4.9 4.9 0 1 0 -9.8 0zM1856.6 2473.6a4.9 4.9 0 1 0 9.8 0a4.9 4.9 0 1 0 -9.8 0zM1858.6 2473.2a4.9 4.9 0 1 0 9.8 0a4.9 4.9 0 1 0 -9.8 0zM1860.6 2472.9a4.9 4.9 0 1 0 9.8 0a4.9 4.9 0 1 0 -9.8 0zM1862.6 2472.6a4.9 4.9 0 1 0 9.8 0a4.9 4.9 0 1 0 -9.8 0zM1864.6 2472.3a4.9 4.9 0 1 0 9.8 0a4.9 4.9 0 1 0 -9.8 0zM1866.6 2472.1a4.9 4.9 0 1 0 9.8 0a4.9 4.9 0 1 0 -9.8 0zM1868.6 2471.9a4.9 4.9 0 1 0 9.8 0a4.9 4.9 0 1 0 -9.8 0zM1870.7 2471.7a4.9 4.9 0 1 0 9.8 0a4.9 4.9 0 1 0 -9.8 0zM1872.7 2471.5a4.9 4.9 0 1 0 9.8 0a4.9 4.9 0 1 0 -9.8 0zM1874.7 2471.3a4.9 4.9 0 1 0 9.8 0a4.9 4.9 0 1 0 -9.8 0zM1876.7 2471.2a4.9 4.9 0 1 0 9.8 0a4.9 4.9 0 1 0 -9.8 0zM1878.7 2471a4.9 4.9 0 1 0 9.8 0a4.9 4.9 0 1 0 -9.8 0zM1880.7 2470.9a4.9 4.9 0 1 0 9.8 0a4.9 4.9 0 1 0 -9.8 0zM1882.7 2470.7a4.9 4.9 0 1 0 9.8 0a4.9 4.9 0 1 0 -9.8 0zM1884.7 2470.6a4.9 4.9 0 1 0 9.8 0a4.9 4.9 0 1 0 -9.8 0zM1886.7 2470.4a4.9 4.9 0 1 0 9.8 0a4.9 4.9 0 1 0 -9.8 0zM1888.7 2470.3a4.9 4.9 0 1 0 9.8 0a4.9 4.9 0 1 0 -9.8 0zM1890.7 2470.2a4.9 4.9 0 1 0 9.8 0a4.9 4.9 0 1 0 -9.8 0zM1892.7 2470.1a4.9 4.9 0 1 0 9.8 0a4.9 4.9 0 1 0 -9.8 0zM1894.7 2470a4.9 4.9 0 1 0 9.8 0a4.9 4.9 0 1 0 -9.8 0zM1896.7 2469.9a4.9 4.9 0 1 0 9.8 0a4.9 4.9 0 1 0 -9.8 0zM1898.8 2469.9a4.9 4.9 0 1 0 9.8 0a4.9 4.9 0 1 0 -9.8 0zM1900.8 2469.8a4.9 4.9 0 1 0 9.8 0a4.9 4.9 0 1 0 -9.8 0zM1902.8 2469.8a4.9 4.9 0 1 0 9.8 0a4.9 4.9 0 1 0 -9.8 0zM1904.8 2469.8a4.9 4.9 0 1 0 9.8 0a4.9 4.9 0 1 0 -9.8 0zM1906.8 2469.8a4.9 4.9 0 1 0 9.8 0a4.9 4.9 0 1 0 -9.8 0zM1908.8 2469.8a4.9 4.9 0 1 0 9.8 0a4.9 4.9 0 1 0 -9.8 0zM1910.8 2469.9a4.9 4.9 0 1 0 9.8 0a4.9 4.9 0 1 0 -9.8 0zM1912.8 2469.9a4.9 4.9 0 1 0 9.8 0a4.9 4.9 0 1 0 -9.8 0zM1914.8 2470a4.9 4.9 0 1 0 9.8 0a4.9 4.9 0 1 0 -9.8 0zM1916.8 2470.1a4.9 4.9 0 1 0 9.8 0a4.9 4.9 0 1 0 -9.8 0zM1918.8 2470.2a4.9 4.9 0 1 0 9.8 0a4.9 4.9 0 1 0 -9.8 0zM1920.8 2470.3a4.9 4.9 0 1 0 9.8 0a4.9 4.9 0 1 0 -9.8 0zM1922.8 2470.4a4.9 4.9 0 1 0 9.8 0a4.9 4.9 0 1 0 -9.8 0zM1924.8 2470.5a4.9 4.9 0 1 0 9.8 0a4.9 4.9 0 1 0 -9.8 0zM1926.9 2470.6a4.9 4.9 0 1 0 9.8 0a4.9 4.9 0 1 0 -9.8 0zM1928.9 2470.8a4.9 4.9 0 1 0 9.8 0a4.9 4.9 0 1 0 -9.8 0zM1930.9 2470.9a4.9 4.9 0 1 0 9.8 0a4.9 4.9 0 1 0 -9.8 0zM1932.9 2471.1a4.9 4.9 0 1 0 9.8 0a4.9 4.9 0 1 0 -9.8 0zM1934.9 2471.3a4.9 4.9 0 1 0 9.8 0a4.9 4.9 0 1 0 -9.8 0zM1936.9 2471.4a4.9 4.9 0 1 0 9.8 0a4.9 4.9 0 1 0 -9.8 0zM1938.9 2471.6a4.9 4.9 0 1 0 9.8 0a4.9 4.9 0 1 0 -9.8 0zM1940.9 2471.8a4.9 4.9 0 1 0 9.8 0a4.9 4.9 0 1 0 -9.8 0zM1942.9 2472a4.9 4.9 0 1 0 9.8 0a4.9 4.9 0 1 0 -9.8 0zM1944.9 2472.2a4.9 4.9 0 1 0 9.8 0a4.9 4.9 0 1 0 -9.8 0zM1946.9 2472.4a4.9 4.9 0 1 0 9.8 0a4.9 4.9 0 1 0 -9.8 0zM1948.9 2472.7a4.9 4.9 0 1 0 9.8 0a4.9 4.9 0 1 0 -9.8 0zM1950.9 2473.1a4.9 4.9 0 1 0 9.8 0a4.9 4.9 0 1 0 -9.8 0zM1952.9 2473.4a4.9 4.9 0 1 0 9.8 0a4.9 4.9 0 1 0 -9.8 0zM1955 2473.8a4.9 4.9 0 1 0 9.8 0a4.9 4.9 0 1 0 -9.8 0zM1957 2474.3a4.9 4.9 0 1 0 9.8 0a4.9 4.9 0 1 0 -9.8 0zM1959 2474.7a4.9 4.9 0 1 0 9.8 0a4.9 4.9 0 1 0 -9.8 0zM1961 2475.2a4.9 4.9 0 1 0 9.8 0a4.9 4.9 0 1 0 -9.8 0zM1963 2475.7a4.9 4.9 0 1 0 9.8 0a4.9 4.9 0 1 0 -9.8 0zM1965 2476.2a4.9 4.9 0 1 0 9.8 0a4.9 4.9 0 1 0 -9.8 0zM1967 2476.8a4.9 4.9 0 1 0 9.8 0a4.9 4.9 0 1 0 -9.8 0zM1969 2477.3a4.9 4.9 0 1 0 9.8 0a4.9 4.9 0 1 0 -9.8 0zM1971 2477.9a4.9 4.9 0 1 0 9.8 0a4.9 4.9 0 1 0 -9.8 0zM1973 2478.5a4.9 4.9 0 1 0 9.8 0a4.9 4.9 0 1 0 -9.8 0z" fill="#ff0000"/>
<path d="M1576.5 2433.7 L1578.5 2433.8 L1580.5 2434.1 L1582.5 2434.5 L1584.5 2435 L1586.5 2435.6 L1588.5 2436.3 L1590.5 2437.1 L1592.5 2438 L1594.5 2438.9 L1596.6 2439.8 L1598.6 2440.8 L1600.6 2441.9 L1602.6 2442.9 L1604.6 2444.1 L1606.6 2445.6 L1608.6 2447.2 L1610.6 2448.9 L1612.6 2450.8 L1614.6 2452.9 L1616.6 2455 L1618.6 2457.3 L1620.6 2459.6 L1622.6 2462 L1624.7 2464.4 L1626.7 2466.9 L1628.7 2469.4 L1630.7 2472 L1632.7 2474.7 L1634.7 2477.6 L1636.7 2480.6 L1638.7 2483.9 L1640.7 2487.4 L1642.7 2491.3 L1644.7 2495.5 L1646.7 2500.1 L1648.7 2505.7 L1650.7 2512.7 L1652.8 2520.5 L1654.8 2529 L1656.8 2537.7 L1658.8 2546.6 L1660.8 2556.3 L1662.8 2566.8 L1664.8 2578.2 L1666.8 2590.8 L1668.8 2604.7 L1670.8 2620 L1672.8 2636.7 L1674.8 2655.3 L1676.8 2676.3 L1678.8 2700.1 L1680.9 2728 L1682.9 2767.5 L1684.9 2821.7 L1686.9 2827.3 L1688.9 2797.4 L1690.9 2761.7 L1692.9 2723.1 L1694.9 2689.2 L1696.9 2661.8 L1698.9 2640.1 L1700.9 2625.1 L1702.9 2613.3 L1704.9 2603.3 L1706.9 2594 L1709 2584.9 L1711 2576.4 L1713 2568.7 L1715 2562.1 L1717 2556 L1719 2550.3 L1721 2545 L1723 2540 L1725 2535.4 L1727 2531.1 L1729 2527.1 L1731 2523.3 L1733 2519.8 L1735 2516.5 L1737.1 2513.3 L1739.1 2510.3 L1741.1 2507.5 L1743.1 2504.8 L1745.1 2502.4 L1747.1 2500.1 L1749.1 2498 L1751.1 2495.9 L1753.1 2493.9 L1755.1 2492 L1757.1 2490.2 L1759.1 2488.4 L1761.1 2486.8 L1763.1 2485.3 L1765.2 2483.9 L1767.2 2482.7 L1769.2 2481.6 L1771.2 2480.6 L1773.2 2479.7 L1775.2 2478.8 L1777.2 2477.9 L1779.2 2477 L1781.2 2476.2 L1783.2 2475.5 L1785.2 2474.8 L1787.2 2474.1 L1789.2 2473.6 L1791.3 2473 L1793.3 2472.6 L1795.3 2472.2 L1797.3 2472 L1799.3 2471.7 L1801.3 2471.5 L1803.3 2471.3 L1805.3 2471.1 L1807.3 2470.9 L1809.3 2470.7 L1811.3 2470.5 L1813.3 2470.4 L1815.3 2470.2 L1817.3 2470.1 L1819.4 2470 L1821.4 2469.9 L1823.4 2469.8 L1825.4 2469.8 L1827.4 2469.8 L1829.4 2469.8 L1831.4 2469.9 L1833.4 2470 L1835.4 2470.1 L1837.4 2470.2 L1839.4 2470.4 L1841.4 2470.6 L1843.4 2470.8 L1845.4 2471.1 L1847.5 2471.3 L1849.5 2471.6 L1851.5 2471.9 L1853.5 2472.2 L1855.5 2472.6 L1857.5 2472.9 L1859.5 2473.2 L1861.5 2473.5 L1863.5 2473.9 L1865.5 2474.2 L1867.5 2474.6 L1869.5 2475 L1871.5 2475.4 L1873.5 2475.9 L1875.6 2476.4 L1877.6 2476.9 L1879.6 2477.5 L1881.6 2478 L1883.6 2478.6 L1885.6 2479.3 L1887.6 2479.9 L1889.6 2480.6 L1891.6 2481.3 L1893.6 2482 L1895.6 2482.8 L1897.6 2483.5 L1899.6 2484.3 L1901.6 2485.1 L1903.7 2485.9 L1905.7 2486.7 L1907.7 2487.5 L1909.7 2488.4 L1911.7 2489.2 L1913.7 2490.1 L1915.7 2491.1 L1917.7 2492.1 L1919.7 2493.2 L1921.7 2494.3 L1923.7 2495.4 L1925.7 2496.6 L1927.7 2497.8 L1929.7 2499.1 L1931.8 2500.3 L1933.8 2501.6 L1935.8 2502.8 L1937.8 2504.1 L1939.8 2505.4 L1941.8 2506.7 L1943.8 2508 L1945.8 2509.3 L1947.8 2510.7 L1949.8 2512.1 L1951.8 2513.5 L1953.8 2514.9 L1955.8 2516.4 L1957.8 2517.8 L1959.9 2519.3 L1961.9 2520.7 L1963.9 2522.2 L1965.9 2523.6 L1967.9 2525 L1969.9 2526.4 L1971.9 2527.7 L1973.9 2529.1 L1975.9 2530.5 L1977.9 2531.9" fill="none" stroke="#000090" stroke-width="1.3"/>
<path d="M1576.5 2428.7L1582 2438.7L1571 2438.7zM1578.5 2428.8L1584 2438.8L1573 2438.8zM1580.5 2429.1L1586 2439.1L1575 2439.1zM1582.5 2429.5L1588 2439.5L1577 2439.5zM1584.5 2430L1590 2440L1579 2440zM1586.5 2430.6L1592 2440.6L1581 2440.6zM1588.5 2431.3L1594 2441.3L1583 2441.3zM1590.5 2432.1L1596 2442.1L1585 2442.1zM1592.5 2433L1598 2443L1587 2443zM1594.5 2433.9L1600 2443.9L1589 2443.9zM1596.6 2434.8L1602.1 2444.8L1591.1 2444.8zM1598.6 2435.8L1604.1 2445.8L1593.1 2445.8zM1600.6 2436.9L1606.1 2446.9L1595.1 2446.9zM1602.6 2437.9L1608.1 2447.9L1597.1 2447.9zM1604.6 2439.1L1610.1 2449.1L1599.1 2449.1zM1606.6 2440.6L1612.1 2450.6L1601.1 2450.6zM1608.6 2442.2L1614.1 2452.2L1603.1 2452.2zM1610.6 2443.9L1616.1 2453.9L1605.1 2453.9zM1612.6 2445.8L1618.1 2455.8L1607.1 2455.8zM1614.6 2447.9L1620.1 2457.9L1609.1 2457.9zM1616.6 2450L1622.1 2460L1611.1 2460zM1618.6 2452.3L1624.1 2462.3L1613.1 2462.3zM1620.6 2454.6L1626.1 2464.6L1615.1 2464.6zM1622.6 2457L1628.1 2467L1617.1 2467zM1624.7 2459.4L1630.2 2469.4L1619.2 2469.4zM1626.7 2461.9L1632.2 2471.9L1621.2 2471.9zM1628.7 2464.4L1634.2 2474.4L1623.2 2474.4zM1630.7 2467L1636.2 2477L1625.2 2477zM1632.7 2469.7L1638.2 2479.7L1627.2 2479.7zM1634.7 2472.6L1640.2 2482.6L1629.2 2482.6zM1636.7 2475.6L1642.2 2485.6L1631.2 2485.6zM1638.7 2478.9L1644.2 2488.9L1633.2 2488.9zM1640.7 2482.4L1646.2 2492.4L1635.2 2492.4zM1642.7 2486.3L1648.2 2496.3L1637.2 2496.3zM1644.7 2490.5L1650.2 2500.5L1639.2 2500.5zM1646.7 2495.1L1652.2 2505.1L1641.2 2505.1zM1648.7 2500.7L1654.2 2510.7L1643.2 2510.7zM1650.7 2507.7L1656.2 2517.7L1645.2 2517.7zM1652.8 2515.5L1658.3 2525.5L1647.3 2525.5zM1654.8 2524L1660.3 2534L1649.3 2534zM1656.8 2532.7L1662.3 2542.7L1651.3 2542.7zM1658.8 2541.6L1664.3 2551.6L1653.3 2551.6zM1660.8 2551.3L1666.3 2561.3L1655.3 2561.3zM1662.8 2561.8L1668.3 2571.8L1657.3 2571.8zM1664.8 2573.2L1670.3 2583.2L1659.3 2583.2zM1666.8 2585.8L1672.3 2595.8L1661.3 2595.8zM1668.8 2599.7L1674.3 2609.7L1663.3 2609.7zM1670.8 2615L1676.3 2625L1665.3 2625zM1672.8 2631.7L1678.3 2641.7L1667.3 2641.7zM1674.8 2650.3L1680.3 2660.3L1669.3 2660.3zM1676.8 2671.3L1682.3 2681.3L1671.3 2681.3zM1678.8 2695.1L1684.3 2705.1L1673.3 2705.1zM1680.9 2723L1686.4 2733L1675.4 2733zM1682.9 2762.5L1688.4 2772.5L1677.4 2772.5zM1684.9 2816.7L1690.4 2826.7L1679.4 2826.7zM1686.9 2822.3L1692.4 2832.3L1681.4 2832.3zM1688.9 2792.4L1694.4 2802.4L1683.4 2802.4zM1690.9 2756.7L1696.4 2766.7L1685.4 2766.7zM1692.9 2718.1L1698.4 2728.1L1687.4 2728.1zM1694.9 2684.2L1700.4 2694.2L1689.4 2694.2zM1696.9 2656.8L1702.4 2666.8L1691.4 2666.8zM1698.9 2635.1L1704.4 2645.1L1693.4 2645.1zM1700.9 2620.1L1706.4 2630.1L1695.4 2630.1zM1702.9 2608.3L1708.4 2618.3L1697.4 2618.3zM1704.9 2598.3L1710.4 2608.3L1699.4 2608.3zM1706.9 2589L1712.4 2599L1701.4 2599zM1709 2579.9L1714.5 2589.9L1703.5 2589.9zM1711 2571.4L1716.5 2581.4L1705.5 2581.4zM1713 2563.7L1718.5 2573.7L1707.5 2573.7zM1715 2557.1L1720.5 2567.1L1709.5 2567.1zM1717 2551L1722.5 2561L1711.5 2561zM1719 2545.3L1724.5 2555.3L1713.5 2555.3zM1721 2540L1726.5 2550L1715.5 2550zM1723 2535L1728.5 2545L1717.5 2545zM1725 2530.4L1730.5 2540.4L1719.5 2540.4zM1727 2526.1L1732.5 2536.1L1721.5 2536.1zM1729 2522.1L1734.5 2532.1L1723.5 2532.1zM1731 2518.3L1736.5 2528.3L1725.5 2528.3zM1733 2514.8L1738.5 2524.8L1727.5 2524.8zM1735 2511.5L1740.5 2521.5L1729.5 2521.5zM1737.1 2508.3L1742.6 2518.3L1731.6 2518.3zM1739.1 2505.3L1744.6 2515.3L1733.6 2515.3zM1741.1 2502.5L1746.6 2512.5L1735.6 2512.5zM1743.1 2499.8L1748.6 2509.8L1737.6 2509.8zM1745.1 2497.4L1750.6 2507.4L1739.6 2507.4zM1747.1 2495.1L1752.6 2505.1L1741.6 2505.1zM1749.1 2493L1754.6 2503L1743.6 2503zM1751.1 2490.9L1756.6 2500.9L1745.6 2500.9zM1753.1 2488.9L1758.6 2498.9L1747.6 2498.9zM1755.1 2487L1760.6 2497L1749.6 2497zM1757.1 2485.2L1762.6 2495.2L1751.6 2495.2zM1759.1 2483.4L1764.6 2493.4L1753.6 2493.4zM1761.1 2481.8L1766.6 2491.8L1755.6 2491.8zM1763.1 2480.3L1768.6 2490.3L1757.6 2490.3zM1765.2 2478.9L1770.7 2488.9L1759.7 2488.9zM1767.2 2477.7L1772.7 2487.7L1761.7 2487.7zM1769.2 2476.6L1774.7 2486.6L1763.7 2486.6zM1771.2 2475.6L1776.7 2485.6L1765.7 2485.6zM1773.2 2474.7L1778.7 2484.7L1767.7 2484.7zM1775.2 2473.8L1780.7 2483.8L1769.7 2483.8zM1777.2 2472.9L1782.7 2482.9L1771.7 2482.9zM1779.2 2472L1784.7 2482L1773.7 2482zM1781.2 2471.2L1786.7 2481.2L1775.7 2481.2zM1783.2 2470.5L1788.7 2480.5L1777.7 2480.5zM1785.2 2469.8L1790.7 2479.8L1779.7 2479.8zM1787.2 2469.1L1792.7 2479.1L1781.7 2479.1zM1789.2 2468.6L1794.7 2478.6L1783.7 2478.6zM1791.3 2468L1796.8 2478L1785.8 2478zM1793.3 2467.6L1798.8 2477.6L1787.8 2477.6zM1795.3 2467.2L1800.8 2477.2L1789.8 2477.2zM1797.3 2467L1802.8 2477L1791.8 2477zM1799.3 2466.7L1804.8 2476.7L1793.8 2476.7zM1801.3 2466.5L1806.8 2476.5L1795.8 2476.5zM1803.3 2466.3L1808.8 2476.3L1797.8 2476.3zM1805.3 2466.1L1810.8 2476.1L1799.8 2476.1zM1807.3 2465.9L1812.8 2475.9L1801.8 2475.9zM1809.3 2465.7L1814.8 2475.7L1803.8 2475.7zM1811.3 2465.5L1816.8 2475.5L1805.8 2475.5zM1813.3 2465.4L1818.8 2475.4L1807.8 2475.4zM1815.3 2465.2L1820.8 2475.2L1809.8 2475.2zM1817.3 2465.1L1822.8 2475.1L1811.8 2475.1zM1819.4 2465L1824.9 2475L1813.9 2475zM1821.4 2464.9L1826.9 2474.9L1815.9 2474.9zM1823.4 2464.8L1828.9 2474.8L1817.9 2474.8zM1825.4 2464.8L1830.9 2474.8L1819.9 2474.8zM1827.4 2464.8L1832.9 2474.8L1821.9 2474.8zM1829.4 2464.8L1834.9 2474.8L1823.9 2474.8zM1831.4 2464.9L1836.9 2474.9L1825.9 2474.9zM1833.4 2465L1838.9 2475L1827.9 2475zM1835.4 2465.1L1840.9 2475.1L1829.9 2475.1zM1837.4 2465.2L1842.9 2475.2L1831.9 2475.2zM1839.4 2465.4L1844.9 2475.4L1833.9 2475.4zM1841.4 2465.6L1846.9 2475.6L1835.9 2475.6zM1843.4 2465.8L1848.9 2475.8L1837.9 2475.8zM1845.4 2466.1L1850.9 2476.1L1839.9 2476.1zM1847.5 2466.3L1853 2476.3L1842 2476.3zM1849.5 2466.6L1855 2476.6L1844 2476.6zM1851.5 2466.9L1857 2476.9L1846 2476.9zM1853.5 2467.2L1859 2477.2L1848 2477.2zM1855.5 2467.6L1861 2477.6L1850 2477.6zM1857.5 2467.9L1863 2477.9L1852 2477.9zM1859.5 2468.2L1865 2478.2L1854 2478.2zM1861.5 2468.5L1867 2478.5L1856 2478.5zM1863.5 2468.9L1869 2478.9L1858 2478.9zM1865.5 2469.2L1871 2479.2L1860 2479.2zM1867.5 2469.6L1873 2479.6L1862 2479.6zM1869.5 2470L1875 2480L1864 2480zM1871.5 2470.4L1877 2480.4L1866 2480.4zM1873.5 2470.9L1879 2480.9L1868 2480.9zM1875.6 2471.4L1881.1 2481.4L1870.1 2481.4zM1877.6 2471.9L1883.1 2481.9L1872.1 2481.9zM1879.6 2472.5L1885.1 2482.5L1874.1 2482.5zM1881.6 2473L1887.1 2483L1876.1 2483zM1883.6 2473.6L1889.1 2483.6L1878.1 2483.6zM1885.6 2474.3L1891.1 2484.3L1880.1 2484.3zM1887.6 2474.9L1893.1 2484.9L1882.1 2484.9zM1889.6 2475.6L1895.1 2485.6L1884.1 2485.6zM1891.6 2476.3L1897.1 2486.3L1886.1 2486.3zM1893.6 2477L1899.1 2487L1888.1 2487zM1895.6 2477.8L1901.1 2487.8L1890.1 2487.8zM1897.6 2478.5L1903.1 2488.5L1892.1 2488.5zM1899.6 2479.3L1905.1 2489.3L1894.1 2489.3zM1901.6 2480.1L1907.1 2490.1L1896.1 2490.1zM1903.7 2480.9L1909.2 2490.9L1898.2 2490.9zM1905.7 2481.7L1911.2 2491.7L1900.2 2491.7zM1907.7 2482.5L1913.2 2492.5L1902.2 2492.5zM1909.7 2483.4L1915.2 2493.4L1904.2 2493.4zM1911.7 2484.2L1917.2 2494.2L1906.2 2494.2zM1913.7 2485.1L1919.2 2495.1L1908.2 2495.1zM1915.7 2486.1L1921.2 2496.1L1910.2 2496.1zM1917.7 2487.1L1923.2 2497.1L1912.2 2497.1zM1919.7 2488.2L1925.2 2498.2L1914.2 2498.2zM1921.7 2489.3L1927.2 2499.3L1916.2 2499.3zM1923.7 2490.4L1929.2 2500.4L1918.2 2500.4zM1925.7 2491.6L1931.2 2501.6L1920.2 2501.6zM1927.7 2492.8L1933.2 2502.8L1922.2 2502.8zM1929.7 2494.1L1935.2 2504.1L1924.2 2504.1zM1931.8 2495.3L1937.3 2505.3L1926.3 2505.3zM1933.8 2496.6L1939.3 2506.6L1928.3 2506.6zM1935.8 2497.8L1941.3 2507.8L1930.3 2507.8zM1937.8 2499.1L1943.3 2509.1L1932.3 2509.1zM1939.8 2500.4L1945.3 2510.4L1934.3 2510.4zM1941.8 2501.7L1947.3 2511.7L1936.3 2511.7zM1943.8 2503L1949.3 2513L1938.3 2513zM1945.8 2504.3L1951.3 2514.3L1940.3 2514.3zM1947.8 2505.7L1953.3 2515.7L1942.3 2515.7zM1949.8 2507.1L1955.3 2517.1L1944.3 2517.1zM1951.8 2508.5L1957.3 2518.5L1946.3 2518.5zM1953.8 2509.9L1959.3 2519.9L1948.3 2519.9zM1955.8 2511.4L1961.3 2521.4L1950.3 2521.4zM1957.8 2512.8L1963.3 2522.8L1952.3 2522.8zM1959.9 2514.3L1965.4 2524.3L1954.4 2524.3zM1961.9 2515.7L1967.4 2525.7L1956.4 2525.7zM1963.9 2517.2L1969.4 2527.2L1958.4 2527.2zM1965.9 2518.6L1971.4 2528.6L1960.4 2528.6zM1967.9 2520L1973.4 2530L1962.4 2530zM1969.9 2521.4L1975.4 2531.4L1964.4 2531.4zM1971.9 2522.7L1977.4 2532.7L1966.4 2532.7zM1973.9 2524.1L1979.4 2534.1L1968.4 2534.1zM1975.9 2525.5L1981.4 2535.5L1970.4 2535.5zM1977.9 2526.9L1983.4 2536.9L1972.4 2536.9z" fill="#0000ff"/>
<path d="M1576.5 2433.7 L1578.5 2434.5 L1580.5 2435.4 L1582.5 2436.4 L1584.5 2437.5 L1586.5 2438.6 L1588.5 2439.9 L1590.5 2441.2 L1592.5 2442.6 L1594.5 2444 L1596.6 2445.6 L1598.6 2447.2 L1600.6 2449 L1602.6 2450.9 L1604.6 2453 L1606.6 2455.2 L1608.6 2457.6 L1610.6 2460.3 L1612.6 2463.3 L1614.6 2466.7 L1616.6 2470.6 L1618.6 2474.8 L1620.6 2479.4 L1622.6 2484.5 L1624.7 2490 L1626.7 2496.7 L1628.7 2504.7 L1630.7 2513.5 L1632.7 2523.1 L1634.7 2533 L1636.7 2544 L1638.7 2556.1 L1640.7 2568.8 L1642.7 2581.5 L1644.7 2593.8 L1646.7 2607.6 L1648.7 2624.8 L1650.7 2649 L1652.8 2677.6 L1654.8 2706.3 L1656.8 2734 L1658.8 2777.9 L1660.8 2833.7 L1662.8 2783.4 L1664.8 2721.6 L1666.8 2681.3 L1668.8 2649.4 L1670.8 2626.9 L1672.8 2609.5 L1674.8 2594.7 L1676.8 2581.3 L1678.8 2570.2 L1680.9 2562 L1682.9 2554.9 L1684.9 2548.6 L1686.9 2543 L1688.9 2537.8 L1690.9 2532.9 L1692.9 2528 L1694.9 2523.3 L1696.9 2518.8 L1698.9 2514.4 L1700.9 2510.3 L1702.9 2506.6 L1704.9 2503.2 L1706.9 2500.1 L1709 2497.3 L1711 2494.6 L1713 2492 L1715 2489.6 L1717 2487.4 L1719 2485.4 L1721 2483.6 L1723 2482.2 L1725 2481.1 L1727 2480.1 L1729 2479.2 L1731 2478.4 L1733 2477.6 L1735 2476.9 L1737.1 2476.3 L1739.1 2475.7 L1741.1 2475.2 L1743.1 2474.8 L1745.1 2474.4 L1747.1 2474.1 L1749.1 2473.9 L1751.1 2473.7 L1753.1 2473.4 L1755.1 2473.2 L1757.1 2473 L1759.1 2472.8 L1761.1 2472.7 L1763.1 2472.5 L1765.2 2472.4 L1767.2 2472.3 L1769.2 2472.2 L1771.2 2472.1 L1773.2 2472 L1775.2 2472 L1777.2 2472 L1779.2 2472 L1781.2 2472.1 L1783.2 2472.3 L1785.2 2472.6 L1787.2 2472.9 L1789.2 2473.3 L1791.3 2473.7 L1793.3 2474.2 L1795.3 2474.8 L1797.3 2475.4 L1799.3 2476 L1801.3 2476.6 L1803.3 2477.3 L1805.3 2478 L1807.3 2478.7 L1809.3 2479.4 L1811.3 2480.1 L1813.3 2480.8 L1815.3 2481.5 L1817.3 2482.3 L1819.4 2483.2 L1821.4 2484.2 L1823.4 2485.2 L1825.4 2486.3 L1827.4 2487.5 L1829.4 2488.7 L1831.4 2490 L1833.4 2491.3 L1835.4 2492.6 L1837.4 2494 L1839.4 2495.4 L1841.4 2496.8 L1843.4 2498.2 L1845.4 2499.6 L1847.5 2501 L1849.5 2502.4 L1851.5 2503.8 L1853.5 2505.1 L1855.5 2506.6 L1857.5 2508.1 L1859.5 2509.6 L1861.5 2511.3 L1863.5 2512.9 L1865.5 2514.5 L1867.5 2516.2 L1869.5 2517.7 L1871.5 2519.3 L1873.5 2520.8 L1875.6 2522.2 L1877.6 2523.5 L1879.6 2524.6 L1881.6 2525.7 L1883.6 2526.5 L1885.6 2527.4 L1887.6 2528.2 L1889.6 2529 L1891.6 2529.8 L1893.6 2530.5 L1895.6 2531.1 L1897.6 2531.7 L1899.6 2532.2 L1901.6 2532.7 L1903.7 2533.1 L1905.7 2533.4 L1907.7 2533.7 L1909.7 2534 L1911.7 2534.2 L1913.7 2534.4 L1915.7 2534.6 L1917.7 2534.7 L1919.7 2534.8 L1921.7 2534.7 L1923.7 2534.5 L1925.7 2534.1 L1927.7 2533.6 L1929.7 2533 L1931.8 2532.2 L1933.8 2531.4 L1935.8 2530.6 L1937.8 2529.7 L1939.8 2528.8 L1941.8 2528 L1943.8 2527.1 L1945.8 2526.2 L1947.8 2525.2 L1949.8 2524.1 L1951.8 2522.9 L1953.8 2521.7 L1955.8 2520.4 L1957.8 2519.2 L1959.9 2517.9 L1961.9 2516.7 L1963.9 2515.4 L1965.9 2514.3 L1967.9 2513.1 L1969.9 2512 L1971.9 2510.8 L1973.9 2509.7 L1975.9 2508.5 L1977.9 2507.3" fill="none" stroke="#e000c0" stroke-width="1.3"/>
<path d="M1576.5 2438.7L1582 2428.7L1571 2428.7zM1578.5 2439.5L1584 2429.5L1573 2429.5zM1580.5 2440.4L1586 2430.4L1575 2430.4zM1582.5 2441.4L1588 2431.4L1577 2431.4zM1584.5 2442.5L1590 2432.5L1579 2432.5zM1586.5 2443.6L1592 2433.6L1581 2433.6zM1588.5 2444.9L1594 2434.9L1583 2434.9zM1590.5 2446.2L1596 2436.2L1585 2436.2zM1592.5 2447.6L1598 2437.6L1587 2437.6zM1594.5 2449L1600 2439L1589 2439zM1596.6 2450.6L1602.1 2440.6L1591.1 2440.6zM1598.6 2452.2L1604.1 2442.2L1593.1 2442.2zM1600.6 2454L1606.1 2444L1595.1 2444zM1602.6 2455.9L1608.1 2445.9L1597.1 2445.9zM1604.6 2458L1610.1 2448L1599.1 2448zM1606.6 2460.2L1612.1 2450.2L1601.1 2450.2zM1608.6 2462.6L1614.1 2452.6L1603.1 2452.6zM1610.6 2465.3L1616.1 2455.3L1605.1 2455.3zM1612.6 2468.3L1618.1 2458.3L1607.1 2458.3zM1614.6 2471.7L1620.1 2461.7L1609.1 2461.7zM1616.6 2475.6L1622.1 2465.6L1611.1 2465.6zM1618.6 2479.8L1624.1 2469.8L1613.1 2469.8zM1620.6 2484.4L1626.1 2474.4L1615.1 2474.4zM1622.6 2489.5L1628.1 2479.5L1617.1 2479.5zM1624.7 2495L1630.2 2485L1619.2 2485zM1626.7 2501.7L1632.2 2491.7L1621.2 2491.7zM1628.7 2509.7L1634.2 2499.7L1623.2 2499.7zM1630.7 2518.5L1636.2 2508.5L1625.2 2508.5zM1632.7 2528.1L1638.2 2518.1L1627.2 2518.1zM1634.7 2538L1640.2 2528L1629.2 2528zM1636.7 2549L1642.2 2539L1631.2 2539zM1638.7 2561.1L1644.2 2551.1L1633.2 2551.1zM1640.7 2573.8L1646.2 2563.8L1635.2 2563.8zM1642.7 2586.5L1648.2 2576.5L1637.2 2576.5zM1644.7 2598.8L1650.2 2588.8L1639.2 2588.8zM1646.7 2612.6L1652.2 2602.6L1641.2 2602.6zM1648.7 2629.8L1654.2 2619.8L1643.2 2619.8zM1650.7 2654L1656.2 2644L1645.2 2644zM1652.8 2682.6L1658.3 2672.6L1647.3 2672.6zM1654.8 2711.3L1660.3 2701.3L1649.3 2701.3zM1656.8 2739L1662.3 2729L1651.3 2729zM1658.8 2782.9L1664.3 2772.9L1653.3 2772.9zM1660.8 2838.7L1666.3 2828.7L1655.3 2828.7zM1662.8 2788.4L1668.3 2778.4L1657.3 2778.4zM1664.8 2726.6L1670.3 2716.6L1659.3 2716.6zM1666.8 2686.3L1672.3 2676.3L1661.3 2676.3zM1668.8 2654.4L1674.3 2644.4L1663.3 2644.4zM1670.8 2631.9L1676.3 2621.9L1665.3 2621.9zM1672.8 2614.5L1678.3 2604.5L1667.3 2604.5zM1674.8 2599.7L1680.3 2589.7L1669.3 2589.7zM1676.8 2586.3L1682.3 2576.3L1671.3 2576.3zM1678.8 2575.2L1684.3 2565.2L1673.3 2565.2zM1680.9 2567L1686.4 2557L1675.4 2557zM1682.9 2559.9L1688.4 2549.9L1677.4 2549.9zM1684.9 2553.6L1690.4 2543.6L1679.4 2543.6zM1686.9 2548L1692.4 2538L1681.4 2538zM1688.9 2542.8L1694.4 2532.8L1683.4 2532.8zM1690.9 2537.9L1696.4 2527.9L1685.4 2527.9zM1692.9 2533L1698.4 2523L1687.4 2523zM1694.9 2528.3L1700.4 2518.3L1689.4 2518.3zM1696.9 2523.8L1702.4 2513.8L1691.4 2513.8zM1698.9 2519.4L1704.4 2509.4L1693.4 2509.4zM1700.9 2515.3L1706.4 2505.3L1695.4 2505.3zM1702.9 2511.6L1708.4 2501.6L1697.4 2501.6zM1704.9 2508.2L1710.4 2498.2L1699.4 2498.2zM1706.9 2505.1L1712.4 2495.1L1701.4 2495.1zM1709 2502.3L1714.5 2492.3L1703.5 2492.3zM1711 2499.6L1716.5 2489.6L1705.5 2489.6zM1713 2497L1718.5 2487L1707.5 2487zM1715 2494.6L1720.5 2484.6L1709.5 2484.6zM1717 2492.4L1722.5 2482.4L1711.5 2482.4zM1719 2490.4L1724.5 2480.4L1713.5 2480.4zM1721 2488.6L1726.5 2478.6L1715.5 2478.6zM1723 2487.2L1728.5 2477.2L1717.5 2477.2zM1725 2486.1L1730.5 2476.1L1719.5 2476.1zM1727 2485.1L1732.5 2475.1L1721.5 2475.1zM1729 2484.2L1734.5 2474.2L1723.5 2474.2zM1731 2483.4L1736.5 2473.4L1725.5 2473.4zM1733 2482.6L1738.5 2472.6L1727.5 2472.6zM1735 2481.9L1740.5 2471.9L1729.5 2471.9zM1737.1 2481.3L1742.6 2471.3L1731.6 2471.3zM1739.1 2480.7L1744.6 2470.7L1733.6 2470.7zM1741.1 2480.2L1746.6 2470.2L1735.6 2470.2zM1743.1 2479.8L1748.6 2469.8L1737.6 2469.8zM1745.1 2479.4L1750.6 2469.4L1739.6 2469.4zM1747.1 2479.1L1752.6 2469.1L1741.6 2469.1zM1749.1 2478.9L1754.6 2468.9L1743.6 2468.9zM1751.1 2478.7L1756.6 2468.7L1745.6 2468.7zM1753.1 2478.4L1758.6 2468.4L1747.6 2468.4zM1755.1 2478.2L1760.6 2468.2L1749.6 2468.2zM1757.1 2478L1762.6 2468L1751.6 2468zM1759.1 2477.8L1764.6 2467.8L1753.6 2467.8zM1761.1 2477.7L1766.6 2467.7L1755.6 2467.7zM1763.1 2477.5L1768.6 2467.5L1757.6 2467.5zM1765.2 2477.4L1770.7 2467.4L1759.7 2467.4zM1767.2 2477.3L1772.7 2467.3L1761.7 2467.3zM1769.2 2477.2L1774.7 2467.2L1763.7 2467.2zM1771.2 2477.1L1776.7 2467.1L1765.7 2467.1zM1773.2 2477L1778.7 2467L1767.7 2467zM1775.2 2477L1780.7 2467L1769.7 2467zM1777.2 2477L1782.7 2467L1771.7 2467zM1779.2 2477L1784.7 2467L1773.7 2467zM1781.2 2477.1L1786.7 2467.1L1775.7 2467.1zM1783.2 2477.3L1788.7 2467.3L1777.7 2467.3zM1785.2 2477.6L1790.7 2467.6L1779.7 2467.6zM1787.2 2477.9L1792.7 2467.9L1781.7 2467.9zM1789.2 2478.3L1794.7 2468.3L1783.7 2468.3zM1791.3 2478.7L1796.8 2468.7L1785.8 2468.7zM1793.3 2479.2L1798.8 2469.2L1787.8 2469.2zM1795.3 2479.8L1800.8 2469.8L1789.8 2469.8zM1797.3 2480.4L1802.8 2470.4L1791.8 2470.4zM1799.3 2481L1804.8 2471L1793.8 2471zM1801.3 2481.6L1806.8 2471.6L1795.8 2471.6zM1803.3 2482.3L1808.8 2472.3L1797.8 2472.3zM1805.3 2483L1810.8 2473L1799.8 2473zM1807.3 2483.7L1812.8 2473.7L1801.8 2473.7zM1809.3 2484.4L1814.8 2474.4L1803.8 2474.4zM1811.3 2485.1L1816.8 2475.1L1805.8 2475.1zM1813.3 2485.8L1818.8 2475.8L1807.8 2475.8zM1815.3 2486.5L1820.8 2476.5L1809.8 2476.5zM1817.3 2487.3L1822.8 2477.3L1811.8 2477.3zM1819.4 2488.2L1824.9 2478.2L1813.9 2478.2zM1821.4 2489.2L1826.9 2479.2L1815.9 2479.2zM1823.4 2490.2L1828.9 2480.2L1817.9 2480.2zM1825.4 2491.3L1830.9 2481.3L1819.9 2481.3zM1827.4 2492.5L1832.9 2482.5L1821.9 2482.5zM1829.4 2493.7L1834.9 2483.7L1823.9 2483.7zM1831.4 2495L1836.9 2485L1825.9 2485zM1833.4 2496.3L1838.9 2486.3L1827.9 2486.3zM1835.4 2497.6L1840.9 2487.6L1829.9 2487.6zM1837.4 2499L1842.9 2489L1831.9 2489zM1839.4 2500.4L1844.9 2490.4L1833.9 2490.4zM1841.4 2501.8L1846.9 2491.8L1835.9 2491.8zM1843.4 2503.2L1848.9 2493.2L1837.9 2493.2zM1845.4 2504.6L1850.9 2494.6L1839.9 2494.6zM1847.5 2506L1853 2496L1842 2496zM1849.5 2507.4L1855 2497.4L1844 2497.4zM1851.5 2508.8L1857 2498.8L1846 2498.8zM1853.5 2510.1L1859 2500.1L1848 2500.1zM1855.5 2511.6L1861 2501.6L1850 2501.6zM1857.5 2513.1L1863 2503.1L1852 2503.1zM1859.5 2514.6L1865 2504.6L1854 2504.6zM1861.5 2516.3L1867 2506.3L1856 2506.3zM1863.5 2517.9L1869 2507.9L1858 2507.9zM1865.5 2519.5L1871 2509.5L1860 2509.5zM1867.5 2521.2L1873 2511.2L1862 2511.2zM1869.5 2522.7L1875 2512.7L1864 2512.7zM1871.5 2524.3L1877 2514.3L1866 2514.3zM1873.5 2525.8L1879 2515.8L1868 2515.8zM1875.6 2527.2L1881.1 2517.2L1870.1 2517.2zM1877.6 2528.5L1883.1 2518.5L1872.1 2518.5zM1879.6 2529.6L1885.1 2519.6L1874.1 2519.6zM1881.6 2530.7L1887.1 2520.7L1876.1 2520.7zM1883.6 2531.5L1889.1 2521.5L1878.1 2521.5zM1885.6 2532.4L1891.1 2522.4L1880.1 2522.4zM1887.6 2533.2L1893.1 2523.2L1882.1 2523.2zM1889.6 2534L1895.1 2524L1884.1 2524zM1891.6 2534.8L1897.1 2524.8L1886.1 2524.8zM1893.6 2535.5L1899.1 2525.5L1888.1 2525.5zM1895.6 2536.1L1901.1 2526.1L1890.1 2526.1zM1897.6 2536.7L1903.1 2526.7L1892.1 2526.7zM1899.6 2537.2L1905.1 2527.2L1894.1 2527.2zM1901.6 2537.7L1907.1 2527.7L1896.1 2527.7zM1903.7 2538.1L1909.2 2528.1L1898.2 2528.1zM1905.7 2538.4L1911.2 2528.4L1900.2 2528.4zM1907.7 2538.7L1913.2 2528.7L1902.2 2528.7zM1909.7 2539L1915.2 2529L1904.2 2529zM1911.7 2539.2L1917.2 2529.2L1906.2 2529.2zM1913.7 2539.4L1919.2 2529.4L1908.2 2529.4zM1915.7 2539.6L1921.2 2529.6L1910.2 2529.6zM1917.7 2539.7L1923.2 2529.7L1912.2 2529.7zM1919.7 2539.8L1925.2 2529.8L1914.2 2529.8zM1921.7 2539.7L1927.2 2529.7L1916.2 2529.7zM1923.7 2539.5L1929.2 2529.5L1918.2 2529.5zM1925.7 2539.1L1931.2 2529.1L1920.2 2529.1zM1927.7 2538.6L1933.2 2528.6L1922.2 2528.6zM1929.7 2538L1935.2 2528L1924.2 2528zM1931.8 2537.2L1937.3 2527.2L1926.3 2527.2zM1933.8 2536.4L1939.3 2526.4L1928.3 2526.4zM1935.8 2535.6L1941.3 2525.6L1930.3 2525.6zM1937.8 2534.7L1943.3 2524.7L1932.3 2524.7zM1939.8 2533.8L1945.3 2523.8L1934.3 2523.8zM1941.8 2533L1947.3 2523L1936.3 2523zM1943.8 2532.1L1949.3 2522.1L1938.3 2522.1zM1945.8 2531.2L1951.3 2521.2L1940.3 2521.2zM1947.8 2530.2L1953.3 2520.2L1942.3 2520.2zM1949.8 2529.1L1955.3 2519.1L1944.3 2519.1zM1951.8 2527.9L1957.3 2517.9L1946.3 2517.9zM1953.8 2526.7L1959.3 2516.7L1948.3 2516.7zM1955.8 2525.4L1961.3 2515.4L1950.3 2515.4zM1957.8 2524.2L1963.3 2514.2L1952.3 2514.2zM1959.9 2522.9L1965.4 2512.9L1954.4 2512.9zM1961.9 2521.7L1967.4 2511.7L1956.4 2511.7zM1963.9 2520.4L1969.4 2510.4L1958.4 2510.4zM1965.9 2519.3L1971.4 2509.3L1960.4 2509.3zM1967.9 2518.1L1973.4 2508.1L1962.4 2508.1zM1969.9 2517L1975.4 2507L1964.4 2507zM1971.9 2515.8L1977.4 2505.8L1966.4 2505.8zM1973.9 2514.7L1979.4 2504.7L1968.4 2504.7zM1975.9 2513.5L1981.4 2503.5L1970.4 2503.5zM1977.9 2512.3L1983.4 2502.3L1972.4 2502.3z" fill="#ff00ff"/>
<path d="M1576.5 2436.6 L1578.5 2437.7 L1580.5 2439.2 L1582.5 2440.9 L1584.5 2442.9 L1586.5 2445.1 L1588.5 2447.5 L1590.5 2450.1 L1592.5 2453.1 L1594.5 2456.4 L1596.6 2460.1 L1598.6 2464.2 L1600.6 2468.6 L1602.6 2473.3 L1604.6 2478.3 L1606.6 2484.1 L1608.6 2490.6 L1610.6 2497.8 L1612.6 2505.7 L1614.6 2514.2 L1616.6 2523.2 L1618.6 2533.2 L1620.6 2544.7 L1622.6 2557.5 L1624.7 2571.7 L1626.7 2587.5 L1628.7 2607 L1630.7 2634.9 L1632.7 2672.2 L1634.7 2707.4 L1636.7 2736.9 L1638.7 2776.1 L1640.7 2827.9 L1642.7 2786.1 L1644.7 2727.7 L1646.7 2678.7 L1648.7 2643.4 L1650.7 2619.7 L1652.8 2601.1 L1654.8 2586.2 L1656.8 2573.6 L1658.8 2562.9 L1660.8 2553.6 L1662.8 2545 L1664.8 2536.8 L1666.8 2529.2 L1668.8 2522.4 L1670.8 2516.8 L1672.8 2512.5 L1674.8 2508.7 L1676.8 2505.3 L1678.8 2502.2 L1680.9 2499.5 L1682.9 2497 L1684.9 2494.8 L1686.9 2492.9 L1688.9 2491.1 L1690.9 2489.5 L1692.9 2487.9 L1694.9 2486.4 L1696.9 2485.1 L1698.9 2483.8 L1700.9 2482.6 L1702.9 2481.5 L1704.9 2480.5 L1706.9 2479.5 L1709 2478.7 L1711 2477.9 L1713 2477 L1715 2476.2 L1717 2475.5 L1719 2474.7 L1721 2474 L1723 2473.4 L1725 2472.9 L1727 2472.4 L1729 2472.1 L1731 2472 L1733 2472 L1735 2472 L1737.1 2472 L1739.1 2472 L1741.1 2472 L1743.1 2472 L1745.1 2472 L1747.1 2472 L1749.1 2472 L1751.1 2472 L1753.1 2472 L1755.1 2472 L1757.1 2472 L1759.1 2472 L1761.1 2472 L1763.1 2472.3 L1765.2 2472.7 L1767.2 2473.2 L1769.2 2473.9 L1771.2 2474.7 L1773.2 2475.5 L1775.2 2476.5 L1777.2 2477.5 L1779.2 2478.5 L1781.2 2479.6 L1783.2 2480.6 L1785.2 2481.6 L1787.2 2482.7 L1789.2 2483.9 L1791.3 2485.2 L1793.3 2486.7 L1795.3 2488.2 L1797.3 2489.7 L1799.3 2491.4 L1801.3 2493 L1803.3 2494.7 L1805.3 2496.4 L1807.3 2498.2 L1809.3 2499.9 L1811.3 2501.6 L1813.3 2503.2 L1815.3 2504.9 L1817.3 2506.5 L1819.4 2508.3 L1821.4 2510.1 L1823.4 2512 L1825.4 2513.8 L1827.4 2515.6 L1829.4 2517.4 L1831.4 2519 L1833.4 2520.6 L1835.4 2522 L1837.4 2523.2 L1839.4 2524.4 L1841.4 2525.4 L1843.4 2526.5 L1845.4 2527.5 L1847.5 2528.5 L1849.5 2529.3 L1851.5 2530.1 L1853.5 2530.8 L1855.5 2531.4 L1857.5 2531.9 L1859.5 2532.3 L1861.5 2532.7 L1863.5 2533 L1865.5 2533.3 L1867.5 2533.3 L1869.5 2533.2 L1871.5 2532.9 L1873.5 2532.4 L1875.6 2531.7 L1877.6 2530.9 L1879.6 2530 L1881.6 2529.1 L1883.6 2528 L1885.6 2527 L1887.6 2525.9 L1889.6 2524.9 L1891.6 2523.9 L1893.6 2522.7 L1895.6 2521.4 L1897.6 2520.1 L1899.6 2518.6 L1901.6 2517.1 L1903.7 2515.7 L1905.7 2514.2 L1907.7 2512.7 L1909.7 2511.4 L1911.7 2510.1 L1913.7 2508.9 L1915.7 2507.8 L1917.7 2506.6 L1919.7 2505.4 L1921.7 2504.2 L1923.7 2503.1 L1925.7 2502 L1927.7 2500.9 L1929.7 2499.9 L1931.8 2498.9 L1933.8 2498 L1935.8 2497.2 L1937.8 2496.5 L1939.8 2495.9 L1941.8 2495.4 L1943.8 2494.9 L1945.8 2494.4 L1947.8 2493.9 L1949.8 2493.5 L1951.8 2493 L1953.8 2492.6 L1955.8 2492.3 L1957.8 2492 L1959.9 2491.8 L1961.9 2491.6 L1963.9 2491.5 L1965.9 2491.5 L1967.9 2491.5 L1969.9 2491.7 L1971.9 2491.9 L1973.9 2492.2 L1975.9 2492.5 L1977.9 2492.9" fill="none" stroke="#006000" stroke-width="1.3"/>
<path d="M1576.5 2430.6L1581.9 2436.6L1576.5 2442.6L1571.1 2436.6zM1578.5 2431.7L1583.9 2437.7L1578.5 2443.7L1573.1 2437.7zM1580.5 2433.2L1585.9 2439.2L1580.5 2445.2L1575.1 2439.2zM1582.5 2434.9L1587.9 2440.9L1582.5 2446.9L1577.1 2440.9zM1584.5 2436.9L1589.9 2442.9L1584.5 2448.9L1579.1 2442.9zM1586.5 2439.1L1591.9 2445.1L1586.5 2451.1L1581.1 2445.1zM1588.5 2441.5L1593.9 2447.5L1588.5 2453.5L1583.1 2447.5zM1590.5 2444.1L1595.9 2450.1L1590.5 2456.1L1585.1 2450.1zM1592.5 2447.1L1597.9 2453.1L1592.5 2459.1L1587.1 2453.1zM1594.5 2450.4L1599.9 2456.4L1594.5 2462.4L1589.1 2456.4zM1596.6 2454.1L1602 2460.1L1596.6 2466.1L1591.2 2460.1zM1598.6 2458.2L1604 2464.2L1598.6 2470.2L1593.2 2464.2zM1600.6 2462.6L1606 2468.6L1600.6 2474.6L1595.2 2468.6zM1602.6 2467.3L1608 2473.3L1602.6 2479.3L1597.2 2473.3zM1604.6 2472.3L1610 2478.3L1604.6 2484.3L1599.2 2478.3zM1606.6 2478.1L1612 2484.1L1606.6 2490.1L1601.2 2484.1zM1608.6 2484.6L1614 2490.6L1608.6 2496.6L1603.2 2490.6zM1610.6 2491.8L1616 2497.8L1610.6 2503.8L1605.2 2497.8zM1612.6 2499.7L1618 2505.7L1612.6 2511.7L1607.2 2505.7zM1614.6 2508.2L1620 2514.2L1614.6 2520.2L1609.2 2514.2zM1616.6 2517.2L1622 2523.2L1616.6 2529.2L1611.2 2523.2zM1618.6 2527.2L1624 2533.2L1618.6 2539.2L1613.2 2533.2zM1620.6 2538.7L1626 2544.7L1620.6 2550.7L1615.2 2544.7zM1622.6 2551.5L1628 2557.5L1622.6 2563.5L1617.2 2557.5zM1624.7 2565.7L1630.1 2571.7L1624.7 2577.7L1619.3 2571.7zM1626.7 2581.5L1632.1 2587.5L1626.7 2593.5L1621.3 2587.5zM1628.7 2601L1634.1 2607L1628.7 2613L1623.3 2607zM1630.7 2628.9L1636.1 2634.9L1630.7 2640.9L1625.3 2634.9zM1632.7 2666.2L1638.1 2672.2L1632.7 2678.2L1627.3 2672.2zM1634.7 2701.4L1640.1 2707.4L1634.7 2713.4L1629.3 2707.4zM1636.7 2730.9L1642.1 2736.9L1636.7 2742.9L1631.3 2736.9zM1638.7 2770.1L1644.1 2776.1L1638.7 2782.1L1633.3 2776.1zM1640.7 2821.9L1646.1 2827.9L1640.7 2833.9L1635.3 2827.9zM1642.7 2780.1L1648.1 2786.1L1642.7 2792.1L1637.3 2786.1zM1644.7 2721.7L1650.1 2727.7L1644.7 2733.7L1639.3 2727.7zM1646.7 2672.7L1652.1 2678.7L1646.7 2684.7L1641.3 2678.7zM1648.7 2637.4L1654.1 2643.4L1648.7 2649.4L1643.3 2643.4zM1650.7 2613.7L1656.1 2619.7L1650.7 2625.7L1645.3 2619.7zM1652.8 2595.1L1658.2 2601.1L1652.8 2607.1L1647.4 2601.1zM1654.8 2580.2L1660.2 2586.2L1654.8 2592.2L1649.4 2586.2zM1656.8 2567.6L1662.2 2573.6L1656.8 2579.6L1651.4 2573.6zM1658.8 2556.9L1664.2 2562.9L1658.8 2568.9L1653.4 2562.9zM1660.8 2547.6L1666.2 2553.6L1660.8 2559.6L1655.4 2553.6zM1662.8 2539L1668.2 2545L1662.8 2551L1657.4 2545zM1664.8 2530.8L1670.2 2536.8L1664.8 2542.8L1659.4 2536.8zM1666.8 2523.2L1672.2 2529.2L1666.8 2535.2L1661.4 2529.2zM1668.8 2516.4L1674.2 2522.4L1668.8 2528.4L1663.4 2522.4zM1670.8 2510.8L1676.2 2516.8L1670.8 2522.8L1665.4 2516.8zM1672.8 2506.5L1678.2 2512.5L1672.8 2518.5L1667.4 2512.5zM1674.8 2502.7L1680.2 2508.7L1674.8 2514.7L1669.4 2508.7zM1676.8 2499.3L1682.2 2505.3L1676.8 2511.3L1671.4 2505.3zM1678.8 2496.2L1684.2 2502.2L1678.8 2508.2L1673.4 2502.2zM1680.9 2493.5L1686.3 2499.5L1680.9 2505.5L1675.5 2499.5zM1682.9 2491L1688.3 2497L1682.9 2503L1677.5 2497zM1684.9 2488.8L1690.3 2494.8L1684.9 2500.8L1679.5 2494.8zM1686.9 2486.9L1692.3 2492.9L1686.9 2498.9L1681.5 2492.9zM1688.9 2485.1L1694.3 2491.1L1688.9 2497.1L1683.5 2491.1zM1690.9 2483.5L1696.3 2489.5L1690.9 2495.5L1685.5 2489.5zM1692.9 2481.9L1698.3 2487.9L1692.9 2493.9L1687.5 2487.9zM1694.9 2480.4L1700.3 2486.4L1694.9 2492.4L1689.5 2486.4zM1696.9 2479.1L1702.3 2485.1L1696.9 2491.1L1691.5 2485.1zM1698.9 2477.8L1704.3 2483.8L1698.9 2489.8L1693.5 2483.8zM1700.9 2476.6L1706.3 2482.6L1700.9 2488.6L1695.5 2482.6zM1702.9 2475.5L1708.3 2481.5L1702.9 2487.5L1697.5 2481.5zM1704.9 2474.5L1710.3 2480.5L1704.9 2486.5L1699.5 2480.5zM1706.9 2473.5L1712.3 2479.5L1706.9 2485.5L1701.5 2479.5zM1709 2472.7L1714.4 2478.7L1709 2484.7L1703.6 2478.7zM1711 2471.9L1716.4 2477.9L1711 2483.9L1705.6 2477.9zM1713 2471L1718.4 2477L1713 2483L1707.6 2477zM1715 2470.2L1720.4 2476.2L1715 2482.2L1709.6 2476.2zM1717 2469.5L1722.4 2475.5L1717 2481.5L1711.6 2475.5zM1719 2468.7L1724.4 2474.7L1719 2480.7L1713.6 2474.7zM1721 2468L1726.4 2474L1721 2480L1715.6 2474zM1723 2467.4L1728.4 2473.4L1723 2479.4L1717.6 2473.4zM1725 2466.9L1730.4 2472.9L1725 2478.9L1719.6 2472.9zM1727 2466.4L1732.4 2472.4L1727 2478.4L1721.6 2472.4zM1729 2466.1L1734.4 2472.1L1729 2478.1L1723.6 2472.1zM1731 2466L1736.4 2472L1731 2478L1725.6 2472zM1733 2466L1738.4 2472L1733 2478L1727.6 2472zM1735 2466L1740.4 2472L1735 2478L1729.6 2472zM1737.1 2466L1742.5 2472L1737.1 2478L1731.7 2472zM1739.1 2466L1744.5 2472L1739.1 2478L1733.7 2472zM1741.1 2466L1746.5 2472L1741.1 2478L1735.7 2472zM1743.1 2466L1748.5 2472L1743.1 2478L1737.7 2472zM1745.1 2466L1750.5 2472L1745.1 2478L1739.7 2472zM1747.1 2466L1752.5 2472L1747.1 2478L1741.7 2472zM1749.1 2466L1754.5 2472L1749.1 2478L1743.7 2472zM1751.1 2466L1756.5 2472L1751.1 2478L1745.7 2472zM1753.1 2466L1758.5 2472L1753.1 2478L1747.7 2472zM1755.1 2466L1760.5 2472L1755.1 2478L1749.7 2472zM1757.1 2466L1762.5 2472L1757.1 2478L1751.7 2472zM1759.1 2466L1764.5 2472L1759.1 2478L1753.7 2472zM1761.1 2466L1766.5 2472L1761.1 2478L1755.7 2472zM1763.1 2466.3L1768.5 2472.3L1763.1 2478.3L1757.7 2472.3zM1765.2 2466.7L1770.6 2472.7L1765.2 2478.7L1759.8 2472.7zM1767.2 2467.2L1772.6 2473.2L1767.2 2479.2L1761.8 2473.2zM1769.2 2467.9L1774.6 2473.9L1769.2 2479.9L1763.8 2473.9zM1771.2 2468.7L1776.6 2474.7L1771.2 2480.7L1765.8 2474.7zM1773.2 2469.5L1778.6 2475.5L1773.2 2481.5L1767.8 2475.5zM1775.2 2470.5L1780.6 2476.5L1775.2 2482.5L1769.8 2476.5zM1777.2 2471.5L1782.6 2477.5L1777.2 2483.5L1771.8 2477.5zM1779.2 2472.5L1784.6 2478.5L1779.2 2484.5L1773.8 2478.5zM1781.2 2473.6L1786.6 2479.6L1781.2 2485.6L1775.8 2479.6zM1783.2 2474.6L1788.6 2480.6L1783.2 2486.6L1777.8 2480.6zM1785.2 2475.6L1790.6 2481.6L1785.2 2487.6L1779.8 2481.6zM1787.2 2476.7L1792.6 2482.7L1787.2 2488.7L1781.8 2482.7zM1789.2 2477.9L1794.6 2483.9L1789.2 2489.9L1783.8 2483.9zM1791.3 2479.2L1796.7 2485.2L1791.3 2491.2L1785.9 2485.2zM1793.3 2480.7L1798.7 2486.7L1793.3 2492.7L1787.9 2486.7zM1795.3 2482.2L1800.7 2488.2L1795.3 2494.2L1789.9 2488.2zM1797.3 2483.7L1802.7 2489.7L1797.3 2495.7L1791.9 2489.7zM1799.3 2485.4L1804.7 2491.4L1799.3 2497.4L1793.9 2491.4zM1801.3 2487L1806.7 2493L1801.3 2499L1795.9 2493zM1803.3 2488.7L1808.7 2494.7L1803.3 2500.7L1797.9 2494.7zM1805.3 2490.4L1810.7 2496.4L1805.3 2502.4L1799.9 2496.4zM1807.3 2492.2L1812.7 2498.2L1807.3 2504.2L1801.9 2498.2zM1809.3 2493.9L1814.7 2499.9L1809.3 2505.9L1803.9 2499.9zM1811.3 2495.6L1816.7 2501.6L1811.3 2507.6L1805.9 2501.6zM1813.3 2497.2L1818.7 2503.2L1813.3 2509.2L1807.9 2503.2zM1815.3 2498.9L1820.7 2504.9L1815.3 2510.9L1809.9 2504.9zM1817.3 2500.5L1822.7 2506.5L1817.3 2512.5L1811.9 2506.5zM1819.4 2502.3L1824.8 2508.3L1819.4 2514.3L1814 2508.3zM1821.4 2504.1L1826.8 2510.1L1821.4 2516.1L1816 2510.1zM1823.4 2506L1828.8 2512L1823.4 2518L1818 2512zM1825.4 2507.8L1830.8 2513.8L1825.4 2519.8L1820 2513.8zM1827.4 2509.6L1832.8 2515.6L1827.4 2521.6L1822 2515.6zM1829.4 2511.4L1834.8 2517.4L1829.4 2523.4L1824 2517.4zM1831.4 2513L1836.8 2519L1831.4 2525L1826 2519zM1833.4 2514.6L1838.8 2520.6L1833.4 2526.6L1828 2520.6zM1835.4 2516L1840.8 2522L1835.4 2528L1830 2522zM1837.4 2517.2L1842.8 2523.2L1837.4 2529.2L1832 2523.2zM1839.4 2518.4L1844.8 2524.4L1839.4 2530.4L1834 2524.4zM1841.4 2519.4L1846.8 2525.4L1841.4 2531.4L1836 2525.4zM1843.4 2520.5L1848.8 2526.5L1843.4 2532.5L1838 2526.5zM1845.4 2521.5L1850.8 2527.5L1845.4 2533.5L1840 2527.5zM1847.5 2522.5L1852.9 2528.5L1847.5 2534.5L1842.1 2528.5zM1849.5 2523.3L1854.9 2529.3L1849.5 2535.3L1844.1 2529.3zM1851.5 2524.1L1856.9 2530.1L1851.5 2536.1L1846.1 2530.1zM1853.5 2524.8L1858.9 2530.8L1853.5 2536.8L1848.1 2530.8zM1855.5 2525.4L1860.9 2531.4L1855.5 2537.4L1850.1 2531.4zM1857.5 2525.9L1862.9 2531.9L1857.5 2537.9L1852.1 2531.9zM1859.5 2526.3L1864.9 2532.3L1859.5 2538.3L1854.1 2532.3zM1861.5 2526.7L1866.9 2532.7L1861.5 2538.7L1856.1 2532.7zM1863.5 2527L1868.9 2533L1863.5 2539L1858.1 2533zM1865.5 2527.3L1870.9 2533.3L1865.5 2539.3L1860.1 2533.3zM1867.5 2527.3L1872.9 2533.3L1867.5 2539.3L1862.1 2533.3zM1869.5 2527.2L1874.9 2533.2L1869.5 2539.2L1864.1 2533.2zM1871.5 2526.9L1876.9 2532.9L1871.5 2538.9L1866.1 2532.9zM1873.5 2526.4L1878.9 2532.4L1873.5 2538.4L1868.1 2532.4zM1875.6 2525.7L1881 2531.7L1875.6 2537.7L1870.2 2531.7zM1877.6 2524.9L1883 2530.9L1877.6 2536.9L1872.2 2530.9zM1879.6 2524L1885 2530L1879.6 2536L1874.2 2530zM1881.6 2523.1L1887 2529.1L1881.6 2535.1L1876.2 2529.1zM1883.6 2522L1889 2528L1883.6 2534L1878.2 2528zM1885.6 2521L1891 2527L1885.6 2533L1880.2 2527zM1887.6 2519.9L1893 2525.9L1887.6 2531.9L1882.2 2525.9zM1889.6 2518.9L1895 2524.9L1889.6 2530.9L1884.2 2524.9zM1891.6 2517.9L1897 2523.9L1891.6 2529.9L1886.2 2523.9zM1893.6 2516.7L1899 2522.7L1893.6 2528.7L1888.2 2522.7zM1895.6 2515.4L1901 2521.4L1895.6 2527.4L1890.2 2521.4zM1897.6 2514.1L1903 2520.1L1897.6 2526.1L1892.2 2520.1zM1899.6 2512.6L1905 2518.6L1899.6 2524.6L1894.2 2518.6zM1901.6 2511.1L1907 2517.1L1901.6 2523.1L1896.2 2517.1zM1903.7 2509.7L1909.1 2515.7L1903.7 2521.7L1898.3 2515.7zM1905.7 2508.2L1911.1 2514.2L1905.7 2520.2L1900.3 2514.2zM1907.7 2506.7L1913.1 2512.7L1907.7 2518.7L1902.3 2512.7zM1909.7 2505.4L1915.1 2511.4L1909.7 2517.4L1904.3 2511.4zM1911.7 2504.1L1917.1 2510.1L1911.7 2516.1L1906.3 2510.1zM1913.7 2502.9L1919.1 2508.9L1913.7 2514.9L1908.3 2508.9zM1915.7 2501.8L1921.1 2507.8L1915.7 2513.8L1910.3 2507.8zM1917.7 2500.6L1923.1 2506.6L1917.7 2512.6L1912.3 2506.6zM1919.7 2499.4L1925.1 2505.4L1919.7 2511.4L1914.3 2505.4zM1921.7 2498.2L1927.1 2504.2L1921.7 2510.2L1916.3 2504.2zM1923.7 2497.1L1929.1 2503.1L1923.7 2509.1L1918.3 2503.1zM1925.7 2496L1931.1 2502L1925.7 2508L1920.3 2502zM1927.7 2494.9L1933.1 2500.9L1927.7 2506.9L1922.3 2500.9zM1929.7 2493.9L1935.1 2499.9L1929.7 2505.9L1924.3 2499.9zM1931.8 2492.9L1937.2 2498.9L1931.8 2504.9L1926.4 2498.9zM1933.8 2492L1939.2 2498L1933.8 2504L1928.4 2498zM1935.8 2491.2L1941.2 2497.2L1935.8 2503.2L1930.4 2497.2zM1937.8 2490.5L1943.2 2496.5L1937.8 2502.5L1932.4 2496.5zM1939.8 2489.9L1945.2 2495.9L1939.8 2501.9L1934.4 2495.9zM1941.8 2489.4L1947.2 2495.4L1941.8 2501.4L1936.4 2495.4zM1943.8 2488.9L1949.2 2494.9L1943.8 2500.9L1938.4 2494.9zM1945.8 2488.4L1951.2 2494.4L1945.8 2500.4L1940.4 2494.4zM1947.8 2487.9L1953.2 2493.9L1947.8 2499.9L1942.4 2493.9zM1949.8 2487.5L1955.2 2493.5L1949.8 2499.5L1944.4 2493.5zM1951.8 2487L1957.2 2493L1951.8 2499L1946.4 2493zM1953.8 2486.6L1959.2 2492.6L1953.8 2498.6L1948.4 2492.6zM1955.8 2486.3L1961.2 2492.3L1955.8 2498.3L1950.4 2492.3zM1957.8 2486L1963.2 2492L1957.8 2498L1952.4 2492zM1959.9 2485.8L1965.3 2491.8L1959.9 2497.8L1954.5 2491.8zM1961.9 2485.6L1967.3 2491.6L1961.9 2497.6L1956.5 2491.6zM1963.9 2485.5L1969.3 2491.5L1963.9 2497.5L1958.5 2491.5zM1965.9 2485.5L1971.3 2491.5L1965.9 2497.5L1960.5 2491.5zM1967.9 2485.5L1973.3 2491.5L1967.9 2497.5L1962.5 2491.5zM1969.9 2485.7L1975.3 2491.7L1969.9 2497.7L1964.5 2491.7zM1971.9 2485.9L1977.3 2491.9L1971.9 2497.9L1966.5 2491.9zM1973.9 2486.2L1979.3 2492.2L1973.9 2498.2L1968.5 2492.2zM1975.9 2486.5L1981.3 2492.5L1975.9 2498.5L1970.5 2492.5zM1977.9 2486.9L1983.3 2492.9L1977.9 2498.9L1972.5 2492.9z" fill="#008000"/>
<path d="M1576.5 2440.9 L1578.5 2443.4 L1580.5 2446.4 L1582.5 2450 L1584.5 2453.9 L1586.5 2458.2 L1588.5 2463 L1590.5 2468.4 L1592.5 2474.5 L1594.5 2481.3 L1596.6 2488.8 L1598.6 2497.6 L1600.6 2509 L1602.6 2521.5 L1604.6 2533.1 L1606.6 2542.2 L1608.6 2551 L1610.6 2562.9 L1612.6 2585.4 L1614.6 2619.6 L1616.6 2642.8 L1618.6 2666.4 L1620.6 2699.3 L1622.6 2736.3 L1624.7 2779.8 L1626.7 2832.2 L1628.7 2741.9 L1630.7 2683.1 L1632.7 2646.2 L1634.7 2618.7 L1636.7 2596.3 L1638.7 2578.8 L1640.7 2565.6 L1642.7 2554.8 L1644.7 2545.7 L1646.7 2537.7 L1648.7 2530.2 L1650.7 2523.3 L1652.8 2517.1 L1654.8 2511.7 L1656.8 2507.3 L1658.8 2503.7 L1660.8 2500.3 L1662.8 2497.3 L1664.8 2494.5 L1666.8 2492.1 L1668.8 2489.9 L1670.8 2488 L1672.8 2486.3 L1674.8 2484.7 L1676.8 2483.2 L1678.8 2481.8 L1680.9 2480.5 L1682.9 2479.3 L1684.9 2478.1 L1686.9 2477.1 L1688.9 2476.1 L1690.9 2475.3 L1692.9 2474.6 L1694.9 2474 L1696.9 2473.4 L1698.9 2472.8 L1700.9 2472.3 L1702.9 2471.8 L1704.9 2471.3 L1706.9 2470.9 L1709 2470.5 L1711 2470.2 L1713 2470 L1715 2469.8 L1717 2469.8 L1719 2469.8 L1721 2470 L1723 2470.2 L1725 2470.5 L1727 2470.9 L1729 2471.3 L1731 2471.8 L1733 2472.3 L1735 2472.8 L1737.1 2473.4 L1739.1 2474 L1741.1 2474.6 L1743.1 2475.4 L1745.1 2476.4 L1747.1 2477.5 L1749.1 2478.8 L1751.1 2480.1 L1753.1 2481.6 L1755.1 2483.1 L1757.1 2484.6 L1759.1 2486.2 L1761.1 2487.8 L1763.1 2489.4 L1765.2 2491.2 L1767.2 2493.1 L1769.2 2495.1 L1771.2 2497.2 L1773.2 2499.4 L1775.2 2501.7 L1777.2 2503.9 L1779.2 2506.1 L1781.2 2508.2 L1783.2 2510.2 L1785.2 2512.1 L1787.2 2514.1 L1789.2 2516 L1791.3 2518 L1793.3 2520 L1795.3 2521.8 L1797.3 2523.6 L1799.3 2525.2 L1801.3 2526.7 L1803.3 2527.9 L1805.3 2528.9 L1807.3 2529.9 L1809.3 2530.9 L1811.3 2531.9 L1813.3 2532.7 L1815.3 2533.5 L1817.3 2534.1 L1819.4 2534.5 L1821.4 2534.7 L1823.4 2534.8 L1825.4 2534.6 L1827.4 2534.2 L1829.4 2533.6 L1831.4 2533 L1833.4 2532.2 L1835.4 2531.4 L1837.4 2530.5 L1839.4 2529.6 L1841.4 2528.7 L1843.4 2527.8 L1845.4 2526.8 L1847.5 2525.6 L1849.5 2524.3 L1851.5 2522.8 L1853.5 2521.4 L1855.5 2519.9 L1857.5 2518.3 L1859.5 2516.9 L1861.5 2515.4 L1863.5 2514.1 L1865.5 2512.8 L1867.5 2511.6 L1869.5 2510.3 L1871.5 2509.1 L1873.5 2507.8 L1875.6 2506.6 L1877.6 2505.4 L1879.6 2504.3 L1881.6 2503.2 L1883.6 2502.1 L1885.6 2501.2 L1887.6 2500.3 L1889.6 2499.6 L1891.6 2498.9 L1893.6 2498.2 L1895.6 2497.6 L1897.6 2496.9 L1899.6 2496.3 L1901.6 2495.6 L1903.7 2495.1 L1905.7 2494.6 L1907.7 2494.1 L1909.7 2493.7 L1911.7 2493.4 L1913.7 2493.1 L1915.7 2493 L1917.7 2492.9 L1919.7 2492.9 L1921.7 2492.9 L1923.7 2492.9 L1925.7 2492.9 L1927.7 2492.9 L1929.7 2492.9 L1931.8 2492.9 L1933.8 2492.9 L1935.8 2492.9 L1937.8 2492.9 L1939.8 2492.9 L1941.8 2492.9 L1943.8 2492.9 L1945.8 2493.1 L1947.8 2493.4 L1949.8 2493.8 L1951.8 2494.4 L1953.8 2495 L1955.8 2495.7 L1957.8 2496.4 L1959.9 2497.2 L1961.9 2498 L1963.9 2498.8 L1965.9 2499.6 L1967.9 2500.4 L1969.9 2501.4 L1971.9 2502.4 L1973.9 2503.5 L1975.9 2504.7 L1977.9 2505.9" fill="none" stroke="#000070" stroke-width="1.3"/>
<path d="M1571.5 2440.9L1581.5 2435.5L1581.5 2446.3zM1573.5 2443.4L1583.5 2438L1583.5 2448.8zM1575.5 2446.4L1585.5 2441L1585.5 2451.8zM1577.5 2450L1587.5 2444.6L1587.5 2455.4zM1579.5 2453.9L1589.5 2448.5L1589.5 2459.3zM1581.5 2458.2L1591.5 2452.8L1591.5 2463.6zM1583.5 2463L1593.5 2457.6L1593.5 2468.4zM1585.5 2468.4L1595.5 2463L1595.5 2473.8zM1587.5 2474.5L1597.5 2469.1L1597.5 2479.9zM1589.5 2481.3L1599.5 2475.9L1599.5 2486.7zM1591.6 2488.8L1601.6 2483.4L1601.6 2494.2zM1593.6 2497.6L1603.6 2492.2L1603.6 2503zM1595.6 2509L1605.6 2503.6L1605.6 2514.4zM1597.6 2521.5L1607.6 2516.1L1607.6 2526.9zM1599.6 2533.1L1609.6 2527.7L1609.6 2538.5zM1601.6 2542.2L1611.6 2536.8L1611.6 2547.6zM1603.6 2551L1613.6 2545.6L1613.6 2556.4zM1605.6 2562.9L1615.6 2557.5L1615.6 2568.3zM1607.6 2585.4L1617.6 2580L1617.6 2590.8zM1609.6 2619.6L1619.6 2614.2L1619.6 2625zM1611.6 2642.8L1621.6 2637.4L1621.6 2648.2zM1613.6 2666.4L1623.6 2661L1623.6 2671.8zM1615.6 2699.3L1625.6 2693.9L1625.6 2704.7zM1617.6 2736.3L1627.6 2730.9L1627.6 2741.7zM1619.7 2779.8L1629.7 2774.4L1629.7 2785.2zM1621.7 2832.2L1631.7 2826.8L1631.7 2837.6zM1623.7 2741.9L1633.7 2736.5L1633.7 2747.3zM1625.7 2683.1L1635.7 2677.7L1635.7 2688.5zM1627.7 2646.2L1637.7 2640.8L1637.7 2651.6zM1629.7 2618.7L1639.7 2613.3L1639.7 2624.1zM1631.7 2596.3L1641.7 2590.9L1641.7 2601.7zM1633.7 2578.8L1643.7 2573.4L1643.7 2584.2zM1635.7 2565.6L1645.7 2560.2L1645.7 2571zM1637.7 2554.8L1647.7 2549.4L1647.7 2560.2zM1639.7 2545.7L1649.7 2540.3L1649.7 2551.1zM1641.7 2537.7L1651.7 2532.3L1651.7 2543.1zM1643.7 2530.2L1653.7 2524.8L1653.7 2535.6zM1645.7 2523.3L1655.7 2517.9L1655.7 2528.7zM1647.8 2517.1L1657.8 2511.7L1657.8 2522.5zM1649.8 2511.7L1659.8 2506.3L1659.8 2517.1zM1651.8 2507.3L1661.8 2501.9L1661.8 2512.7zM1653.8 2503.7L1663.8 2498.3L1663.8 2509.1zM1655.8 2500.3L1665.8 2494.9L1665.8 2505.7zM1657.8 2497.3L1667.8 2491.9L1667.8 2502.7zM1659.8 2494.5L1669.8 2489.1L1669.8 2499.9zM1661.8 2492.1L1671.8 2486.7L1671.8 2497.5zM1663.8 2489.9L1673.8 2484.5L1673.8 2495.3zM1665.8 2488L1675.8 2482.6L1675.8 2493.4zM1667.8 2486.3L1677.8 2480.9L1677.8 2491.7zM1669.8 2484.7L1679.8 2479.3L1679.8 2490.1zM1671.8 2483.2L1681.8 2477.8L1681.8 2488.6zM1673.8 2481.8L1683.8 2476.4L1683.8 2487.2zM1675.9 2480.5L1685.9 2475.1L1685.9 2485.9zM1677.9 2479.3L1687.9 2473.9L1687.9 2484.7zM1679.9 2478.1L1689.9 2472.7L1689.9 2483.5zM1681.9 2477.1L1691.9 2471.7L1691.9 2482.5zM1683.9 2476.1L1693.9 2470.7L1693.9 2481.5zM1685.9 2475.3L1695.9 2469.9L1695.9 2480.7zM1687.9 2474.6L1697.9 2469.2L1697.9 2480zM1689.9 2474L1699.9 2468.6L1699.9 2479.4zM1691.9 2473.4L1701.9 2468L1701.9 2478.8zM1693.9 2472.8L1703.9 2467.4L1703.9 2478.2zM1695.9 2472.3L1705.9 2466.9L1705.9 2477.7zM1697.9 2471.8L1707.9 2466.4L1707.9 2477.2zM1699.9 2471.3L1709.9 2465.9L1709.9 2476.7zM1701.9 2470.9L1711.9 2465.5L1711.9 2476.3zM1704 2470.5L1714 2465.1L1714 2475.9zM1706 2470.2L1716 2464.8L1716 2475.6zM1708 2470L1718 2464.6L1718 2475.4zM1710 2469.8L1720 2464.4L1720 2475.2zM1712 2469.8L1722 2464.4L1722 2475.2zM1714 2469.8L1724 2464.4L1724 2475.2zM1716 2470L1726 2464.6L1726 2475.4zM1718 2470.2L1728 2464.8L1728 2475.6zM1720 2470.5L1730 2465.1L1730 2475.9zM1722 2470.9L1732 2465.5L1732 2476.3zM1724 2471.3L1734 2465.9L1734 2476.7zM1726 2471.8L1736 2466.4L1736 2477.2zM1728 2472.3L1738 2466.9L1738 2477.7zM1730 2472.8L1740 2467.4L1740 2478.2zM1732.1 2473.4L1742.1 2468L1742.1 2478.8zM1734.1 2474L1744.1 2468.6L1744.1 2479.4zM1736.1 2474.6L1746.1 2469.2L1746.1 2480zM1738.1 2475.4L1748.1 2470L1748.1 2480.8zM1740.1 2476.4L1750.1 2471L1750.1 2481.8zM1742.1 2477.5L1752.1 2472.1L1752.1 2482.9zM1744.1 2478.8L1754.1 2473.4L1754.1 2484.2zM1746.1 2480.1L1756.1 2474.7L1756.1 2485.5zM1748.1 2481.6L1758.1 2476.2L1758.1 2487zM1750.1 2483.1L1760.1 2477.7L1760.1 2488.5zM1752.1 2484.6L1762.1 2479.2L1762.1 2490zM1754.1 2486.2L1764.1 2480.8L1764.1 2491.6zM1756.1 2487.8L1766.1 2482.4L1766.1 2493.2zM1758.1 2489.4L1768.1 2484L1768.1 2494.8zM1760.2 2491.2L1770.2 2485.8L1770.2 2496.6zM1762.2 2493.1L1772.2 2487.7L1772.2 2498.5zM1764.2 2495.1L1774.2 2489.7L1774.2 2500.5zM1766.2 2497.2L1776.2 2491.8L1776.2 2502.6zM1768.2 2499.4L1778.2 2494L1778.2 2504.8zM1770.2 2501.7L1780.2 2496.3L1780.2 2507.1zM1772.2 2503.9L1782.2 2498.5L1782.2 2509.3zM1774.2 2506.1L1784.2 2500.7L1784.2 2511.5zM1776.2 2508.2L1786.2 2502.8L1786.2 2513.6zM1778.2 2510.2L1788.2 2504.8L1788.2 2515.6zM1780.2 2512.1L1790.2 2506.7L1790.2 2517.5zM1782.2 2514.1L1792.2 2508.7L1792.2 2519.5zM1784.2 2516L1794.2 2510.6L1794.2 2521.4zM1786.3 2518L1796.3 2512.6L1796.3 2523.4zM1788.3 2520L1798.3 2514.6L1798.3 2525.4zM1790.3 2521.8L1800.3 2516.4L1800.3 2527.2zM1792.3 2523.6L1802.3 2518.2L1802.3 2529zM1794.3 2525.2L1804.3 2519.8L1804.3 2530.6zM1796.3 2526.7L1806.3 2521.3L1806.3 2532.1zM1798.3 2527.9L1808.3 2522.5L1808.3 2533.3zM1800.3 2528.9L1810.3 2523.5L1810.3 2534.3zM1802.3 2529.9L1812.3 2524.5L1812.3 2535.3zM1804.3 2530.9L1814.3 2525.5L1814.3 2536.3zM1806.3 2531.9L1816.3 2526.5L1816.3 2537.3zM1808.3 2532.7L1818.3 2527.3L1818.3 2538.1zM1810.3 2533.5L1820.3 2528.1L1820.3 2538.9zM1812.3 2534.1L1822.3 2528.7L1822.3 2539.5zM1814.4 2534.5L1824.4 2529.1L1824.4 2539.9zM1816.4 2534.7L1826.4 2529.3L1826.4 2540.1zM1818.4 2534.8L1828.4 2529.4L1828.4 2540.2zM1820.4 2534.6L1830.4 2529.2L1830.4 2540zM1822.4 2534.2L1832.4 2528.8L1832.4 2539.6zM1824.4 2533.6L1834.4 2528.2L1834.4 2539zM1826.4 2533L1836.4 2527.6L1836.4 2538.4zM1828.4 2532.2L1838.4 2526.8L1838.4 2537.6zM1830.4 2531.4L1840.4 2526L1840.4 2536.8zM1832.4 2530.5L1842.4 2525.1L1842.4 2535.9zM1834.4 2529.6L1844.4 2524.2L1844.4 2535zM1836.4 2528.7L1846.4 2523.3L1846.4 2534.1zM1838.4 2527.8L1848.4 2522.4L1848.4 2533.2zM1840.4 2526.8L1850.4 2521.4L1850.4 2532.2zM1842.5 2525.6L1852.5 2520.2L1852.5 2531zM1844.5 2524.3L1854.5 2518.9L1854.5 2529.7zM1846.5 2522.8L1856.5 2517.4L1856.5 2528.2zM1848.5 2521.4L1858.5 2516L1858.5 2526.8zM1850.5 2519.9L1860.5 2514.5L1860.5 2525.3zM1852.5 2518.3L1862.5 2512.9L1862.5 2523.7zM1854.5 2516.9L1864.5 2511.5L1864.5 2522.3zM1856.5 2515.4L1866.5 2510L1866.5 2520.8zM1858.5 2514.1L1868.5 2508.7L1868.5 2519.5zM1860.5 2512.8L1870.5 2507.4L1870.5 2518.2zM1862.5 2511.6L1872.5 2506.2L1872.5 2517zM1864.5 2510.3L1874.5 2504.9L1874.5 2515.7zM1866.5 2509.1L1876.5 2503.7L1876.5 2514.5zM1868.5 2507.8L1878.5 2502.4L1878.5 2513.2zM1870.6 2506.6L1880.6 2501.2L1880.6 2512zM1872.6 2505.4L1882.6 2500L1882.6 2510.8zM1874.6 2504.3L1884.6 2498.9L1884.6 2509.7zM1876.6 2503.2L1886.6 2497.8L1886.6 2508.6zM1878.6 2502.1L1888.6 2496.7L1888.6 2507.5zM1880.6 2501.2L1890.6 2495.8L1890.6 2506.6zM1882.6 2500.3L1892.6 2494.9L1892.6 2505.7zM1884.6 2499.6L1894.6 2494.2L1894.6 2505zM1886.6 2498.9L1896.6 2493.5L1896.6 2504.3zM1888.6 2498.2L1898.6 2492.8L1898.6 2503.6zM1890.6 2497.6L1900.6 2492.2L1900.6 2503zM1892.6 2496.9L1902.6 2491.5L1902.6 2502.3zM1894.6 2496.3L1904.6 2490.9L1904.6 2501.7zM1896.6 2495.6L1906.6 2490.2L1906.6 2501zM1898.7 2495.1L1908.7 2489.7L1908.7 2500.5zM1900.7 2494.6L1910.7 2489.2L1910.7 2500zM1902.7 2494.1L1912.7 2488.7L1912.7 2499.5zM1904.7 2493.7L1914.7 2488.3L1914.7 2499.1zM1906.7 2493.4L1916.7 2488L1916.7 2498.8zM1908.7 2493.1L1918.7 2487.7L1918.7 2498.5zM1910.7 2493L1920.7 2487.6L1920.7 2498.4zM1912.7 2492.9L1922.7 2487.5L1922.7 2498.3zM1914.7 2492.9L1924.7 2487.5L1924.7 2498.3zM1916.7 2492.9L1926.7 2487.5L1926.7 2498.3zM1918.7 2492.9L1928.7 2487.5L1928.7 2498.3zM1920.7 2492.9L1930.7 2487.5L1930.7 2498.3zM1922.7 2492.9L1932.7 2487.5L1932.7 2498.3zM1924.7 2492.9L1934.7 2487.5L1934.7 2498.3zM1926.8 2492.9L1936.8 2487.5L1936.8 2498.3zM1928.8 2492.9L1938.8 2487.5L1938.8 2498.3zM1930.8 2492.9L1940.8 2487.5L1940.8 2498.3zM1932.8 2492.9L1942.8 2487.5L1942.8 2498.3zM1934.8 2492.9L1944.8 2487.5L1944.8 2498.3zM1936.8 2492.9L1946.8 2487.5L1946.8 2498.3zM1938.8 2492.9L1948.8 2487.5L1948.8 2498.3zM1940.8 2493.1L1950.8 2487.7L1950.8 2498.5zM1942.8 2493.4L1952.8 2488L1952.8 2498.8zM1944.8 2493.8L1954.8 2488.4L1954.8 2499.2zM1946.8 2494.4L1956.8 2489L1956.8 2499.8zM1948.8 2495L1958.8 2489.6L1958.8 2500.4zM1950.8 2495.7L1960.8 2490.3L1960.8 2501.1zM1952.8 2496.4L1962.8 2491L1962.8 2501.8zM1954.9 2497.2L1964.9 2491.8L1964.9 2502.6zM1956.9 2498L1966.9 2492.6L1966.9 2503.4zM1958.9 2498.8L1968.9 2493.4L1968.9 2504.2zM1960.9 2499.6L1970.9 2494.2L1970.9 2505zM1962.9 2500.4L1972.9 2495L1972.9 2505.8zM1964.9 2501.4L1974.9 2496L1974.9 2506.8zM1966.9 2502.4L1976.9 2497L1976.9 2507.8zM1968.9 2503.5L1978.9 2498.1L1978.9 2508.9zM1970.9 2504.7L1980.9 2499.3L1980.9 2510.1zM1972.9 2505.9L1982.9 2500.5L1982.9 2511.3z" fill="#000088"/>
<rect x="1526.3" y="2397.6" width="501.8" height="469.2" fill="none" stroke="#000" stroke-width="1.5"/>
<path d="M1526.3 2866.8v-8M1551.4 2866.8v-4.5M1576.5 2866.8v-8M1601.6 2866.8v-4.5M1626.7 2866.8v-8M1651.8 2866.8v-4.5M1676.8 2866.8v-8M1701.9 2866.8v-4.5M1727 2866.8v-8M1752.1 2866.8v-4.5M1777.2 2866.8v-8M1802.3 2866.8v-4.5M1827.4 2866.8v-8M1852.5 2866.8v-4.5M1877.6 2866.8v-8M1902.7 2866.8v-4.5M1927.7 2866.8v-8M1952.8 2866.8v-4.5M1977.9 2866.8v-8M2003 2866.8v-4.5M2028.1 2866.8v-8M1526.3 2433.7h8M1526.3 2469.8h4.5M1526.3 2505.9h8M1526.3 2542h4.5M1526.3 2578.1h8M1526.3 2614.2h4.5M1526.3 2650.3h8M1526.3 2686.4h4.5M1526.3 2722.5h8M1526.3 2758.6h4.5M1526.3 2794.7h8M1526.3 2830.8h4.5M1526.3 2866.9h8" stroke="#000" stroke-width="1.4" fill="none"/>
<text transform="translate(1526.3 2893.5) scale(0.95 1)" font-size="19.5" font-weight="bold" text-anchor="middle">0</text>
<text transform="translate(1576.5 2893.5) scale(0.95 1)" font-size="19.5" font-weight="bold" text-anchor="middle">2</text>
<text transform="translate(1626.7 2893.5) scale(0.95 1)" font-size="19.5" font-weight="bold" text-anchor="middle">4</text>
<text transform="translate(1676.8 2893.5) scale(0.95 1)" font-size="19.5" font-weight="bold" text-anchor="middle">6</text>
<text transform="translate(1727 2893.5) scale(0.95 1)" font-size="19.5" font-weight="bold" text-anchor="middle">8</text>
<text transform="translate(1777.2 2893.5) scale(0.95 1)" font-size="19.5" font-weight="bold" text-anchor="middle">10</text>
<text transform="translate(1827.4 2893.5) scale(0.95 1)" font-size="19.5" font-weight="bold" text-anchor="middle">12</text>
<text transform="translate(1877.6 2893.5) scale(0.95 1)" font-size="19.5" font-weight="bold" text-anchor="middle">14</text>
<text transform="translate(1927.7 2893.5) scale(0.95 1)" font-size="19.5" font-weight="bold" text-anchor="middle">16</text>
<text transform="translate(1977.9 2893.5) scale(0.95 1)" font-size="19.5" font-weight="bold" text-anchor="middle">18</text>
<text transform="translate(2028.1 2893.5) scale(0.95 1)" font-size="19.5" font-weight="bold" text-anchor="middle">20</text>
<text transform="translate(1517.5 2439.9) scale(0.95 1)" font-size="19.5" font-weight="bold" text-anchor="end">0</text>
<text transform="translate(1517.5 2512.1) scale(0.95 1)" font-size="19.5" font-weight="bold" text-anchor="end">-5</text>
<text transform="translate(1517.5 2584.3) scale(0.95 1)" font-size="19.5" font-weight="bold" text-anchor="end">-10</text>
<text transform="translate(1517.5 2656.5) scale(0.95 1)" font-size="19.5" font-weight="bold" text-anchor="end">-15</text>
<text transform="translate(1517.5 2728.7) scale(0.95 1)" font-size="19.5" font-weight="bold" text-anchor="end">-20</text>
<text transform="translate(1517.5 2800.9) scale(0.95 1)" font-size="19.5" font-weight="bold" text-anchor="end">-25</text>
<text transform="translate(1517.5 2873.1) scale(0.95 1)" font-size="19.5" font-weight="bold" text-anchor="end">-30</text>
<text x="1771" y="2926.5" font-size="23" font-weight="normal" text-anchor="middle" textLength="157" lengthAdjust="spacingAndGlyphs" stroke="#000" stroke-width="0.5">Frequency/GHz</text>
<text transform="translate(1485 2643) rotate(-90)" font-size="24" font-weight="bold" text-anchor="middle" textLength="226" lengthAdjust="spacing">Reflection Loss/dB</text>
<rect x="1902.4" y="2640.8" width="122.3" height="171.9" fill="#fff" stroke="#000" stroke-width="1.6"/>
<path d="M1908.4 2655.1H1948.5" stroke="#000000" stroke-width="1.3" fill="none"/>
<path d="M1924 2650.5h9.2v9.2h-9.2z" fill="#000000"/>
<text x="1955" y="2662.1" font-size="19.5" font-weight="bold" textLength="67" lengthAdjust="spacingAndGlyphs">1.5 mm</text>
<path d="M1908.4 2684H1948.5" stroke="#e00000" stroke-width="1.3" fill="none"/>
<path d="M1923.7 2684a4.9 4.9 0 1 0 9.8 0a4.9 4.9 0 1 0 -9.8 0z" fill="#ff0000"/>
<text x="1955" y="2691" font-size="19.5" font-weight="bold" textLength="67" lengthAdjust="spacingAndGlyphs">2.0 mm</text>
<path d="M1908.4 2713.3H1948.5" stroke="#000090" stroke-width="1.3" fill="none"/>
<path d="M1928.6 2708.3L1934.1 2718.3L1923.1 2718.3z" fill="#0000ff"/>
<text x="1955" y="2720.3" font-size="19.5" font-weight="bold" textLength="67" lengthAdjust="spacingAndGlyphs">2.5 mm</text>
<path d="M1908.4 2742.2H1948.5" stroke="#e000c0" stroke-width="1.3" fill="none"/>
<path d="M1928.6 2747.2L1934.1 2737.2L1923.1 2737.2z" fill="#ff00ff"/>
<text x="1955" y="2749.2" font-size="19.5" font-weight="bold" textLength="67" lengthAdjust="spacingAndGlyphs">3.0 mm</text>
<path d="M1908.4 2771H1948.5" stroke="#006000" stroke-width="1.3" fill="none"/>
<path d="M1928.6 2765L1934 2771L1928.6 2777L1923.2 2771z" fill="#008000"/>
<text x="1955" y="2778" font-size="19.5" font-weight="bold" textLength="67" lengthAdjust="spacingAndGlyphs">3.5 mm</text>
<path d="M1908.4 2800.3H1948.5" stroke="#000070" stroke-width="1.3" fill="none"/>
<path d="M1923.6 2800.3L1933.6 2794.9L1933.6 2805.7z" fill="#000088"/>
<text x="1955" y="2807.3" font-size="19.5" font-weight="bold" textLength="67" lengthAdjust="spacingAndGlyphs">4.0 mm</text>
</g>
<g id="colorbar">
<rect x="2154.5" y="1763" width="91.2" height="96.4" fill="#000000"/>
<rect x="2154.5" y="1858.8" width="91.2" height="96.4" fill="#7b0068"/>
<rect x="2154.5" y="1954.7" width="91.2" height="96.4" fill="#0000ff"/>
<rect x="2154.5" y="2050.6" width="91.2" height="96.4" fill="#00ffc0"/>
<rect x="2154.5" y="2146.4" width="91.2" height="96.4" fill="#99ff00"/>
<rect x="2154.5" y="2242.2" width="91.2" height="96.4" fill="#ffa500"/>
<rect x="2154.5" y="2338.1" width="91.2" height="96.4" fill="#ff0000"/>
<rect x="2154.5" y="2433.9" width="91.2" height="96.4" fill="#ff0000"/>
<rect x="2154.5" y="2529.8" width="91.2" height="96.4" fill="#680000"/>
<text transform="translate(2258.5 1872.6) scale(0.975 1)" font-size="36.5" font-weight="normal" fill="#000">-27.70</text>
<text transform="translate(2258.5 1968.5) scale(0.975 1)" font-size="36.5" font-weight="normal" fill="#000">-24.24</text>
<text transform="translate(2258.5 2064.4) scale(0.975 1)" font-size="36.5" font-weight="normal" fill="#000">-20.78</text>
<text transform="translate(2258.5 2160.2) scale(0.975 1)" font-size="36.5" font-weight="normal" fill="#000">-17.31</text>
<text transform="translate(2258.5 2256.1) scale(0.975 1)" font-size="36.5" font-weight="normal" fill="#000">-13.85</text>
<text transform="translate(2258.5 2351.9) scale(0.975 1)" font-size="36.5" font-weight="normal" fill="#000">-10.39</text>
<text transform="translate(2258.5 2447.8) scale(0.975 1)" font-size="36.5" font-weight="normal" fill="#000">-6.925</text>
<text transform="translate(2258.5 2543.6) scale(0.975 1)" font-size="36.5" font-weight="normal" fill="#000">-3.463</text>
<text transform="translate(2258.5 2639.5) scale(0.975 1)" font-size="36.5" font-weight="normal" fill="#000">0.000</text>
</g>
</g>
</svg>
</body>
</html>
